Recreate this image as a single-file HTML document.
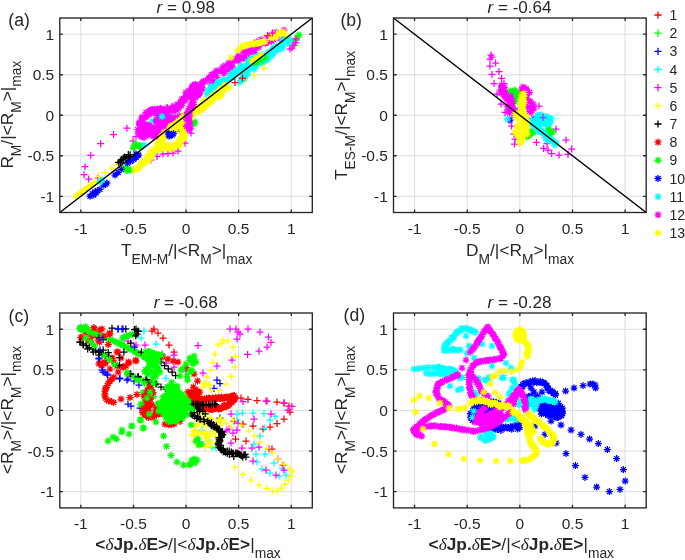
<!DOCTYPE html>
<html lang="en"><head><meta charset="utf-8"><title>Figure</title>
<style>
html,body{margin:0;padding:0;background:#fff;}
body{width:685px;height:560px;overflow:hidden;font-family:"Liberation Sans", Arial, Helvetica, sans-serif;}
svg{display:block;will-change:transform;}
</style></head><body>
<svg width="685" height="560" viewBox="0 0 685 560" font-family='"Liberation Sans", Arial, Helvetica, sans-serif' fill="#262626">
<g id="ax-a">
<line x1="80.84" y1="18.0" x2="80.84" y2="212.5" stroke="#dcdcdc" stroke-width="1"/>
<line x1="59.8" y1="196.29" x2="312.3" y2="196.29" stroke="#dcdcdc" stroke-width="1"/>
<line x1="133.45" y1="18.0" x2="133.45" y2="212.5" stroke="#dcdcdc" stroke-width="1"/>
<line x1="59.8" y1="155.77" x2="312.3" y2="155.77" stroke="#dcdcdc" stroke-width="1"/>
<line x1="186.05" y1="18.0" x2="186.05" y2="212.5" stroke="#dcdcdc" stroke-width="1"/>
<line x1="59.8" y1="115.25" x2="312.3" y2="115.25" stroke="#dcdcdc" stroke-width="1"/>
<line x1="238.65" y1="18.0" x2="238.65" y2="212.5" stroke="#dcdcdc" stroke-width="1"/>
<line x1="59.8" y1="74.73" x2="312.3" y2="74.73" stroke="#dcdcdc" stroke-width="1"/>
<line x1="291.26" y1="18.0" x2="291.26" y2="212.5" stroke="#dcdcdc" stroke-width="1"/>
<line x1="59.8" y1="34.21" x2="312.3" y2="34.21" stroke="#dcdcdc" stroke-width="1"/>
<g class="pts"><path d="M123.4 128.2h7M126.9 124.7v7M110.0 134.6h7M113.5 131.1v7M97.1 143.7h7M100.6 140.2v7M87.3 155.3h7M90.8 151.8v7M81.5 166.7h7M85.0 163.2v7M80.5 174.7h7M84.0 171.2v7M85.2 179.0h7M88.7 175.5v7M94.5 178.0h7M98.0 174.5v7M147.5 160.0h7M151.0 156.5v7M153.5 156.4h7M157.0 152.9v7M159.5 154.0h7M163.0 150.5v7M164.5 153.6h7M168.0 150.1v7M169.5 153.0h7M173.0 149.5v7M174.5 151.0h7M178.0 147.5v7M181.5 143.0h7M185.0 139.5v7M187.5 133.0h7M191.0 129.5v7M132.5 136.5h7M136.0 133.0v7M136.0 124.0h7M139.5 120.5v7M162.5 108.0h7M166.0 104.5v7M169.5 107.0h7M173.0 103.5v7M264.5 36.0h7M268.0 32.5v7M268.5 34.0h7M272.0 30.5v7M288.5 48.0h7M292.0 44.5v7M290.5 45.0h7M294.0 41.5v7M292.5 40.0h7M296.0 36.5v7M129.5 141.0h7M133.0 137.5v7M130.5 148.0h7M134.0 144.5v7" stroke="#ff00ff" stroke-width="1.25" fill="none"/>
<path d="M72.0 196.5h7M75.5 193.0v7M73.8 195.1h7M77.3 191.6v7M75.6 193.7h7M79.1 190.2v7M77.5 192.3h7M81.0 188.8v7M79.3 190.9h7M82.8 187.4v7M81.2 189.6h7M84.7 186.1v7M83.1 188.2h7M86.6 184.7v7M84.9 186.9h7M88.4 183.4v7M86.8 185.6h7M90.3 182.1v7M88.7 184.2h7M92.2 180.7v7M90.5 182.9h7M94.0 179.4v7M92.4 181.6h7M95.9 178.1v7" stroke="#ffff00" stroke-width="1.25" fill="none"/>
<path d="M95.2 176.2h7M98.8 172.8v7M101.5 172.5h7M105.0 169.0v7M108.4 168.0h7M111.9 164.5v7M114.0 164.4h7M117.5 160.9v7" stroke="#ffff00" stroke-width="1.25" fill="none"/>
<path d="M240.5 81.0h7M244.0 77.5v7M250.5 75.0h7M254.0 71.5v7M260.5 68.0h7M264.0 64.5v7" stroke="#ffff00" stroke-width="1.25" fill="none"/>
<path d="M114.9 162.3h7M118.4 158.8v7M116.6 162.8h7M120.1 159.3v7M117.2 161.0h7M120.7 157.5v7M117.8 159.6h7M121.3 156.1v7M119.7 159.9h7M123.2 156.4v7M119.7 158.1h7M123.2 154.6v7M121.0 157.1h7M124.5 153.6v7M122.6 158.2h7M126.1 154.7v7M124.8 157.7h7M128.3 154.2v7M125.0 156.3h7M128.5 152.8v7M124.8 154.6h7M128.3 151.1v7M126.6 154.8h7M130.1 151.3v7" stroke="#000000" stroke-width="1.25" fill="none"/>
<path d="M121.2 167.7h7M124.7 164.2v7M122.2 165.2l5.0 5.0M122.2 170.2l5.0 -5.0M119.8 168.8h7M123.3 165.3v7M120.8 166.3l5.0 5.0M120.8 171.3l5.0 -5.0M123.5 170.7h7M127.0 167.2v7M124.4 168.2l5.0 5.0M124.4 173.2l5.0 -5.0M124.2 169.7h7M127.7 166.2v7M125.2 167.2l5.0 5.0M125.2 172.2l5.0 -5.0M124.0 169.8h7M127.5 166.3v7M125.0 167.3l5.0 5.0M125.0 172.3l5.0 -5.0M123.6 167.9h7M127.1 164.4v7M124.6 165.4l5.0 5.0M124.6 170.4l5.0 -5.0M127.1 170.0h7M130.6 166.5v7M128.0 167.5l5.0 5.0M128.0 172.6l5.0 -5.0" stroke="#00ff00" stroke-width="1.25" fill="none"/>
<path d="M131.8 145.1h7M135.3 141.6v7M132.8 142.6l5.0 5.0M132.8 147.6l5.0 -5.0M131.6 144.0h7M135.1 140.5v7M132.6 141.5l5.0 5.0M132.6 146.5l5.0 -5.0M135.9 146.3h7M139.4 142.8v7M136.9 143.8l5.0 5.0M136.9 148.8l5.0 -5.0M136.6 146.2h7M140.1 142.7v7M137.6 143.7l5.0 5.0M137.6 148.7l5.0 -5.0M137.2 146.8h7M140.7 143.3v7M138.2 144.3l5.0 5.0M138.2 149.3l5.0 -5.0M137.8 146.3h7M141.3 142.8v7M138.8 143.8l5.0 5.0M138.8 148.8l5.0 -5.0M129.7 147.9h7M133.2 144.4v7M130.6 145.4l5.0 5.0M130.6 150.4l5.0 -5.0M136.0 145.4h7M139.5 141.9v7M137.0 142.9l5.0 5.0M137.0 147.9l5.0 -5.0" stroke="#00ff00" stroke-width="1.25" fill="none"/>
<path d="M191.5 122.0h7M195.0 118.5v7M192.5 119.5l5.0 5.0M192.5 124.5l5.0 -5.0M190.5 124.0h7M194.0 120.5v7M191.5 121.5l5.0 5.0M191.5 126.5l5.0 -5.0M295.5 35.0h7M299.0 31.5v7M296.5 32.5l5.0 5.0M296.5 37.5l5.0 -5.0M290.5 41.0h7M294.0 37.5v7M291.5 38.5l5.0 5.0M291.5 43.5l5.0 -5.0M293.5 38.0h7M297.0 34.5v7M294.5 35.5l5.0 5.0M294.5 40.5l5.0 -5.0M260.5 60.0h7M264.0 56.5v7M261.5 57.5l5.0 5.0M261.5 62.5l5.0 -5.0M258.5 62.0h7M262.0 58.5v7M259.5 59.5l5.0 5.0M259.5 64.5l5.0 -5.0" stroke="#00ff00" stroke-width="1.25" fill="none"/>
<path d="M86.5 196.2h7M90.0 192.8v7M87.5 193.7l5.0 5.0M87.5 198.8l5.0 -5.0M89.0 193.8h7M92.5 190.2v7M90.0 191.2l5.0 5.0M90.0 196.3l5.0 -5.0M91.5 191.9h7M95.0 188.4v7M92.5 189.4l5.0 5.0M92.5 194.4l5.0 -5.0M94.0 190.6h7M97.5 187.1v7M95.0 188.1l5.0 5.0M95.0 193.1l5.0 -5.0M96.5 189.4h7M100.0 185.9v7M97.5 186.9l5.0 5.0M97.5 191.9l5.0 -5.0M90.2 195.0h7M93.8 191.5v7M91.2 192.5l5.0 5.0M91.2 197.5l5.0 -5.0M92.8 192.8h7M96.2 189.2v7M93.7 190.2l5.0 5.0M93.7 195.3l5.0 -5.0M100.2 185.0h7M103.8 181.5v7M101.2 182.5l5.0 5.0M101.2 187.5l5.0 -5.0M103.4 183.1h7M106.9 179.6v7M104.4 180.6l5.0 5.0M104.4 185.6l5.0 -5.0M102.1 184.4h7M105.6 180.9v7M103.1 181.9l5.0 5.0M103.1 186.9l5.0 -5.0M111.5 175.0h7M115.0 171.5v7M112.5 172.5l5.0 5.0M112.5 177.5l5.0 -5.0M114.6 172.5h7M118.1 169.0v7M115.6 170.0l5.0 5.0M115.6 175.0l5.0 -5.0M117.8 169.4h7M121.2 165.9v7M118.7 166.9l5.0 5.0M118.7 171.9l5.0 -5.0M124.0 163.1h7M127.5 159.6v7M125.0 160.6l5.0 5.0M125.0 165.6l5.0 -5.0M127.1 161.2h7M130.6 157.8v7M128.1 158.7l5.0 5.0M128.1 163.8l5.0 -5.0M130.2 159.4h7M133.8 155.9v7M131.2 156.9l5.0 5.0M131.2 161.9l5.0 -5.0M135.2 155.0h7M138.8 151.5v7M136.2 152.5l5.0 5.0M136.2 157.5l5.0 -5.0M132.8 157.5h7M136.2 154.0v7M133.7 155.0l5.0 5.0M133.7 160.0l5.0 -5.0" stroke="#0000ff" stroke-width="1.25" fill="none"/>
<path d="M194.5 95.0h7M198.0 91.5v7M195.5 92.5l5.0 5.0M195.5 97.5l5.0 -5.0M132.5 154.0h7M136.0 150.5v7M133.5 151.5l5.0 5.0M133.5 156.5l5.0 -5.0M173.5 129.0h7M177.0 125.5v7M174.5 126.5l5.0 5.0M174.5 131.5l5.0 -5.0" stroke="#0000ff" stroke-width="1.25" fill="none"/>
<path d="M158.5 117.0h7M162.0 113.5v7M159.5 114.5l5.0 5.0M159.5 119.5l5.0 -5.0M156.5 119.0h7M160.0 115.5v7M157.5 116.5l5.0 5.0M157.5 121.5l5.0 -5.0M152.5 129.0h7M156.0 125.5v7M153.5 126.5l5.0 5.0M153.5 131.5l5.0 -5.0M148.5 121.0h7M152.0 117.5v7M149.5 118.5l5.0 5.0M149.5 123.5l5.0 -5.0" stroke="#00ffff" stroke-width="1.25" fill="none"/>
<path d="M190.2 89.6h7M193.7 86.1v7M191.2 87.1l5.0 5.0M191.2 92.1l5.0 -5.0M196.3 93.6h7M199.8 90.1v7M197.3 91.1l5.0 5.0M197.3 96.1l5.0 -5.0M192.8 87.8h7M196.3 84.3v7M193.7 85.2l5.0 5.0M193.7 90.3l5.0 -5.0M193.7 86.7h7M197.2 83.2v7M194.7 84.2l5.0 5.0M194.7 89.2l5.0 -5.0M198.7 89.8h7M202.2 86.3v7M199.7 87.3l5.0 5.0M199.7 92.4l5.0 -5.0M198.8 87.2h7M202.3 83.7v7M199.8 84.7l5.0 5.0M199.8 89.7l5.0 -5.0M198.3 83.7h7M201.8 80.2v7M199.3 81.2l5.0 5.0M199.3 86.2l5.0 -5.0M199.2 82.4h7M202.7 78.9v7M200.2 79.9l5.0 5.0M200.2 84.9l5.0 -5.0M200.2 81.4h7M203.7 77.9v7M201.1 78.9l5.0 5.0M201.1 83.9l5.0 -5.0M201.8 81.0h7M205.3 77.5v7M202.8 78.5l5.0 5.0M202.8 83.5l5.0 -5.0M207.3 84.3h7M210.8 80.8v7M208.3 81.7l5.0 5.0M208.3 86.8l5.0 -5.0M205.1 79.1h7M208.6 75.6v7M206.1 76.6l5.0 5.0M206.1 81.6l5.0 -5.0M205.6 77.8h7M209.1 74.3v7M206.5 75.3l5.0 5.0M206.5 80.3l5.0 -5.0M210.2 80.7h7M213.7 77.2v7M211.2 78.1l5.0 5.0M211.2 83.2l5.0 -5.0M208.0 74.7h7M211.5 71.2v7M208.9 72.2l5.0 5.0M208.9 77.3l5.0 -5.0M209.2 74.9h7M212.7 71.4v7M210.2 72.4l5.0 5.0M210.2 77.4l5.0 -5.0M213.3 77.3h7M216.8 73.8v7M214.3 74.8l5.0 5.0M214.3 79.9l5.0 -5.0M212.0 73.5h7M215.5 70.0v7M213.0 71.0l5.0 5.0M213.0 76.0l5.0 -5.0M212.6 70.9h7M216.1 67.4v7M213.6 68.4l5.0 5.0M213.6 73.4l5.0 -5.0M214.7 70.8h7M218.2 67.3v7M215.6 68.3l5.0 5.0M215.6 73.4l5.0 -5.0M216.5 70.8h7M220.0 67.3v7M217.5 68.2l5.0 5.0M217.5 73.3l5.0 -5.0M220.5 73.7h7M224.0 70.2v7M221.5 71.1l5.0 5.0M221.5 76.2l5.0 -5.0M220.4 70.0h7M223.9 66.5v7M221.4 67.5l5.0 5.0M221.4 72.5l5.0 -5.0M219.3 66.9h7M222.8 63.4v7M220.3 64.4l5.0 5.0M220.3 69.4l5.0 -5.0M224.5 70.4h7M228.0 66.9v7M225.5 67.9l5.0 5.0M225.5 72.9l5.0 -5.0M222.3 65.5h7M225.8 62.0v7M223.3 63.0l5.0 5.0M223.3 68.0l5.0 -5.0M226.4 67.4h7M229.9 63.9v7M227.4 64.9l5.0 5.0M227.4 69.9l5.0 -5.0M225.3 62.9h7M228.8 59.4v7M226.3 60.4l5.0 5.0M226.3 65.4l5.0 -5.0M229.3 66.9h7M232.8 63.4v7M230.3 64.4l5.0 5.0M230.3 69.4l5.0 -5.0M228.4 63.2h7M231.9 59.7v7M229.4 60.6l5.0 5.0M229.4 65.7l5.0 -5.0M229.0 59.3h7M232.5 55.8v7M229.9 56.8l5.0 5.0M229.9 61.8l5.0 -5.0M230.9 60.0h7M234.4 56.5v7M231.9 57.5l5.0 5.0M231.9 62.5l5.0 -5.0M232.5 59.3h7M236.0 55.8v7M233.5 56.7l5.0 5.0M233.5 61.8l5.0 -5.0M234.8 61.1h7M238.3 57.6v7M235.8 58.5l5.0 5.0M235.8 63.6l5.0 -5.0M234.8 57.1h7M238.3 53.6v7M235.8 54.6l5.0 5.0M235.8 59.7l5.0 -5.0M235.3 55.9h7M238.8 52.4v7M236.3 53.3l5.0 5.0M236.3 58.4l5.0 -5.0M239.2 58.0h7M242.7 54.5v7M240.2 55.5l5.0 5.0M240.2 60.6l5.0 -5.0M240.4 57.7h7M243.9 54.2v7M241.3 55.2l5.0 5.0M241.3 60.2l5.0 -5.0M243.1 58.6h7M246.6 55.1v7M244.0 56.1l5.0 5.0M244.0 61.1l5.0 -5.0M239.9 52.0h7M243.4 48.5v7M240.8 49.4l5.0 5.0M240.8 54.5l5.0 -5.0M243.1 53.8h7M246.6 50.3v7M244.1 51.2l5.0 5.0M244.1 56.3l5.0 -5.0M243.2 50.9h7M246.7 47.4v7M244.2 48.4l5.0 5.0M244.2 53.4l5.0 -5.0M246.3 52.5h7M249.8 49.0v7M247.3 50.0l5.0 5.0M247.3 55.0l5.0 -5.0M247.1 49.7h7M250.6 46.2v7M248.0 47.2l5.0 5.0M248.0 52.3l5.0 -5.0M251.1 52.9h7M254.6 49.4v7M252.1 50.3l5.0 5.0M252.1 55.4l5.0 -5.0M251.0 50.1h7M254.5 46.6v7M251.9 47.6l5.0 5.0M251.9 52.7l5.0 -5.0M249.3 45.9h7M252.8 42.4v7M250.3 43.4l5.0 5.0M250.3 48.4l5.0 -5.0M250.7 43.7h7M254.2 40.2v7M251.7 41.2l5.0 5.0M251.7 46.2l5.0 -5.0M255.2 47.2h7M258.7 43.7v7M256.2 44.7l5.0 5.0M256.2 49.8l5.0 -5.0M253.2 42.1h7M256.7 38.6v7M254.1 39.5l5.0 5.0M254.1 44.6l5.0 -5.0M256.7 44.1h7M260.2 40.6v7M257.6 41.6l5.0 5.0M257.6 46.6l5.0 -5.0M257.5 42.0h7M261.0 38.5v7M258.4 39.4l5.0 5.0M258.4 44.5l5.0 -5.0M257.5 39.7h7M261.0 36.2v7M258.4 37.1l5.0 5.0M258.4 42.2l5.0 -5.0M261.9 43.2h7M265.4 39.7v7M262.9 40.7l5.0 5.0M262.9 45.7l5.0 -5.0M263.1 42.4h7M266.6 38.9v7M264.1 39.9l5.0 5.0M264.1 45.0l5.0 -5.0M264.9 41.9h7M268.4 38.4v7M265.9 39.4l5.0 5.0M265.9 44.4l5.0 -5.0M264.3 38.2h7M267.8 34.7v7M265.2 35.6l5.0 5.0M265.2 40.7l5.0 -5.0M268.0 41.0h7M271.5 37.5v7M269.0 38.5l5.0 5.0M269.0 43.5l5.0 -5.0M267.4 36.9h7M270.9 33.4v7M268.4 34.4l5.0 5.0M268.4 39.4l5.0 -5.0M270.0 39.6h7M273.5 36.1v7M271.0 37.1l5.0 5.0M271.0 42.1l5.0 -5.0M270.6 37.4h7M274.1 33.9v7M271.6 34.9l5.0 5.0M271.6 40.0l5.0 -5.0M272.2 36.6h7M275.7 33.1v7M273.2 34.1l5.0 5.0M273.2 39.1l5.0 -5.0M272.7 32.3h7M276.2 28.8v7M273.7 29.8l5.0 5.0M273.7 34.8l5.0 -5.0M276.5 38.8h7M280.0 35.3v7M277.4 36.3l5.0 5.0M277.4 41.4l5.0 -5.0M277.0 36.5h7M280.5 33.0v7M277.9 34.0l5.0 5.0M277.9 39.0l5.0 -5.0M278.7 36.0h7M282.2 32.5v7M279.7 33.5l5.0 5.0M279.7 38.6l5.0 -5.0M279.8 33.3h7M283.3 29.8v7M280.8 30.8l5.0 5.0M280.8 35.8l5.0 -5.0M280.5 30.1h7M284.0 26.6v7M281.5 27.6l5.0 5.0M281.5 32.6l5.0 -5.0" stroke="#ff00ff" stroke-width="1.25" fill="none"/>
<path d="M134.2 129.6h7M137.7 126.1v7M135.2 127.1l5.0 5.0M135.2 132.1l5.0 -5.0M136.5 128.9h7M140.0 125.4v7M137.5 126.4l5.0 5.0M137.5 131.4l5.0 -5.0M137.8 127.5h7M141.3 124.0v7M138.8 125.0l5.0 5.0M138.8 130.1l5.0 -5.0M137.6 125.9h7M141.1 122.4v7M138.6 123.4l5.0 5.0M138.6 128.4l5.0 -5.0M135.9 125.1h7M139.4 121.6v7M136.9 122.5l5.0 5.0M136.9 127.6l5.0 -5.0M136.3 123.3h7M139.8 119.8v7M137.3 120.8l5.0 5.0M137.3 125.8l5.0 -5.0M136.0 122.1h7M139.5 118.6v7M136.9 119.6l5.0 5.0M136.9 124.6l5.0 -5.0M139.9 121.9h7M143.4 118.4v7M140.9 119.4l5.0 5.0M140.9 124.4l5.0 -5.0M138.6 119.6h7M142.1 116.1v7M139.5 117.0l5.0 5.0M139.5 122.1l5.0 -5.0M138.6 118.3h7M142.1 114.8v7M139.6 115.8l5.0 5.0M139.6 120.8l5.0 -5.0M138.6 117.0h7M142.1 113.5v7M139.6 114.5l5.0 5.0M139.6 119.5l5.0 -5.0M142.1 117.1h7M145.6 113.6v7M143.1 114.5l5.0 5.0M143.1 119.6l5.0 -5.0M142.7 116.7h7M146.2 113.2v7M143.6 114.2l5.0 5.0M143.6 119.2l5.0 -5.0M142.3 115.0h7M145.8 111.5v7M143.3 112.5l5.0 5.0M143.3 117.6l5.0 -5.0M142.4 112.4h7M145.9 108.9v7M143.4 109.9l5.0 5.0M143.4 114.9l5.0 -5.0M145.5 114.7h7M149.0 111.2v7M146.5 112.1l5.0 5.0M146.5 117.2l5.0 -5.0M146.4 113.4h7M149.9 109.9v7M147.4 110.9l5.0 5.0M147.4 115.9l5.0 -5.0M145.9 111.2h7M149.4 107.7v7M146.9 108.7l5.0 5.0M146.9 113.7l5.0 -5.0M147.6 111.2h7M151.1 107.7v7M148.5 108.7l5.0 5.0M148.5 113.8l5.0 -5.0M148.8 109.6h7M152.3 106.1v7M149.8 107.1l5.0 5.0M149.8 112.2l5.0 -5.0M150.2 111.8h7M153.7 108.3v7M151.2 109.3l5.0 5.0M151.2 114.4l5.0 -5.0M152.0 110.5h7M155.5 107.0v7M152.9 108.0l5.0 5.0M152.9 113.0l5.0 -5.0M152.5 113.9h7M156.0 110.4v7M153.5 111.4l5.0 5.0M153.5 116.5l5.0 -5.0M154.1 109.6h7M157.6 106.1v7M155.1 107.0l5.0 5.0M155.1 112.1l5.0 -5.0M154.7 113.6h7M158.2 110.1v7M155.7 111.1l5.0 5.0M155.7 116.2l5.0 -5.0M156.1 113.1h7M159.6 109.6v7M157.1 110.6l5.0 5.0M157.1 115.6l5.0 -5.0M158.4 112.8h7M161.9 109.3v7M159.3 110.3l5.0 5.0M159.3 115.3l5.0 -5.0M160.0 112.5h7M163.5 109.0v7M161.0 110.0l5.0 5.0M161.0 115.0l5.0 -5.0M159.0 114.8h7M162.5 111.3v7M160.0 112.3l5.0 5.0M160.0 117.3l5.0 -5.0M158.4 116.9h7M161.9 113.4v7M159.4 114.4l5.0 5.0M159.4 119.5l5.0 -5.0M162.2 117.0h7M165.7 113.5v7M163.1 114.5l5.0 5.0M163.1 119.5l5.0 -5.0M159.3 118.2h7M162.8 114.7v7M160.3 115.7l5.0 5.0M160.3 120.7l5.0 -5.0M158.7 119.6h7M162.2 116.1v7M159.7 117.0l5.0 5.0M159.7 122.1l5.0 -5.0M157.3 120.6h7M160.8 117.1v7M158.3 118.1l5.0 5.0M158.3 123.1l5.0 -5.0M157.6 121.5h7M161.1 118.0v7M158.5 119.0l5.0 5.0M158.5 124.0l5.0 -5.0M158.0 123.1h7M161.5 119.6v7M159.0 120.6l5.0 5.0M159.0 125.6l5.0 -5.0M159.2 125.8h7M162.7 122.3v7M160.1 123.3l5.0 5.0M160.1 128.3l5.0 -5.0M155.7 124.5h7M159.2 121.0v7M156.6 122.0l5.0 5.0M156.6 127.0l5.0 -5.0M156.4 127.0h7M159.9 123.5v7M157.4 124.5l5.0 5.0M157.4 129.5l5.0 -5.0M153.9 126.7h7M157.4 123.2v7M154.8 124.2l5.0 5.0M154.8 129.3l5.0 -5.0M153.2 128.1h7M156.7 124.6v7M154.2 125.6l5.0 5.0M154.2 130.7l5.0 -5.0M153.2 129.9h7M156.7 126.4v7M154.2 127.3l5.0 5.0M154.2 132.4l5.0 -5.0M150.8 128.7h7M154.3 125.2v7M151.8 126.2l5.0 5.0M151.8 131.2l5.0 -5.0M149.6 129.7h7M153.1 126.2v7M150.6 127.2l5.0 5.0M150.6 132.2l5.0 -5.0M151.2 133.5h7M154.7 130.0v7M152.2 131.0l5.0 5.0M152.2 136.0l5.0 -5.0M148.4 132.4h7M151.9 128.9v7M149.4 129.9l5.0 5.0M149.4 134.9l5.0 -5.0M148.3 134.0h7M151.8 130.5v7M149.3 131.5l5.0 5.0M149.3 136.6l5.0 -5.0M145.6 132.9h7M149.1 129.4v7M146.6 130.3l5.0 5.0M146.6 135.4l5.0 -5.0M144.6 133.2h7M148.1 129.7v7M145.6 130.7l5.0 5.0M145.6 135.7l5.0 -5.0M144.7 135.0h7M148.2 131.5v7M145.7 132.5l5.0 5.0M145.7 137.5l5.0 -5.0M143.2 134.9h7M146.7 131.4v7M144.2 132.4l5.0 5.0M144.2 137.4l5.0 -5.0M142.1 135.3h7M145.6 131.8v7M143.1 132.8l5.0 5.0M143.1 137.8l5.0 -5.0M140.7 137.4h7M144.2 133.9v7M141.7 134.9l5.0 5.0M141.7 140.0l5.0 -5.0M139.4 133.6h7M142.9 130.1v7M140.4 131.1l5.0 5.0M140.4 136.1l5.0 -5.0M138.4 135.6h7M141.9 132.1v7M139.4 133.1l5.0 5.0M139.4 138.1l5.0 -5.0M137.1 134.6h7M140.6 131.1v7M138.1 132.1l5.0 5.0M138.1 137.2l5.0 -5.0M139.4 133.0h7M142.9 129.5v7M140.3 130.5l5.0 5.0M140.3 135.5l5.0 -5.0M135.3 132.9h7M138.8 129.4v7M136.2 130.4l5.0 5.0M136.2 135.4l5.0 -5.0M137.0 130.7h7M140.5 127.2v7M138.0 128.2l5.0 5.0M138.0 133.2l5.0 -5.0" stroke="#ff00ff" stroke-width="1.25" fill="none"/>
<path d="M138.4 126.8h7M141.9 123.3v7M139.4 124.3l5.0 5.0M139.4 129.4l5.0 -5.0M143.4 125.3h7M146.9 121.8v7M144.4 122.8l5.0 5.0M144.4 127.8l5.0 -5.0M141.1 135.1h7M144.6 131.6v7M142.1 132.6l5.0 5.0M142.1 137.6l5.0 -5.0M143.1 132.9h7M146.6 129.4v7M144.1 130.4l5.0 5.0M144.1 135.4l5.0 -5.0M147.2 129.6h7M150.7 126.1v7M148.1 127.1l5.0 5.0M148.1 132.2l5.0 -5.0M147.3 126.9h7M150.8 123.4v7M148.3 124.4l5.0 5.0M148.3 129.4l5.0 -5.0M138.0 133.8h7M141.5 130.3v7M139.0 131.2l5.0 5.0M139.0 136.3l5.0 -5.0M140.2 135.0h7M143.7 131.5v7M141.1 132.5l5.0 5.0M141.1 137.5l5.0 -5.0M143.5 130.0h7M147.0 126.5v7M144.5 127.4l5.0 5.0M144.5 132.5l5.0 -5.0M146.4 128.4h7M149.9 124.9v7M147.4 125.9l5.0 5.0M147.4 131.0l5.0 -5.0M138.3 131.6h7M141.8 128.1v7M139.3 129.1l5.0 5.0M139.3 134.1l5.0 -5.0M139.8 136.8h7M143.3 133.3v7M140.8 134.3l5.0 5.0M140.8 139.3l5.0 -5.0M147.8 127.0h7M151.3 123.5v7M148.8 124.5l5.0 5.0M148.8 129.5l5.0 -5.0M140.6 127.6h7M144.1 124.1v7M141.6 125.1l5.0 5.0M141.6 130.1l5.0 -5.0M142.0 130.7h7M145.5 127.2v7M143.0 128.2l5.0 5.0M143.0 133.2l5.0 -5.0M140.0 125.8h7M143.5 122.3v7M140.9 123.2l5.0 5.0M140.9 128.3l5.0 -5.0M147.8 126.9h7M151.3 123.4v7M148.8 124.4l5.0 5.0M148.8 129.4l5.0 -5.0M142.1 134.6h7M145.6 131.1v7M143.0 132.1l5.0 5.0M143.0 137.2l5.0 -5.0M142.3 130.4h7M145.8 126.9v7M143.3 127.8l5.0 5.0M143.3 132.9l5.0 -5.0M141.3 125.3h7M144.8 121.8v7M142.3 122.8l5.0 5.0M142.3 127.9l5.0 -5.0M141.5 129.9h7M145.0 126.4v7M142.5 127.3l5.0 5.0M142.5 132.4l5.0 -5.0M138.3 132.8h7M141.8 129.3v7M139.3 130.3l5.0 5.0M139.3 135.4l5.0 -5.0M136.2 133.8h7M139.7 130.3v7M137.1 131.2l5.0 5.0M137.1 136.3l5.0 -5.0M140.1 129.6h7M143.6 126.1v7M141.0 127.0l5.0 5.0M141.0 132.1l5.0 -5.0M138.2 134.9h7M141.7 131.4v7M139.1 132.3l5.0 5.0M139.1 137.4l5.0 -5.0M135.8 131.3h7M139.3 127.8v7M136.7 128.8l5.0 5.0M136.7 133.8l5.0 -5.0M142.9 127.7h7M146.4 124.2v7M143.8 125.2l5.0 5.0M143.8 130.2l5.0 -5.0M140.3 133.4h7M143.8 129.9v7M141.3 130.9l5.0 5.0M141.3 135.9l5.0 -5.0M137.7 136.7h7M141.2 133.2v7M138.7 134.1l5.0 5.0M138.7 139.2l5.0 -5.0M136.6 134.5h7M140.1 131.0v7M137.6 132.0l5.0 5.0M137.6 137.0l5.0 -5.0M136.3 130.5h7M139.8 127.0v7M137.3 128.0l5.0 5.0M137.3 133.0l5.0 -5.0M141.5 130.2h7M145.0 126.7v7M142.5 127.6l5.0 5.0M142.5 132.7l5.0 -5.0M139.3 131.3h7M142.8 127.8v7M140.3 128.8l5.0 5.0M140.3 133.9l5.0 -5.0M139.8 127.6h7M143.3 124.1v7M140.8 125.1l5.0 5.0M140.8 130.2l5.0 -5.0M138.4 134.9h7M141.9 131.4v7M139.4 132.3l5.0 5.0M139.4 137.4l5.0 -5.0M143.5 130.0h7M147.0 126.5v7M144.5 127.5l5.0 5.0M144.5 132.5l5.0 -5.0M146.8 128.8h7M150.3 125.3v7M147.8 126.3l5.0 5.0M147.8 131.4l5.0 -5.0M144.6 125.3h7M148.1 121.8v7M145.5 122.8l5.0 5.0M145.5 127.9l5.0 -5.0M146.6 131.6h7M150.1 128.1v7M147.6 129.1l5.0 5.0M147.6 134.2l5.0 -5.0M145.7 125.7h7M149.2 122.2v7M146.7 123.2l5.0 5.0M146.7 128.2l5.0 -5.0" stroke="#ff00ff" stroke-width="1.25" fill="none"/>
<path d="M159.9 127.1h7M163.4 123.6v7M160.9 124.5l5.0 5.0M160.9 129.6l5.0 -5.0M157.4 126.0h7M160.9 122.5v7M158.4 123.5l5.0 5.0M158.4 128.5l5.0 -5.0M153.1 119.8h7M156.6 116.3v7M154.1 117.3l5.0 5.0M154.1 122.3l5.0 -5.0M163.7 116.6h7M167.2 113.1v7M164.7 114.1l5.0 5.0M164.7 119.2l5.0 -5.0M160.9 114.3h7M164.4 110.8v7M161.9 111.7l5.0 5.0M161.9 116.8l5.0 -5.0M159.5 123.8h7M163.0 120.3v7M160.4 121.3l5.0 5.0M160.4 126.3l5.0 -5.0M165.1 122.9h7M168.6 119.4v7M166.1 120.4l5.0 5.0M166.1 125.5l5.0 -5.0M161.5 123.4h7M165.0 119.9v7M162.4 120.9l5.0 5.0M162.4 125.9l5.0 -5.0M160.9 122.7h7M164.4 119.2v7M161.9 120.2l5.0 5.0M161.9 125.3l5.0 -5.0M160.3 120.6h7M163.8 117.1v7M161.3 118.1l5.0 5.0M161.3 123.1l5.0 -5.0M157.9 116.9h7M161.4 113.4v7M158.9 114.4l5.0 5.0M158.9 119.4l5.0 -5.0M152.8 121.6h7M156.3 118.1v7M153.8 119.1l5.0 5.0M153.8 124.1l5.0 -5.0M160.9 123.9h7M164.4 120.4v7M161.9 121.4l5.0 5.0M161.9 126.5l5.0 -5.0M156.8 122.6h7M160.3 119.1v7M157.8 120.1l5.0 5.0M157.8 125.1l5.0 -5.0M159.2 120.2h7M162.7 116.7v7M160.2 117.6l5.0 5.0M160.2 122.7l5.0 -5.0M157.4 115.3h7M160.9 111.8v7M158.4 112.7l5.0 5.0M158.4 117.8l5.0 -5.0M164.9 122.1h7M168.4 118.6v7M165.9 119.6l5.0 5.0M165.9 124.6l5.0 -5.0M154.6 124.0h7M158.1 120.5v7M155.6 121.5l5.0 5.0M155.6 126.6l5.0 -5.0M162.2 117.5h7M165.7 114.0v7M163.2 115.0l5.0 5.0M163.2 120.0l5.0 -5.0M152.7 121.1h7M156.2 117.6v7M153.7 118.6l5.0 5.0M153.7 123.6l5.0 -5.0M156.2 116.2h7M159.7 112.7v7M157.1 113.7l5.0 5.0M157.1 118.8l5.0 -5.0M167.3 119.6h7M170.8 116.1v7M168.3 117.1l5.0 5.0M168.3 122.1l5.0 -5.0M165.1 122.2h7M168.6 118.7v7M166.0 119.7l5.0 5.0M166.0 124.7l5.0 -5.0M160.7 118.7h7M164.2 115.2v7M161.6 116.2l5.0 5.0M161.6 121.2l5.0 -5.0M161.0 120.0h7M164.5 116.5v7M161.9 117.4l5.0 5.0M161.9 122.5l5.0 -5.0M159.0 127.6h7M162.5 124.1v7M160.0 125.0l5.0 5.0M160.0 130.1l5.0 -5.0M165.0 121.0h7M168.5 117.5v7M166.0 118.5l5.0 5.0M166.0 123.5l5.0 -5.0M163.3 116.7h7M166.8 113.2v7M164.3 114.2l5.0 5.0M164.3 119.2l5.0 -5.0M164.2 121.4h7M167.7 117.9v7M165.2 118.9l5.0 5.0M165.2 124.0l5.0 -5.0M162.6 117.2h7M166.1 113.7v7M163.6 114.7l5.0 5.0M163.6 119.7l5.0 -5.0M159.6 114.5h7M163.1 111.0v7M160.6 112.0l5.0 5.0M160.6 117.0l5.0 -5.0M157.0 122.4h7M160.5 118.9v7M158.0 119.9l5.0 5.0M158.0 124.9l5.0 -5.0M162.4 120.7h7M165.9 117.2v7M163.4 118.2l5.0 5.0M163.4 123.2l5.0 -5.0M160.7 117.6h7M164.2 114.1v7M161.7 115.1l5.0 5.0M161.7 120.2l5.0 -5.0M162.3 119.9h7M165.8 116.4v7M163.3 117.4l5.0 5.0M163.3 122.4l5.0 -5.0M159.2 119.6h7M162.7 116.1v7M160.2 117.1l5.0 5.0M160.2 122.1l5.0 -5.0M164.3 121.3h7M167.8 117.8v7M165.3 118.8l5.0 5.0M165.3 123.8l5.0 -5.0M162.9 122.0h7M166.4 118.5v7M163.9 119.5l5.0 5.0M163.9 124.5l5.0 -5.0M155.3 122.7h7M158.8 119.2v7M156.3 120.2l5.0 5.0M156.3 125.2l5.0 -5.0M154.8 118.5h7M158.3 115.0v7M155.8 116.0l5.0 5.0M155.8 121.0l5.0 -5.0M158.9 127.6h7M162.4 124.1v7M159.9 125.1l5.0 5.0M159.9 130.1l5.0 -5.0M160.3 120.5h7M163.8 117.0v7M161.3 118.0l5.0 5.0M161.3 123.0l5.0 -5.0M166.7 116.6h7M170.2 113.1v7M167.7 114.0l5.0 5.0M167.7 119.1l5.0 -5.0M162.8 122.4h7M166.3 118.9v7M163.8 119.9l5.0 5.0M163.8 124.9l5.0 -5.0M154.4 124.4h7M157.9 120.9v7M155.4 121.9l5.0 5.0M155.4 127.0l5.0 -5.0M154.7 124.6h7M158.2 121.1v7M155.7 122.0l5.0 5.0M155.7 127.1l5.0 -5.0M157.9 115.6h7M161.4 112.1v7M158.9 113.1l5.0 5.0M158.9 118.1l5.0 -5.0M165.3 115.4h7M168.8 111.9v7M166.3 112.9l5.0 5.0M166.3 117.9l5.0 -5.0M160.6 121.6h7M164.1 118.1v7M161.6 119.1l5.0 5.0M161.6 124.2l5.0 -5.0M156.0 120.4h7M159.5 116.9v7M157.0 117.9l5.0 5.0M157.0 122.9l5.0 -5.0" stroke="#ff00ff" stroke-width="1.25" fill="none"/>
<path d="M145.6 111.5h7M149.1 108.0v7M146.6 108.9l5.0 5.0M146.6 114.0l5.0 -5.0M147.0 110.2h7M150.5 106.7v7M148.0 107.6l5.0 5.0M148.0 112.7l5.0 -5.0M147.8 110.1h7M151.3 106.6v7M148.8 107.6l5.0 5.0M148.8 112.6l5.0 -5.0M149.2 109.8h7M152.7 106.3v7M150.2 107.2l5.0 5.0M150.2 112.3l5.0 -5.0M151.1 109.3h7M154.6 105.8v7M152.1 106.7l5.0 5.0M152.1 111.8l5.0 -5.0M152.7 109.8h7M156.2 106.3v7M153.7 107.2l5.0 5.0M153.7 112.3l5.0 -5.0M153.6 110.7h7M157.1 107.2v7M154.5 108.2l5.0 5.0M154.5 113.3l5.0 -5.0M155.8 111.2h7M159.3 107.7v7M156.8 108.7l5.0 5.0M156.8 113.7l5.0 -5.0M156.8 108.3h7M160.3 104.8v7M157.8 105.8l5.0 5.0M157.8 110.8l5.0 -5.0M158.0 109.3h7M161.5 105.8v7M159.0 106.8l5.0 5.0M159.0 111.8l5.0 -5.0M159.2 110.9h7M162.7 107.4v7M160.2 108.4l5.0 5.0M160.2 113.4l5.0 -5.0M161.2 109.6h7M164.7 106.1v7M162.2 107.1l5.0 5.0M162.2 112.1l5.0 -5.0M162.2 110.2h7M165.7 106.7v7M163.2 107.6l5.0 5.0M163.2 112.7l5.0 -5.0M163.9 110.9h7M167.4 107.4v7M164.9 108.4l5.0 5.0M164.9 113.5l5.0 -5.0M164.7 109.8h7M168.2 106.3v7M165.7 107.3l5.0 5.0M165.7 112.3l5.0 -5.0M166.4 109.9h7M169.9 106.4v7M167.3 107.4l5.0 5.0M167.3 112.4l5.0 -5.0M167.4 108.6h7M170.9 105.1v7M168.4 106.1l5.0 5.0M168.4 111.1l5.0 -5.0M168.9 109.6h7M172.4 106.1v7M169.9 107.1l5.0 5.0M169.9 112.1l5.0 -5.0M170.7 109.3h7M174.2 105.8v7M171.7 106.8l5.0 5.0M171.7 111.8l5.0 -5.0M171.8 109.4h7M175.3 105.9v7M172.8 106.8l5.0 5.0M172.8 111.9l5.0 -5.0" stroke="#ff00ff" stroke-width="1.25" fill="none"/>
<path d="M149.7 136.4h7M153.2 132.9v7M150.7 133.9l5.0 5.0M150.7 138.9l5.0 -5.0M151.5 136.3h7M155.0 132.8v7M152.4 133.8l5.0 5.0M152.4 138.8l5.0 -5.0M153.5 136.2h7M157.0 132.7v7M154.5 133.7l5.0 5.0M154.5 138.7l5.0 -5.0M153.4 134.6h7M156.9 131.1v7M154.4 132.1l5.0 5.0M154.4 137.2l5.0 -5.0M153.2 131.0h7M156.7 127.5v7M154.2 128.5l5.0 5.0M154.2 133.5l5.0 -5.0M156.1 133.0h7M159.6 129.5v7M157.1 130.5l5.0 5.0M157.1 135.5l5.0 -5.0M155.8 130.7h7M159.3 127.2v7M156.7 128.1l5.0 5.0M156.7 133.2l5.0 -5.0M158.1 131.0h7M161.6 127.5v7M159.0 128.5l5.0 5.0M159.0 133.5l5.0 -5.0M159.0 129.8h7M162.5 126.3v7M160.0 127.3l5.0 5.0M160.0 132.3l5.0 -5.0M160.3 129.9h7M163.8 126.4v7M161.3 127.3l5.0 5.0M161.3 132.4l5.0 -5.0M160.5 126.6h7M164.0 123.1v7M161.5 124.1l5.0 5.0M161.5 129.1l5.0 -5.0M163.5 128.6h7M167.0 125.1v7M164.5 126.0l5.0 5.0M164.5 131.1l5.0 -5.0M161.5 124.6h7M165.0 121.1v7M162.5 122.1l5.0 5.0M162.5 127.1l5.0 -5.0M163.6 124.5h7M167.1 121.0v7M164.6 122.0l5.0 5.0M164.6 127.0l5.0 -5.0M165.5 125.3h7M169.0 121.8v7M166.5 122.8l5.0 5.0M166.5 127.8l5.0 -5.0M166.4 124.2h7M169.9 120.7v7M167.4 121.7l5.0 5.0M167.4 126.7l5.0 -5.0M166.6 121.2h7M170.1 117.7v7M167.6 118.7l5.0 5.0M167.6 123.7l5.0 -5.0M169.1 122.3h7M172.6 118.8v7M170.1 119.8l5.0 5.0M170.1 124.8l5.0 -5.0M169.6 120.9h7M173.1 117.4v7M170.6 118.3l5.0 5.0M170.6 123.4l5.0 -5.0M170.1 119.4h7M173.6 115.9v7M171.1 116.9l5.0 5.0M171.1 122.0l5.0 -5.0M173.2 120.4h7M176.7 116.9v7M174.2 117.8l5.0 5.0M174.2 122.9l5.0 -5.0M171.7 117.3h7M175.2 113.8v7M172.6 114.7l5.0 5.0M172.6 119.8l5.0 -5.0M175.4 118.9h7M178.9 115.4v7M176.4 116.4l5.0 5.0M176.4 121.4l5.0 -5.0M176.1 118.1h7M179.6 114.6v7M177.1 115.6l5.0 5.0M177.1 120.6l5.0 -5.0M176.1 115.9h7M179.6 112.4v7M177.1 113.3l5.0 5.0M177.1 118.4l5.0 -5.0" stroke="#ff00ff" stroke-width="1.25" fill="none"/>
<path d="M164.0 107.5h7M167.5 104.0v7M168.5 106.5h7M172.0 103.0v7M171.5 105.5h7M175.0 102.0v7" stroke="#ff00ff" stroke-width="1.25" fill="none"/>
<path d="M158.5 116.5h7M162.0 113.0v7M159.5 114.0l5.0 5.0M159.5 119.0l5.0 -5.0" stroke="#00ffff" stroke-width="1.25" fill="none"/>
<path d="M203.3 94.3h7M206.8 90.8v7M204.3 91.8l5.0 5.0M204.3 96.9l5.0 -5.0M204.5 92.5h7M208.0 89.0v7M205.5 90.0l5.0 5.0M205.5 95.1l5.0 -5.0M204.5 90.6h7M208.0 87.1v7M205.5 88.0l5.0 5.0M205.5 93.1l5.0 -5.0M207.2 91.3h7M210.7 87.8v7M208.2 88.7l5.0 5.0M208.2 93.8l5.0 -5.0M207.1 89.4h7M210.6 85.9v7M208.1 86.8l5.0 5.0M208.1 91.9l5.0 -5.0M207.8 86.9h7M211.3 83.4v7M208.8 84.4l5.0 5.0M208.8 89.4l5.0 -5.0M208.4 86.4h7M211.9 82.9v7M209.4 83.9l5.0 5.0M209.4 88.9l5.0 -5.0M211.3 87.3h7M214.8 83.8v7M212.3 84.8l5.0 5.0M212.3 89.8l5.0 -5.0M212.8 87.1h7M216.3 83.6v7M213.7 84.5l5.0 5.0M213.7 89.6l5.0 -5.0M214.1 86.7h7M217.6 83.2v7M215.1 84.2l5.0 5.0M215.1 89.2l5.0 -5.0M214.2 83.2h7M217.7 79.7v7M215.1 80.7l5.0 5.0M215.1 85.8l5.0 -5.0M214.8 82.0h7M218.3 78.5v7M215.7 79.5l5.0 5.0M215.7 84.5l5.0 -5.0M218.1 83.6h7M221.6 80.1v7M219.1 81.1l5.0 5.0M219.1 86.2l5.0 -5.0M217.7 81.2h7M221.2 77.7v7M218.7 78.7l5.0 5.0M218.7 83.8l5.0 -5.0M219.6 80.4h7M223.1 76.9v7M220.5 77.9l5.0 5.0M220.5 82.9l5.0 -5.0M220.4 79.9h7M223.9 76.4v7M221.3 77.4l5.0 5.0M221.3 82.4l5.0 -5.0M222.9 80.2h7M226.4 76.7v7M223.9 77.7l5.0 5.0M223.9 82.7l5.0 -5.0M225.0 80.0h7M228.5 76.5v7M226.0 77.5l5.0 5.0M226.0 82.5l5.0 -5.0M225.9 79.4h7M229.4 75.9v7M226.8 76.9l5.0 5.0M226.8 81.9l5.0 -5.0M226.7 78.2h7M230.2 74.7v7M227.7 75.6l5.0 5.0M227.7 80.7l5.0 -5.0M226.6 75.3h7M230.1 71.8v7M227.6 72.7l5.0 5.0M227.6 77.8l5.0 -5.0M230.0 76.7h7M233.5 73.2v7M230.9 74.2l5.0 5.0M230.9 79.2l5.0 -5.0M228.8 73.3h7M232.3 69.8v7M229.8 70.8l5.0 5.0M229.8 75.8l5.0 -5.0M230.4 72.9h7M233.9 69.4v7M231.4 70.4l5.0 5.0M231.4 75.4l5.0 -5.0M231.7 72.2h7M235.2 68.7v7M232.7 69.6l5.0 5.0M232.7 74.7l5.0 -5.0M232.5 70.4h7M236.0 66.9v7M233.5 67.9l5.0 5.0M233.5 72.9l5.0 -5.0M235.5 72.0h7M239.0 68.5v7M236.4 69.5l5.0 5.0M236.4 74.5l5.0 -5.0M236.8 71.3h7M240.3 67.8v7M237.8 68.8l5.0 5.0M237.8 73.8l5.0 -5.0M236.3 67.7h7M239.8 64.2v7M237.3 65.1l5.0 5.0M237.3 70.2l5.0 -5.0M239.2 69.9h7M242.7 66.4v7M240.2 67.4l5.0 5.0M240.2 72.4l5.0 -5.0M238.1 65.4h7M241.6 61.9v7M239.1 62.9l5.0 5.0M239.1 67.9l5.0 -5.0M240.9 66.7h7M244.4 63.2v7M241.9 64.1l5.0 5.0M241.9 69.2l5.0 -5.0M243.4 67.5h7M246.9 64.0v7M244.4 64.9l5.0 5.0M244.4 70.0l5.0 -5.0M243.7 66.2h7M247.2 62.7v7M244.7 63.7l5.0 5.0M244.7 68.8l5.0 -5.0M244.7 64.0h7M248.2 60.5v7M245.7 61.4l5.0 5.0M245.7 66.5l5.0 -5.0M244.1 61.6h7M247.6 58.1v7M245.1 59.0l5.0 5.0M245.1 64.1l5.0 -5.0M247.8 62.9h7M251.3 59.4v7M248.8 60.4l5.0 5.0M248.8 65.5l5.0 -5.0M246.9 59.6h7M250.4 56.1v7M247.9 57.0l5.0 5.0M247.9 62.1l5.0 -5.0M248.4 58.9h7M251.9 55.4v7M249.4 56.3l5.0 5.0M249.4 61.4l5.0 -5.0M250.7 60.3h7M254.2 56.8v7M251.7 57.7l5.0 5.0M251.7 62.8l5.0 -5.0M251.0 57.4h7M254.5 53.9v7M252.0 54.8l5.0 5.0M252.0 59.9l5.0 -5.0M253.1 57.7h7M256.6 54.2v7M254.1 55.1l5.0 5.0M254.1 60.2l5.0 -5.0M253.6 56.5h7M257.1 53.0v7M254.6 54.0l5.0 5.0M254.6 59.0l5.0 -5.0M256.8 57.7h7M260.3 54.2v7M257.8 55.2l5.0 5.0M257.8 60.2l5.0 -5.0M256.5 55.0h7M260.0 51.5v7M257.5 52.5l5.0 5.0M257.5 57.5l5.0 -5.0M258.5 54.9h7M262.0 51.4v7M259.5 52.4l5.0 5.0M259.5 57.4l5.0 -5.0" stroke="#00ffff" stroke-width="1.25" fill="none"/>
<path d="M236.5 82.1h7M240.0 78.6v7M237.5 79.6l5.0 5.0M237.5 84.6l5.0 -5.0M237.2 80.5h7M240.7 77.0v7M238.2 78.0l5.0 5.0M238.2 83.0l5.0 -5.0M238.4 79.6h7M241.9 76.1v7M239.4 77.1l5.0 5.0M239.4 82.1l5.0 -5.0M239.3 78.6h7M242.8 75.1v7M240.2 76.0l5.0 5.0M240.2 81.1l5.0 -5.0M240.6 78.6h7M244.1 75.1v7M241.6 76.1l5.0 5.0M241.6 81.1l5.0 -5.0M239.9 75.3h7M243.4 71.8v7M240.9 72.8l5.0 5.0M240.9 77.9l5.0 -5.0M242.0 76.2h7M245.5 72.7v7M243.0 73.6l5.0 5.0M243.0 78.7l5.0 -5.0M241.3 73.3h7M244.8 69.8v7M242.3 70.8l5.0 5.0M242.3 75.9l5.0 -5.0M244.4 73.8h7M247.9 70.3v7M245.3 71.3l5.0 5.0M245.3 76.3l5.0 -5.0M243.3 71.4h7M246.8 67.9v7M244.3 68.8l5.0 5.0M244.3 73.9l5.0 -5.0M243.9 69.4h7M247.4 65.9v7M244.9 66.9l5.0 5.0M244.9 71.9l5.0 -5.0M245.7 68.8h7M249.2 65.3v7M246.7 66.2l5.0 5.0M246.7 71.3l5.0 -5.0M245.4 67.0h7M248.9 63.5v7M246.3 64.4l5.0 5.0M246.3 69.5l5.0 -5.0M246.9 66.2h7M250.4 62.7v7M247.9 63.7l5.0 5.0M247.9 68.7l5.0 -5.0M250.6 69.2h7M254.1 65.7v7M251.6 66.7l5.0 5.0M251.6 71.7l5.0 -5.0M248.8 64.3h7M252.3 60.8v7M249.8 61.8l5.0 5.0M249.8 66.8l5.0 -5.0M252.4 66.1h7M255.9 62.6v7M253.4 63.5l5.0 5.0M253.4 68.6l5.0 -5.0M250.6 62.6h7M254.1 59.1v7M251.6 60.1l5.0 5.0M251.6 65.1l5.0 -5.0M252.4 62.5h7M255.9 59.0v7M253.4 60.0l5.0 5.0M253.4 65.0l5.0 -5.0M254.1 61.6h7M257.6 58.1v7M255.1 59.1l5.0 5.0M255.1 64.2l5.0 -5.0M256.4 63.0h7M259.9 59.5v7M257.4 60.5l5.0 5.0M257.4 65.5l5.0 -5.0M255.8 59.8h7M259.3 56.3v7M256.8 57.3l5.0 5.0M256.8 62.4l5.0 -5.0M257.1 58.7h7M260.6 55.2v7M258.1 56.1l5.0 5.0M258.1 61.2l5.0 -5.0M258.7 58.7h7M262.2 55.2v7M259.7 56.2l5.0 5.0M259.7 61.2l5.0 -5.0M261.9 60.7h7M265.4 57.2v7M262.9 58.2l5.0 5.0M262.9 63.2l5.0 -5.0M261.0 56.5h7M264.5 53.0v7M261.9 54.0l5.0 5.0M261.9 59.0l5.0 -5.0M264.5 59.6h7M268.0 56.1v7M265.5 57.1l5.0 5.0M265.5 62.1l5.0 -5.0M264.5 56.4h7M268.0 52.9v7M265.4 53.9l5.0 5.0M265.4 58.9l5.0 -5.0M264.8 55.5h7M268.3 52.0v7M265.8 53.0l5.0 5.0M265.8 58.1l5.0 -5.0M264.6 51.9h7M268.1 48.4v7M265.5 49.4l5.0 5.0M265.5 54.4l5.0 -5.0M268.5 55.5h7M272.0 52.0v7M269.5 53.0l5.0 5.0M269.5 58.1l5.0 -5.0M268.5 53.1h7M272.0 49.6v7M269.5 50.6l5.0 5.0M269.5 55.6l5.0 -5.0M268.9 50.6h7M272.4 47.1v7M269.9 48.1l5.0 5.0M269.9 53.1l5.0 -5.0M271.1 52.3h7M274.6 48.8v7M272.1 49.8l5.0 5.0M272.1 54.8l5.0 -5.0M269.7 47.7h7M273.2 44.2v7M270.6 45.2l5.0 5.0M270.6 50.2l5.0 -5.0M272.5 48.7h7M276.0 45.2v7M273.5 46.2l5.0 5.0M273.5 51.2l5.0 -5.0M274.9 49.8h7M278.4 46.3v7M275.9 47.3l5.0 5.0M275.9 52.4l5.0 -5.0M273.4 46.1h7M276.9 42.6v7M274.4 43.6l5.0 5.0M274.4 48.7l5.0 -5.0M275.3 46.1h7M278.8 42.6v7M276.3 43.6l5.0 5.0M276.3 48.7l5.0 -5.0M278.9 48.2h7M282.4 44.7v7M279.9 45.7l5.0 5.0M279.9 50.7l5.0 -5.0M279.3 45.8h7M282.8 42.3v7M280.3 43.3l5.0 5.0M280.3 48.3l5.0 -5.0M278.5 43.2h7M282.0 39.7v7M279.5 40.6l5.0 5.0M279.5 45.7l5.0 -5.0M279.2 41.5h7M282.7 38.0v7M280.2 39.0l5.0 5.0M280.2 44.1l5.0 -5.0M279.7 39.8h7M283.2 36.3v7M280.7 37.3l5.0 5.0M280.7 42.3l5.0 -5.0M284.5 43.5h7M288.0 40.0v7M285.5 41.0l5.0 5.0M285.5 46.0l5.0 -5.0M281.9 38.8h7M285.4 35.3v7M282.8 36.3l5.0 5.0M282.8 41.3l5.0 -5.0M285.6 41.4h7M289.1 37.9v7M286.6 38.9l5.0 5.0M286.6 43.9l5.0 -5.0M285.9 39.0h7M289.4 35.5v7M286.9 36.5l5.0 5.0M286.9 41.6l5.0 -5.0" stroke="#00ffff" stroke-width="1.25" fill="none"/>
<path d="M252.5 63.0h7M256.0 59.5v7M253.5 60.5l5.0 5.0M253.5 65.5l5.0 -5.0M256.5 60.0h7M260.0 56.5v7M257.5 57.5l5.0 5.0M257.5 62.5l5.0 -5.0M261.5 58.0h7M265.0 54.5v7M262.5 55.5l5.0 5.0M262.5 60.5l5.0 -5.0" stroke="#00ff00" stroke-width="1.25" fill="none"/>
<path d="M150.0 151.5h7M153.5 148.0v7M151.0 149.0l5.0 5.0M151.0 154.0l5.0 -5.0M140.5 145.0h7M144.0 141.5v7M141.5 142.5l5.0 5.0M141.5 147.5l5.0 -5.0M96.5 182.0h7M100.0 178.5v7M97.5 179.5l5.0 5.0M97.5 184.5l5.0 -5.0M98.5 180.0h7M102.0 176.5v7M99.5 177.5l5.0 5.0M99.5 182.5l5.0 -5.0M173.5 126.0h7M177.0 122.5v7M174.5 123.5l5.0 5.0M174.5 128.5l5.0 -5.0" stroke="#00ffff" stroke-width="1.25" fill="none"/>
<path d="M131.2 169.9h7M134.7 166.4v7M132.2 167.4l5.0 5.0M132.2 172.4l5.0 -5.0M132.1 169.2h7M135.6 165.7v7M133.1 166.6l5.0 5.0M133.1 171.7l5.0 -5.0M133.3 168.4h7M136.8 164.9v7M134.3 165.9l5.0 5.0M134.3 171.0l5.0 -5.0M134.5 168.6h7M138.0 165.1v7M135.5 166.1l5.0 5.0M135.5 171.2l5.0 -5.0M135.7 167.8h7M139.2 164.3v7M136.7 165.3l5.0 5.0M136.7 170.3l5.0 -5.0M136.8 166.1h7M140.3 162.6v7M137.7 163.6l5.0 5.0M137.7 168.6l5.0 -5.0M137.2 163.8h7M140.7 160.3v7M138.2 161.3l5.0 5.0M138.2 166.3l5.0 -5.0M138.3 163.9h7M141.8 160.4v7M139.3 161.4l5.0 5.0M139.3 166.4l5.0 -5.0M138.9 162.3h7M142.4 158.8v7M139.9 159.8l5.0 5.0M139.9 164.9l5.0 -5.0M141.2 163.0h7M144.7 159.5v7M142.1 160.5l5.0 5.0M142.1 165.5l5.0 -5.0M141.7 161.8h7M145.2 158.3v7M142.6 159.3l5.0 5.0M142.6 164.3l5.0 -5.0M141.4 160.3h7M144.9 156.8v7M142.4 157.8l5.0 5.0M142.4 162.8l5.0 -5.0M143.7 159.9h7M147.2 156.4v7M144.7 157.4l5.0 5.0M144.7 162.4l5.0 -5.0M145.7 160.1h7M149.2 156.6v7M146.7 157.6l5.0 5.0M146.7 162.6l5.0 -5.0M143.5 157.0h7M147.0 153.5v7M144.4 154.5l5.0 5.0M144.4 159.6l5.0 -5.0M146.7 157.9h7M150.2 154.4v7M147.7 155.4l5.0 5.0M147.7 160.4l5.0 -5.0M147.0 156.3h7M150.5 152.8v7M147.9 153.8l5.0 5.0M147.9 158.8l5.0 -5.0M145.8 153.5h7M149.3 150.0v7M146.8 151.0l5.0 5.0M146.8 156.0l5.0 -5.0M149.2 154.9h7M152.7 151.4v7M150.2 152.4l5.0 5.0M150.2 157.4l5.0 -5.0M149.2 153.3h7M152.7 149.8v7M150.2 150.8l5.0 5.0M150.2 155.8l5.0 -5.0M149.3 151.4h7M152.8 147.9v7M150.3 148.9l5.0 5.0M150.3 154.0l5.0 -5.0M150.0 150.4h7M153.5 146.9v7M151.0 147.9l5.0 5.0M151.0 152.9l5.0 -5.0M151.5 149.8h7M155.0 146.3v7M152.5 147.3l5.0 5.0M152.5 152.3l5.0 -5.0M151.9 148.7h7M155.4 145.2v7M152.8 146.2l5.0 5.0M152.8 151.2l5.0 -5.0M154.2 149.5h7M157.7 146.0v7M155.2 147.0l5.0 5.0M155.2 152.1l5.0 -5.0M155.6 149.8h7M159.1 146.3v7M156.5 147.3l5.0 5.0M156.5 152.3l5.0 -5.0M156.1 148.7h7M159.6 145.2v7M157.1 146.2l5.0 5.0M157.1 151.3l5.0 -5.0M157.3 149.0h7M160.8 145.5v7M158.3 146.5l5.0 5.0M158.3 151.5l5.0 -5.0M158.1 145.8h7M161.6 142.3v7M159.1 143.2l5.0 5.0M159.1 148.3l5.0 -5.0M160.2 147.9h7M163.7 144.4v7M161.2 145.3l5.0 5.0M161.2 150.4l5.0 -5.0M161.1 145.6h7M164.6 142.1v7M162.1 143.0l5.0 5.0M162.1 148.1l5.0 -5.0M162.6 148.5h7M166.1 145.0v7M163.6 146.0l5.0 5.0M163.6 151.0l5.0 -5.0M163.6 145.2h7M167.1 141.7v7M164.6 142.6l5.0 5.0M164.6 147.7l5.0 -5.0M164.9 145.5h7M168.4 142.0v7M165.8 142.9l5.0 5.0M165.8 148.0l5.0 -5.0M166.1 146.6h7M169.6 143.1v7M167.1 144.1l5.0 5.0M167.1 149.1l5.0 -5.0M167.8 148.9h7M171.3 145.4v7M168.8 146.4l5.0 5.0M168.8 151.4l5.0 -5.0M169.1 146.8h7M172.6 143.3v7M170.1 144.3l5.0 5.0M170.1 149.3l5.0 -5.0M170.9 147.3h7M174.4 143.8v7M171.9 144.8l5.0 5.0M171.9 149.8l5.0 -5.0M171.1 145.3h7M174.6 141.8v7M172.0 142.8l5.0 5.0M172.0 147.9l5.0 -5.0M172.1 145.0h7M175.6 141.5v7M173.1 142.5l5.0 5.0M173.1 147.6l5.0 -5.0M173.7 144.3h7M177.2 140.8v7M174.7 141.7l5.0 5.0M174.7 146.8l5.0 -5.0M176.3 145.9h7M179.8 142.4v7M177.3 143.4l5.0 5.0M177.3 148.5l5.0 -5.0M176.5 143.8h7M180.0 140.3v7M177.5 141.3l5.0 5.0M177.5 146.3l5.0 -5.0M174.7 141.2h7M178.2 137.7v7M175.7 138.7l5.0 5.0M175.7 143.7l5.0 -5.0M176.8 140.7h7M180.3 137.2v7M177.8 138.2l5.0 5.0M177.8 143.3l5.0 -5.0M176.5 139.2h7M180.0 135.7v7M177.5 136.7l5.0 5.0M177.5 141.8l5.0 -5.0M178.9 138.9h7M182.4 135.4v7M179.9 136.4l5.0 5.0M179.9 141.4l5.0 -5.0M180.9 138.4h7M184.4 134.9v7M181.9 135.9l5.0 5.0M181.9 140.9l5.0 -5.0M178.2 136.3h7M181.7 132.8v7M179.1 133.8l5.0 5.0M179.1 138.8l5.0 -5.0M181.6 135.6h7M185.1 132.1v7M182.6 133.1l5.0 5.0M182.6 138.1l5.0 -5.0M179.3 134.0h7M182.8 130.5v7M180.3 131.5l5.0 5.0M180.3 136.6l5.0 -5.0M178.6 132.5h7M182.1 129.0v7M179.5 129.9l5.0 5.0M179.5 135.0l5.0 -5.0M182.5 131.8h7M186.0 128.3v7M183.5 129.3l5.0 5.0M183.5 134.3l5.0 -5.0M181.4 130.0h7M184.9 126.5v7M182.4 127.5l5.0 5.0M182.4 132.5l5.0 -5.0M178.9 128.8h7M182.4 125.3v7M179.9 126.3l5.0 5.0M179.9 131.3l5.0 -5.0M180.7 127.8h7M184.2 124.3v7M181.7 125.3l5.0 5.0M181.7 130.3l5.0 -5.0M178.1 126.9h7M181.6 123.4v7M179.1 124.4l5.0 5.0M179.1 129.4l5.0 -5.0M180.0 124.9h7M183.5 121.4v7M181.0 122.4l5.0 5.0M181.0 127.4l5.0 -5.0" stroke="#ffff00" stroke-width="1.25" fill="none"/>
<path d="M153.9 147.5h7M157.4 144.0v7M154.9 145.0l5.0 5.0M154.9 150.0l5.0 -5.0M154.3 146.6h7M157.8 143.1v7M155.3 144.1l5.0 5.0M155.3 149.1l5.0 -5.0M153.9 144.7h7M157.4 141.2v7M154.8 142.2l5.0 5.0M154.8 147.3l5.0 -5.0M154.3 143.5h7M157.8 140.0v7M155.2 141.0l5.0 5.0M155.2 146.1l5.0 -5.0M156.1 143.0h7M159.6 139.5v7M157.1 140.5l5.0 5.0M157.1 145.5l5.0 -5.0M156.5 142.0h7M160.0 138.5v7M157.4 139.5l5.0 5.0M157.4 144.5l5.0 -5.0M158.4 141.0h7M161.9 137.5v7M159.4 138.5l5.0 5.0M159.4 143.5l5.0 -5.0M158.6 140.1h7M162.1 136.6v7M159.6 137.6l5.0 5.0M159.6 142.6l5.0 -5.0M157.1 137.4h7M160.6 133.9v7M158.1 134.8l5.0 5.0M158.1 139.9l5.0 -5.0M158.4 136.6h7M161.9 133.1v7M159.4 134.1l5.0 5.0M159.4 139.1l5.0 -5.0M158.8 135.6h7M162.3 132.1v7M159.8 133.1l5.0 5.0M159.8 138.1l5.0 -5.0M161.3 136.2h7M164.8 132.7v7M162.3 133.7l5.0 5.0M162.3 138.7l5.0 -5.0M161.2 134.6h7M164.7 131.1v7M162.2 132.1l5.0 5.0M162.2 137.1l5.0 -5.0M160.7 132.1h7M164.2 128.6v7M161.7 129.6l5.0 5.0M161.7 134.7l5.0 -5.0M164.7 133.5h7M168.2 130.0v7M165.7 131.0l5.0 5.0M165.7 136.0l5.0 -5.0M164.4 132.0h7M167.9 128.5v7M165.4 129.5l5.0 5.0M165.4 134.5l5.0 -5.0M165.6 130.9h7M169.1 127.4v7M166.6 128.4l5.0 5.0M166.6 133.4l5.0 -5.0M165.6 129.2h7M169.1 125.7v7M166.6 126.7l5.0 5.0M166.6 131.8l5.0 -5.0M167.4 129.8h7M170.9 126.3v7M168.4 127.3l5.0 5.0M168.4 132.3l5.0 -5.0M166.9 126.9h7M170.4 123.4v7M167.8 124.4l5.0 5.0M167.8 129.5l5.0 -5.0M167.6 125.9h7M171.1 122.4v7M168.5 123.4l5.0 5.0M168.5 128.4l5.0 -5.0M169.6 126.3h7M173.1 122.8v7M170.6 123.8l5.0 5.0M170.6 128.8l5.0 -5.0M170.4 125.2h7M173.9 121.7v7M171.4 122.7l5.0 5.0M171.4 127.7l5.0 -5.0M171.5 124.4h7M175.0 120.9v7M172.5 121.9l5.0 5.0M172.5 126.9l5.0 -5.0M172.4 123.8h7M175.9 120.3v7M173.4 121.3l5.0 5.0M173.4 126.4l5.0 -5.0M173.5 123.0h7M177.0 119.5v7M174.5 120.5l5.0 5.0M174.5 125.6l5.0 -5.0M175.5 122.9h7M179.0 119.4v7M176.5 120.3l5.0 5.0M176.5 125.4l5.0 -5.0M175.2 120.6h7M178.7 117.1v7M176.1 118.1l5.0 5.0M176.1 123.1l5.0 -5.0M176.7 120.1h7M180.2 116.6v7M177.7 117.6l5.0 5.0M177.7 122.6l5.0 -5.0M178.1 119.7h7M181.6 116.2v7M179.1 117.2l5.0 5.0M179.1 122.2l5.0 -5.0M178.6 117.9h7M182.1 114.4v7M179.5 115.4l5.0 5.0M179.5 120.4l5.0 -5.0" stroke="#ffff00" stroke-width="1.25" fill="none"/>
<path d="M160.1 136.9h7M163.6 133.4v7M161.1 134.4l5.0 5.0M161.1 139.5l5.0 -5.0M160.6 135.7h7M164.1 132.2v7M161.6 133.2l5.0 5.0M161.6 138.2l5.0 -5.0M162.3 135.1h7M165.8 131.6v7M163.3 132.5l5.0 5.0M163.3 137.6l5.0 -5.0M163.2 134.5h7M166.7 131.0v7M164.2 131.9l5.0 5.0M164.2 137.0l5.0 -5.0M164.6 133.4h7M168.1 129.9v7M165.6 130.9l5.0 5.0M165.6 136.0l5.0 -5.0M165.1 132.9h7M168.6 129.4v7M166.1 130.4l5.0 5.0M166.1 135.4l5.0 -5.0M167.3 132.6h7M170.8 129.1v7M168.3 130.0l5.0 5.0M168.3 135.1l5.0 -5.0M168.3 132.0h7M171.8 128.5v7M169.3 129.5l5.0 5.0M169.3 134.5l5.0 -5.0M169.3 131.5h7M172.8 128.0v7M170.3 129.0l5.0 5.0M170.3 134.0l5.0 -5.0M170.2 130.6h7M173.7 127.1v7M171.2 128.1l5.0 5.0M171.2 133.1l5.0 -5.0M171.3 129.0h7M174.8 125.5v7M172.2 126.4l5.0 5.0M172.2 131.5l5.0 -5.0M172.8 128.9h7M176.3 125.4v7M173.8 126.4l5.0 5.0M173.8 131.5l5.0 -5.0M173.8 127.4h7M177.3 123.9v7M174.8 124.8l5.0 5.0M174.8 129.9l5.0 -5.0" stroke="#ffff00" stroke-width="1.25" fill="none"/>
<path d="M174.5 124.3h7M178.0 120.8v7M175.4 121.8l5.0 5.0M175.4 126.8l5.0 -5.0M174.6 122.2h7M178.1 118.7v7M175.5 119.7l5.0 5.0M175.5 124.7l5.0 -5.0M175.1 121.1h7M178.6 117.6v7M176.0 118.6l5.0 5.0M176.0 123.7l5.0 -5.0M179.6 123.5h7M183.1 120.0v7M180.6 121.0l5.0 5.0M180.6 126.0l5.0 -5.0M179.5 121.4h7M183.0 117.9v7M180.4 118.9l5.0 5.0M180.4 123.9l5.0 -5.0M179.3 119.3h7M182.8 115.8v7M180.3 116.7l5.0 5.0M180.3 121.8l5.0 -5.0M179.4 117.4h7M182.9 113.9v7M180.4 114.9l5.0 5.0M180.4 119.9l5.0 -5.0M182.0 118.3h7M185.5 114.8v7M183.0 115.8l5.0 5.0M183.0 120.9l5.0 -5.0M180.9 115.0h7M184.4 111.5v7M181.8 112.5l5.0 5.0M181.8 117.6l5.0 -5.0M181.8 114.5h7M185.3 111.0v7M182.8 111.9l5.0 5.0M182.8 117.0l5.0 -5.0M186.2 118.4h7M189.7 114.9v7M187.2 115.8l5.0 5.0M187.2 120.9l5.0 -5.0M184.2 113.6h7M187.7 110.1v7M185.2 111.0l5.0 5.0M185.2 116.1l5.0 -5.0M185.5 113.2h7M189.0 109.7v7M186.5 110.7l5.0 5.0M186.5 115.7l5.0 -5.0M189.3 115.5h7M192.8 112.0v7M190.3 113.0l5.0 5.0M190.3 118.0l5.0 -5.0M188.2 112.1h7M191.7 108.6v7M189.2 109.5l5.0 5.0M189.2 114.6l5.0 -5.0M189.8 112.6h7M193.3 109.1v7M190.8 110.1l5.0 5.0M190.8 115.1l5.0 -5.0M189.3 108.3h7M192.8 104.8v7M190.3 105.7l5.0 5.0M190.3 110.8l5.0 -5.0M191.2 109.3h7M194.7 105.8v7M192.2 106.8l5.0 5.0M192.2 111.9l5.0 -5.0M195.0 112.1h7M198.5 108.6v7M196.0 109.6l5.0 5.0M196.0 114.6l5.0 -5.0M193.8 109.0h7M197.3 105.5v7M194.8 106.5l5.0 5.0M194.8 111.5l5.0 -5.0M194.7 107.0h7M198.2 103.5v7M195.7 104.4l5.0 5.0M195.7 109.5l5.0 -5.0M197.7 110.1h7M201.2 106.6v7M198.7 107.5l5.0 5.0M198.7 112.6l5.0 -5.0M198.7 108.8h7M202.2 105.3v7M199.6 106.3l5.0 5.0M199.6 111.4l5.0 -5.0M198.1 106.1h7M201.6 102.6v7M199.0 103.6l5.0 5.0M199.0 108.6l5.0 -5.0M201.3 107.2h7M204.8 103.7v7M202.3 104.7l5.0 5.0M202.3 109.7l5.0 -5.0M199.3 102.8h7M202.8 99.3v7M200.3 100.3l5.0 5.0M200.3 105.3l5.0 -5.0M200.4 101.8h7M203.9 98.3v7M201.4 99.3l5.0 5.0M201.4 104.4l5.0 -5.0M200.4 100.6h7M203.9 97.1v7M201.4 98.1l5.0 5.0M201.4 103.2l5.0 -5.0M204.4 103.5h7M207.9 100.0v7M205.4 101.0l5.0 5.0M205.4 106.1l5.0 -5.0M206.5 103.5h7M210.0 100.0v7M207.5 101.0l5.0 5.0M207.5 106.0l5.0 -5.0M206.3 102.0h7M209.8 98.5v7M207.3 99.5l5.0 5.0M207.3 104.5l5.0 -5.0M207.8 100.7h7M211.3 97.2v7M208.8 98.2l5.0 5.0M208.8 103.3l5.0 -5.0M207.2 99.0h7M210.7 95.5v7M208.2 96.4l5.0 5.0M208.2 101.5l5.0 -5.0M207.5 96.8h7M211.0 93.3v7M208.5 94.3l5.0 5.0M208.5 99.3l5.0 -5.0M210.5 98.8h7M214.0 95.3v7M211.5 96.3l5.0 5.0M211.5 101.3l5.0 -5.0M209.4 95.1h7M212.9 91.6v7M210.3 92.5l5.0 5.0M210.3 97.6l5.0 -5.0M212.8 96.7h7M216.3 93.2v7M213.8 94.2l5.0 5.0M213.8 99.3l5.0 -5.0M212.5 94.4h7M216.0 90.9v7M213.5 91.9l5.0 5.0M213.5 96.9l5.0 -5.0M215.7 96.5h7M219.2 93.0v7M216.6 94.0l5.0 5.0M216.6 99.0l5.0 -5.0M213.8 92.2h7M217.3 88.7v7M214.7 89.7l5.0 5.0M214.7 94.7l5.0 -5.0M218.0 95.1h7M221.5 91.6v7M219.0 92.6l5.0 5.0M219.0 97.6l5.0 -5.0M216.2 90.7h7M219.7 87.2v7M217.2 88.2l5.0 5.0M217.2 93.3l5.0 -5.0M216.6 88.7h7M220.1 85.2v7M217.6 86.2l5.0 5.0M217.6 91.3l5.0 -5.0M218.9 90.0h7M222.4 86.5v7M219.8 87.5l5.0 5.0M219.8 92.6l5.0 -5.0M220.0 90.0h7M223.5 86.5v7M221.0 87.4l5.0 5.0M221.0 92.5l5.0 -5.0M221.4 89.4h7M224.9 85.9v7M222.4 86.9l5.0 5.0M222.4 91.9l5.0 -5.0M221.2 86.4h7M224.7 82.9v7M222.2 83.9l5.0 5.0M222.2 88.9l5.0 -5.0M221.2 85.0h7M224.7 81.5v7M222.2 82.4l5.0 5.0M222.2 87.5l5.0 -5.0M225.1 87.8h7M228.6 84.3v7M226.1 85.3l5.0 5.0M226.1 90.3l5.0 -5.0" stroke="#ffff00" stroke-width="1.25" fill="none"/>
<path d="M239.5 45.9h7M243.0 42.4v7M240.5 43.3l5.0 5.0M240.5 48.4l5.0 -5.0M241.3 45.4h7M244.8 41.9v7M242.2 42.9l5.0 5.0M242.2 47.9l5.0 -5.0M242.1 45.7h7M245.6 42.2v7M243.1 43.2l5.0 5.0M243.1 48.2l5.0 -5.0M244.1 44.9h7M247.6 41.4v7M245.1 42.3l5.0 5.0M245.1 47.4l5.0 -5.0M245.7 44.4h7M249.2 40.9v7M246.7 41.9l5.0 5.0M246.7 46.9l5.0 -5.0M246.5 44.3h7M250.0 40.8v7M247.5 41.8l5.0 5.0M247.5 46.8l5.0 -5.0M248.4 44.0h7M251.9 40.5v7M249.4 41.5l5.0 5.0M249.4 46.5l5.0 -5.0M249.9 43.7h7M253.4 40.2v7M250.9 41.1l5.0 5.0M250.9 46.2l5.0 -5.0M251.3 43.7h7M254.8 40.2v7M252.3 41.2l5.0 5.0M252.3 46.2l5.0 -5.0M253.0 43.2h7M256.5 39.7v7M254.0 40.7l5.0 5.0M254.0 45.8l5.0 -5.0M254.2 43.2h7M257.7 39.7v7M255.2 40.6l5.0 5.0M255.2 45.7l5.0 -5.0M255.4 43.0h7M258.9 39.5v7M256.4 40.5l5.0 5.0M256.4 45.6l5.0 -5.0M256.9 42.6h7M260.4 39.1v7M257.8 40.1l5.0 5.0M257.8 45.1l5.0 -5.0M258.4 42.1h7M261.9 38.6v7M259.3 39.6l5.0 5.0M259.3 44.6l5.0 -5.0M260.3 41.5h7M263.8 38.0v7M261.2 39.0l5.0 5.0M261.2 44.0l5.0 -5.0M261.8 41.4h7M265.3 37.9v7M262.8 38.8l5.0 5.0M262.8 43.9l5.0 -5.0" stroke="#ffff00" stroke-width="1.25" fill="none"/>
<path d="M227.5 57.5h7M231.0 54.0v7M228.5 55.0l5.0 5.0M228.5 60.0l5.0 -5.0M234.0 50.6h7M237.5 47.1v7M235.0 48.1l5.0 5.0M235.0 53.1l5.0 -5.0M237.5 47.5h7M241.0 44.0v7M238.5 45.0l5.0 5.0M238.5 50.0l5.0 -5.0M248.5 61.0h7M252.0 57.5v7M249.5 58.5l5.0 5.0M249.5 63.5l5.0 -5.0M252.5 58.0h7M256.0 54.5v7M253.5 55.5l5.0 5.0M253.5 60.5l5.0 -5.0M257.5 55.0h7M261.0 51.5v7M258.5 52.5l5.0 5.0M258.5 57.5l5.0 -5.0" stroke="#ffff00" stroke-width="1.25" fill="none"/>
<path d="M266.9 37.8h7M270.4 34.3v7M267.9 35.3l5.0 5.0M267.9 40.3l5.0 -5.0M268.3 37.1h7M271.8 33.6v7M269.3 34.5l5.0 5.0M269.3 39.6l5.0 -5.0M269.8 37.8h7M273.3 34.3v7M270.8 35.3l5.0 5.0M270.8 40.4l5.0 -5.0M271.9 37.3h7M275.4 33.8v7M272.9 34.8l5.0 5.0M272.9 39.9l5.0 -5.0M273.3 36.5h7M276.8 33.0v7M274.3 34.0l5.0 5.0M274.3 39.0l5.0 -5.0M273.3 34.3h7M276.8 30.8v7M274.3 31.8l5.0 5.0M274.3 36.8l5.0 -5.0M274.9 32.9h7M278.4 29.4v7M275.8 30.3l5.0 5.0M275.8 35.4l5.0 -5.0M276.9 34.4h7M280.4 30.9v7M277.9 31.9l5.0 5.0M277.9 36.9l5.0 -5.0M278.4 33.0h7M281.9 29.5v7M279.4 30.5l5.0 5.0M279.4 35.6l5.0 -5.0M279.6 31.7h7M283.1 28.2v7M280.6 29.1l5.0 5.0M280.6 34.2l5.0 -5.0M281.5 33.7h7M285.0 30.2v7M282.5 31.2l5.0 5.0M282.5 36.2l5.0 -5.0" stroke="#ffff00" stroke-width="1.25" fill="none"/>
<path d="M170.0 133.7h7M173.5 130.2v7M171.0 131.2l5.0 5.0M171.0 136.2l5.0 -5.0M165.5 134.1h7M169.0 130.6v7M166.5 131.5l5.0 5.0M166.5 136.6l5.0 -5.0M164.8 134.1h7M168.3 130.6v7M165.8 131.6l5.0 5.0M165.8 136.6l5.0 -5.0M168.8 135.1h7M172.3 131.6v7M169.8 132.6l5.0 5.0M169.8 137.6l5.0 -5.0M166.4 135.4h7M169.9 131.9v7M167.3 132.9l5.0 5.0M167.3 138.0l5.0 -5.0M165.7 133.8h7M169.2 130.3v7M166.7 131.3l5.0 5.0M166.7 136.3l5.0 -5.0M165.6 136.0h7M169.1 132.5v7M166.6 133.4l5.0 5.0M166.6 138.5l5.0 -5.0" stroke="#0000ff" stroke-width="1.25" fill="none"/>
<path d="M169.4 111.2h7M172.9 107.7v7M170.4 108.7l5.0 5.0M170.4 113.7l5.0 -5.0M168.6 107.7h7M172.1 104.2v7M169.6 105.2l5.0 5.0M169.6 110.2l5.0 -5.0M170.3 108.3h7M173.8 104.8v7M171.2 105.8l5.0 5.0M171.2 110.8l5.0 -5.0M172.6 110.1h7M176.1 106.6v7M173.6 107.6l5.0 5.0M173.6 112.6l5.0 -5.0M173.2 107.3h7M176.7 103.8v7M174.1 104.8l5.0 5.0M174.1 109.8l5.0 -5.0M175.0 108.8h7M178.5 105.3v7M176.0 106.3l5.0 5.0M176.0 111.3l5.0 -5.0M175.3 105.9h7M178.8 102.4v7M176.3 103.3l5.0 5.0M176.3 108.4l5.0 -5.0M174.5 104.0h7M178.0 100.5v7M175.5 101.5l5.0 5.0M175.5 106.5l5.0 -5.0M178.2 105.5h7M181.7 102.0v7M179.1 103.0l5.0 5.0M179.1 108.1l5.0 -5.0M177.4 103.0h7M180.9 99.5v7M178.3 100.5l5.0 5.0M178.3 105.5l5.0 -5.0M178.2 102.2h7M181.7 98.7v7M179.2 99.7l5.0 5.0M179.2 104.8l5.0 -5.0M178.1 99.6h7M181.6 96.1v7M179.1 97.0l5.0 5.0M179.1 102.1l5.0 -5.0M181.4 100.8h7M184.9 97.3v7M182.4 98.2l5.0 5.0M182.4 103.3l5.0 -5.0M179.9 98.7h7M183.4 95.2v7M180.8 96.1l5.0 5.0M180.8 101.2l5.0 -5.0M181.8 98.3h7M185.3 94.8v7M182.7 95.7l5.0 5.0M182.7 100.8l5.0 -5.0M182.3 96.5h7M185.8 93.0v7M183.3 94.0l5.0 5.0M183.3 99.0l5.0 -5.0M182.4 95.5h7M185.9 92.0v7M183.3 93.0l5.0 5.0M183.3 98.0l5.0 -5.0M185.5 95.6h7M189.0 92.1v7M186.5 93.1l5.0 5.0M186.5 98.1l5.0 -5.0M182.5 92.4h7M186.0 88.9v7M183.4 89.9l5.0 5.0M183.4 94.9l5.0 -5.0M185.3 93.1h7M188.8 89.6v7M186.3 90.6l5.0 5.0M186.3 95.6l5.0 -5.0M185.4 90.8h7M188.9 87.3v7M186.4 88.3l5.0 5.0M186.4 93.4l5.0 -5.0M188.0 91.4h7M191.5 87.9v7M188.9 88.9l5.0 5.0M188.9 93.9l5.0 -5.0M188.8 90.6h7M192.3 87.1v7M189.8 88.0l5.0 5.0M189.8 93.1l5.0 -5.0M188.1 87.9h7M191.6 84.4v7M189.1 85.4l5.0 5.0M189.1 90.4l5.0 -5.0M189.0 86.9h7M192.5 83.4v7M189.9 84.4l5.0 5.0M189.9 89.4l5.0 -5.0M189.5 85.6h7M193.0 82.1v7M190.5 83.1l5.0 5.0M190.5 88.2l5.0 -5.0M191.0 84.9h7M194.5 81.4v7M191.9 82.4l5.0 5.0M191.9 87.5l5.0 -5.0M192.1 84.4h7M195.6 80.9v7M193.1 81.9l5.0 5.0M193.1 86.9l5.0 -5.0M194.4 84.8h7M197.9 81.3v7M195.4 82.2l5.0 5.0M195.4 87.3l5.0 -5.0M195.1 86.5h7M198.6 83.0v7M196.0 84.0l5.0 5.0M196.0 89.0l5.0 -5.0M193.0 89.2h7M196.5 85.7v7M194.0 86.6l5.0 5.0M194.0 91.7l5.0 -5.0M193.8 88.9h7M197.3 85.4v7M194.8 86.4l5.0 5.0M194.8 91.5l5.0 -5.0M195.5 90.3h7M199.0 86.8v7M196.5 87.8l5.0 5.0M196.5 92.8l5.0 -5.0M193.6 91.2h7M197.1 87.7v7M194.6 88.7l5.0 5.0M194.6 93.7l5.0 -5.0M194.9 92.9h7M198.4 89.4v7M195.9 90.4l5.0 5.0M195.9 95.4l5.0 -5.0M194.7 94.4h7M198.2 90.9v7M195.7 91.9l5.0 5.0M195.7 96.9l5.0 -5.0M193.1 95.7h7M196.6 92.2v7M194.1 93.2l5.0 5.0M194.1 98.2l5.0 -5.0M191.5 95.8h7M195.0 92.3v7M192.5 93.3l5.0 5.0M192.5 98.3l5.0 -5.0M192.3 97.6h7M195.8 94.1v7M193.3 95.1l5.0 5.0M193.3 100.1l5.0 -5.0M189.4 97.6h7M192.9 94.1v7M190.3 95.1l5.0 5.0M190.3 100.1l5.0 -5.0M189.3 99.4h7M192.8 95.9v7M190.2 96.8l5.0 5.0M190.2 101.9l5.0 -5.0M188.3 99.7h7M191.8 96.2v7M189.3 97.2l5.0 5.0M189.3 102.2l5.0 -5.0M189.9 102.4h7M193.4 98.9v7M190.9 99.9l5.0 5.0M190.9 104.9l5.0 -5.0M190.0 104.4h7M193.5 100.9v7M191.0 101.9l5.0 5.0M191.0 106.9l5.0 -5.0M188.5 104.9h7M192.0 101.4v7M189.5 102.4l5.0 5.0M189.5 107.4l5.0 -5.0M187.4 105.2h7M190.9 101.7v7M188.4 102.6l5.0 5.0M188.4 107.7l5.0 -5.0M187.4 106.7h7M190.9 103.2v7M188.4 104.2l5.0 5.0M188.4 109.2l5.0 -5.0M188.6 108.4h7M192.1 104.9v7M189.5 105.9l5.0 5.0M189.5 110.9l5.0 -5.0M185.8 108.7h7M189.3 105.2v7M186.8 106.2l5.0 5.0M186.8 111.3l5.0 -5.0M186.5 110.7h7M190.0 107.2v7M187.5 108.1l5.0 5.0M187.5 113.2l5.0 -5.0M185.2 111.3h7M188.7 107.8v7M186.2 108.8l5.0 5.0M186.2 113.9l5.0 -5.0M184.0 112.5h7M187.5 109.0v7M185.0 109.9l5.0 5.0M185.0 115.0l5.0 -5.0M183.5 114.1h7M187.0 110.6v7M184.5 111.6l5.0 5.0M184.5 116.7l5.0 -5.0M186.1 115.2h7M189.6 111.7v7M187.1 112.7l5.0 5.0M187.1 117.7l5.0 -5.0M185.5 116.9h7M189.0 113.4v7M186.5 114.4l5.0 5.0M186.5 119.4l5.0 -5.0M184.9 118.0h7M188.4 114.5v7M185.9 115.4l5.0 5.0M185.9 120.5l5.0 -5.0M182.9 119.1h7M186.4 115.6v7M183.8 116.6l5.0 5.0M183.8 121.7l5.0 -5.0M185.4 120.5h7M188.9 117.0v7M186.4 118.0l5.0 5.0M186.4 123.1l5.0 -5.0M185.8 121.6h7M189.3 118.1v7M186.8 119.1l5.0 5.0M186.8 124.1l5.0 -5.0M186.6 123.2h7M190.1 119.7v7M187.6 120.7l5.0 5.0M187.6 125.7l5.0 -5.0M184.4 124.8h7M187.9 121.3v7M185.4 122.3l5.0 5.0M185.4 127.3l5.0 -5.0M183.0 126.3h7M186.5 122.8v7M184.0 123.8l5.0 5.0M184.0 128.8l5.0 -5.0M184.9 127.5h7M188.4 124.0v7M185.9 125.0l5.0 5.0M185.9 130.1l5.0 -5.0M187.2 128.0h7M190.7 124.5v7M188.1 125.4l5.0 5.0M188.1 130.5l5.0 -5.0M185.7 130.0h7M189.2 126.5v7M186.7 127.5l5.0 5.0M186.7 132.6l5.0 -5.0" stroke="#ff00ff" stroke-width="1.25" fill="none"/>
<path d="M264.0 35.6h7M267.5 32.1v7M269.0 33.0h7M272.5 29.5v7M286.5 49.0h7M290.0 45.5v7M289.5 45.6h7M293.0 42.1v7M292.1 42.5h7M295.6 39.0v7M292.5 38.8h7M296.0 35.2v7" stroke="#ff00ff" stroke-width="1.25" fill="none"/>
<path d="M231.5 82.5h7M235.0 79.0v7M239.0 78.0h7M242.5 74.5v7" stroke="#ff0000" stroke-width="1.25" fill="none"/></g>
<line x1="59.8" y1="212.5" x2="312.3" y2="18.0" stroke="#000" stroke-width="1.5"/>
<path d="M80.84 212.5v-3.1M80.84 18.0v3.1M59.8 196.29h3.1M312.3 196.29h-3.1" stroke="#262626" stroke-width="1.3" fill="none"/>
<text x="80.84" y="233.80" text-anchor="middle" font-size="15.5">-1</text>
<text x="54.20" y="201.89" text-anchor="end" font-size="15.5">-1</text>
<path d="M133.45 212.5v-3.1M133.45 18.0v3.1M59.8 155.77h3.1M312.3 155.77h-3.1" stroke="#262626" stroke-width="1.3" fill="none"/>
<text x="133.45" y="233.80" text-anchor="middle" font-size="15.5">-0.5</text>
<text x="54.20" y="161.37" text-anchor="end" font-size="15.5">-0.5</text>
<path d="M186.05 212.5v-3.1M186.05 18.0v3.1M59.8 115.25h3.1M312.3 115.25h-3.1" stroke="#262626" stroke-width="1.3" fill="none"/>
<text x="186.05" y="233.80" text-anchor="middle" font-size="15.5">0</text>
<text x="54.20" y="120.85" text-anchor="end" font-size="15.5">0</text>
<path d="M238.65 212.5v-3.1M238.65 18.0v3.1M59.8 74.73h3.1M312.3 74.73h-3.1" stroke="#262626" stroke-width="1.3" fill="none"/>
<text x="238.65" y="233.80" text-anchor="middle" font-size="15.5">0.5</text>
<text x="54.20" y="80.33" text-anchor="end" font-size="15.5">0.5</text>
<path d="M291.26 212.5v-3.1M291.26 18.0v3.1M59.8 34.21h3.1M312.3 34.21h-3.1" stroke="#262626" stroke-width="1.3" fill="none"/>
<text x="291.26" y="233.80" text-anchor="middle" font-size="15.5">1</text>
<text x="54.20" y="39.81" text-anchor="end" font-size="15.5">1</text>
<rect x="59.8" y="18.0" width="252.50" height="194.50" fill="none" stroke="#262626" stroke-width="1.35"/>
<text x="185.75" y="12.50" text-anchor="middle" font-size="17.1"><tspan font-style="italic">r</tspan> = 0.98</text>
<text x="186.6" y="255.8" text-anchor="middle" font-size="17.3">T<tspan dy="8.4" font-size="13.8">EM-M</tspan><tspan dy="-8.4">/|&lt;R<tspan dy="8.4" font-size="13.8">M</tspan><tspan dy="-8.4">&gt;|</tspan><tspan dy="8.4" font-size="13.8">max</tspan></tspan></text>
<text transform="translate(12.8,114.6) rotate(-90)" text-anchor="middle" font-size="17.3">R<tspan dy="8.4" font-size="13.8">M</tspan><tspan dy="-8.4">/|&lt;R<tspan dy="8.4" font-size="13.8">M</tspan><tspan dy="-8.4">&gt;|</tspan><tspan dy="8.4" font-size="13.8">max</tspan></tspan></text>
<text x="8.3" y="26.3" font-size="17.6">(a)</text>
</g>
<g id="ax-b">
<line x1="414.56" y1="18.0" x2="414.56" y2="212.5" stroke="#dcdcdc" stroke-width="1"/>
<line x1="393.5" y1="196.29" x2="646.2" y2="196.29" stroke="#dcdcdc" stroke-width="1"/>
<line x1="467.20" y1="18.0" x2="467.20" y2="212.5" stroke="#dcdcdc" stroke-width="1"/>
<line x1="393.5" y1="155.77" x2="646.2" y2="155.77" stroke="#dcdcdc" stroke-width="1"/>
<line x1="519.85" y1="18.0" x2="519.85" y2="212.5" stroke="#dcdcdc" stroke-width="1"/>
<line x1="393.5" y1="115.25" x2="646.2" y2="115.25" stroke="#dcdcdc" stroke-width="1"/>
<line x1="572.50" y1="18.0" x2="572.50" y2="212.5" stroke="#dcdcdc" stroke-width="1"/>
<line x1="393.5" y1="74.73" x2="646.2" y2="74.73" stroke="#dcdcdc" stroke-width="1"/>
<line x1="625.14" y1="18.0" x2="625.14" y2="212.5" stroke="#dcdcdc" stroke-width="1"/>
<line x1="393.5" y1="34.21" x2="646.2" y2="34.21" stroke="#dcdcdc" stroke-width="1"/>
<g class="pts"><path d="M487.5 55.0h7M491.0 51.5v7M486.5 59.0h7M490.0 55.5v7M486.5 66.0h7M490.0 62.5v7M488.5 74.4h7M492.0 70.9v7M490.5 83.6h7M494.0 80.1v7M493.5 94.0h7M497.0 90.5v7M497.5 104.0h7M501.0 100.5v7M501.5 112.4h7M505.0 108.9v7M505.5 120.0h7M509.0 116.5v7M508.1 126.0h7M511.6 122.5v7M510.5 134.0h7M514.0 130.5v7M511.5 139.0h7M515.0 135.5v7M511.0 144.0h7M514.5 140.5v7M488.5 57.0h7M492.0 53.5v7M492.1 63.0h7M495.6 59.5v7M495.5 71.6h7M499.0 68.1v7M498.1 78.4h7M501.6 74.9v7M500.5 83.6h7M504.0 80.1v7M552.5 129.0h7M556.0 125.5v7M562.5 140.0h7M566.0 136.5v7M568.1 149.0h7M571.6 145.5v7M564.5 154.4h7M568.0 150.9v7M555.5 155.0h7M559.0 151.5v7M548.1 153.6h7M551.6 150.1v7M544.5 150.0h7M548.0 146.5v7M540.1 148.4h7M543.6 144.9v7M543.5 143.6h7M547.0 140.1v7M532.9 142.4h7M536.4 138.9v7M535.5 106.0h7M539.0 102.5v7" stroke="#ff00ff" stroke-width="1.25" fill="none"/>
<path d="M506.7 91.1h7M510.2 87.6v7M507.6 88.5l5.0 5.0M507.6 93.6l5.0 -5.0M510.9 94.0h7M514.4 90.5v7M511.8 91.5l5.0 5.0M511.8 96.5l5.0 -5.0M513.0 92.5h7M516.5 89.0v7M514.0 90.0l5.0 5.0M514.0 95.0l5.0 -5.0M513.6 93.7h7M517.1 90.2v7M514.6 91.1l5.0 5.0M514.6 96.2l5.0 -5.0M510.4 101.6h7M513.9 98.1v7M511.4 99.1l5.0 5.0M511.4 104.1l5.0 -5.0M511.2 101.5h7M514.7 98.0v7M512.1 99.0l5.0 5.0M512.1 104.0l5.0 -5.0M511.4 90.1h7M514.9 86.6v7M512.4 87.6l5.0 5.0M512.4 92.6l5.0 -5.0M512.9 97.2h7M516.4 93.7v7M513.9 94.6l5.0 5.0M513.9 99.7l5.0 -5.0M507.8 92.0h7M511.3 88.5v7M508.8 89.5l5.0 5.0M508.8 94.5l5.0 -5.0M512.6 97.1h7M516.1 93.6v7M513.6 94.6l5.0 5.0M513.6 99.6l5.0 -5.0M513.7 96.9h7M517.2 93.4v7M514.6 94.3l5.0 5.0M514.6 99.4l5.0 -5.0M511.3 97.5h7M514.8 94.0v7M512.3 94.9l5.0 5.0M512.3 100.0l5.0 -5.0M507.8 99.7h7M511.3 96.2v7M508.8 97.1l5.0 5.0M508.8 102.2l5.0 -5.0M513.6 98.0h7M517.1 94.5v7M514.6 95.4l5.0 5.0M514.6 100.5l5.0 -5.0" stroke="#00ff00" stroke-width="1.25" fill="none"/>
<path d="M523.3 136.9h7M526.8 133.4v7M524.3 134.4l5.0 5.0M524.3 139.4l5.0 -5.0M528.0 131.2h7M531.5 127.7v7M529.0 128.6l5.0 5.0M529.0 133.7l5.0 -5.0M522.4 134.3h7M525.9 130.8v7M523.4 131.8l5.0 5.0M523.4 136.8l5.0 -5.0M526.6 134.2h7M530.1 130.7v7M527.5 131.6l5.0 5.0M527.5 136.7l5.0 -5.0M525.7 135.4h7M529.2 131.9v7M526.7 132.9l5.0 5.0M526.7 138.0l5.0 -5.0M530.2 132.3h7M533.7 128.8v7M531.2 129.7l5.0 5.0M531.2 134.8l5.0 -5.0M525.4 134.7h7M528.9 131.2v7M526.3 132.2l5.0 5.0M526.3 137.3l5.0 -5.0M524.7 134.9h7M528.2 131.4v7M525.7 132.3l5.0 5.0M525.7 137.4l5.0 -5.0M526.9 133.4h7M530.4 129.9v7M527.9 130.9l5.0 5.0M527.9 135.9l5.0 -5.0" stroke="#00ff00" stroke-width="1.25" fill="none"/>
<path d="M547.2 132.2h7M550.7 128.7v7M548.2 129.7l5.0 5.0M548.2 134.7l5.0 -5.0M545.0 131.5h7M548.5 128.0v7M546.0 128.9l5.0 5.0M546.0 134.0l5.0 -5.0M545.3 135.4h7M548.8 131.9v7M546.3 132.9l5.0 5.0M546.3 138.0l5.0 -5.0M549.2 132.1h7M552.7 128.6v7M550.1 129.6l5.0 5.0M550.1 134.6l5.0 -5.0M545.3 128.8h7M548.8 125.3v7M546.3 126.3l5.0 5.0M546.3 131.3l5.0 -5.0M546.3 130.8h7M549.8 127.3v7M547.3 128.3l5.0 5.0M547.3 133.3l5.0 -5.0M544.8 130.9h7M548.3 127.4v7M545.8 128.3l5.0 5.0M545.8 133.4l5.0 -5.0M546.2 134.4h7M549.7 130.9v7M547.2 131.8l5.0 5.0M547.2 136.9l5.0 -5.0" stroke="#00ff00" stroke-width="1.25" fill="none"/>
<path d="M506.5 120.0h7M510.0 116.5v7M507.5 117.5l5.0 5.0M507.5 122.5l5.0 -5.0M530.5 119.0h7M534.0 115.5v7M531.5 116.5l5.0 5.0M531.5 121.5l5.0 -5.0" stroke="#0000ff" stroke-width="1.25" fill="none"/>
<path d="M498.3 85.1h7M501.8 81.6v7M499.3 82.6l5.0 5.0M499.3 87.7l5.0 -5.0M498.3 86.3h7M501.8 82.8v7M499.2 83.8l5.0 5.0M499.2 88.8l5.0 -5.0M500.9 87.3h7M504.4 83.8v7M501.9 84.8l5.0 5.0M501.9 89.8l5.0 -5.0M497.3 89.4h7M500.8 85.9v7M498.3 86.9l5.0 5.0M498.3 91.9l5.0 -5.0M498.2 90.4h7M501.7 86.9v7M499.2 87.9l5.0 5.0M499.2 92.9l5.0 -5.0M501.1 90.9h7M504.6 87.4v7M502.0 88.3l5.0 5.0M502.0 93.4l5.0 -5.0M497.9 93.2h7M501.4 89.7v7M498.8 90.7l5.0 5.0M498.8 95.7l5.0 -5.0M502.2 93.1h7M505.7 89.6v7M503.1 90.6l5.0 5.0M503.1 95.7l5.0 -5.0M501.1 94.4h7M504.6 90.9v7M502.1 91.9l5.0 5.0M502.1 97.0l5.0 -5.0M500.6 96.3h7M504.1 92.8v7M501.6 93.8l5.0 5.0M501.6 98.8l5.0 -5.0M502.4 97.1h7M505.9 93.6v7M503.4 94.5l5.0 5.0M503.4 99.6l5.0 -5.0M507.1 96.1h7M510.6 92.6v7M508.1 93.6l5.0 5.0M508.1 98.7l5.0 -5.0M502.9 99.0h7M506.4 95.5v7M503.9 96.4l5.0 5.0M503.9 101.5l5.0 -5.0M506.9 98.9h7M510.4 95.4v7M507.9 96.4l5.0 5.0M507.9 101.5l5.0 -5.0M505.3 100.6h7M508.8 97.1v7M506.3 98.0l5.0 5.0M506.3 103.1l5.0 -5.0M508.8 101.0h7M512.3 97.5v7M509.8 98.5l5.0 5.0M509.8 103.5l5.0 -5.0M506.7 102.4h7M510.2 98.9v7M507.7 99.9l5.0 5.0M507.7 105.0l5.0 -5.0M508.3 103.3h7M511.8 99.8v7M509.2 100.8l5.0 5.0M509.2 105.8l5.0 -5.0M503.8 106.1h7M507.3 102.6v7M504.7 103.6l5.0 5.0M504.7 108.6l5.0 -5.0M508.6 105.7h7M512.1 102.2v7M509.6 103.2l5.0 5.0M509.6 108.3l5.0 -5.0M507.5 107.4h7M511.0 103.9v7M508.5 104.9l5.0 5.0M508.5 109.9l5.0 -5.0M508.9 108.6h7M512.4 105.1v7M509.9 106.1l5.0 5.0M509.9 111.1l5.0 -5.0M504.8 111.2h7M508.3 107.7v7M505.8 108.7l5.0 5.0M505.8 113.7l5.0 -5.0M511.8 110.0h7M515.3 106.5v7M512.8 107.5l5.0 5.0M512.8 112.5l5.0 -5.0M505.9 112.7h7M509.4 109.2v7M506.9 110.2l5.0 5.0M506.9 115.3l5.0 -5.0M511.3 112.7h7M514.8 109.2v7M512.3 110.2l5.0 5.0M512.3 115.2l5.0 -5.0M510.3 114.5h7M513.8 111.0v7M511.3 112.0l5.0 5.0M511.3 117.0l5.0 -5.0" stroke="#ff00ff" stroke-width="1.25" fill="none"/>
<path d="M518.2 89.2h7M521.7 85.7v7M519.2 86.7l5.0 5.0M519.2 91.7l5.0 -5.0M522.5 88.6h7M526.0 85.1v7M523.5 86.1l5.0 5.0M523.5 91.1l5.0 -5.0M522.7 89.6h7M526.2 86.1v7M523.7 87.1l5.0 5.0M523.7 92.1l5.0 -5.0M519.9 92.2h7M523.4 88.7v7M520.9 89.6l5.0 5.0M520.9 94.7l5.0 -5.0M518.6 94.4h7M522.1 90.9v7M519.6 91.9l5.0 5.0M519.6 96.9l5.0 -5.0M526.0 92.5h7M529.5 89.0v7M527.0 90.0l5.0 5.0M527.0 95.0l5.0 -5.0M521.8 95.2h7M525.3 91.7v7M522.7 92.7l5.0 5.0M522.7 97.7l5.0 -5.0M523.2 95.9h7M526.7 92.4v7M524.2 93.4l5.0 5.0M524.2 98.4l5.0 -5.0M521.3 98.0h7M524.8 94.5v7M522.3 95.5l5.0 5.0M522.3 100.5l5.0 -5.0M523.2 99.3h7M526.7 95.8v7M524.2 96.8l5.0 5.0M524.2 101.8l5.0 -5.0M521.7 100.7h7M525.2 97.2v7M522.7 98.1l5.0 5.0M522.7 103.2l5.0 -5.0M524.7 100.6h7M528.2 97.1v7M525.7 98.0l5.0 5.0M525.7 103.1l5.0 -5.0M527.0 101.4h7M530.5 97.9v7M528.0 98.9l5.0 5.0M528.0 103.9l5.0 -5.0M523.3 103.7h7M526.8 100.2v7M524.3 101.2l5.0 5.0M524.3 106.2l5.0 -5.0M527.6 103.6h7M531.1 100.1v7M528.6 101.1l5.0 5.0M528.6 106.1l5.0 -5.0M529.8 104.1h7M533.3 100.6v7M530.8 101.6l5.0 5.0M530.8 106.6l5.0 -5.0M524.2 107.4h7M527.7 103.9v7M525.2 104.8l5.0 5.0M525.2 109.9l5.0 -5.0M529.1 107.2h7M532.6 103.7v7M530.1 104.7l5.0 5.0M530.1 109.7l5.0 -5.0M528.0 108.3h7M531.5 104.8v7M529.0 105.8l5.0 5.0M529.0 110.8l5.0 -5.0M530.4 108.8h7M533.9 105.3v7M531.4 106.3l5.0 5.0M531.4 111.3l5.0 -5.0M525.9 111.6h7M529.4 108.1v7M526.9 109.1l5.0 5.0M526.9 114.1l5.0 -5.0M527.6 112.6h7M531.1 109.1v7M528.5 110.1l5.0 5.0M528.5 115.1l5.0 -5.0" stroke="#ff00ff" stroke-width="1.25" fill="none"/>
<path d="M519.5 87.0h7M523.0 83.5v7M520.5 84.5l5.0 5.0M520.5 89.5l5.0 -5.0" stroke="#ff00ff" stroke-width="1.25" fill="none"/>
<path d="M537.5 121.2h7M541.0 117.7v7M538.4 118.7l5.0 5.0M538.4 123.7l5.0 -5.0M544.0 118.3h7M547.5 114.8v7M545.0 115.7l5.0 5.0M545.0 120.8l5.0 -5.0M542.5 116.5h7M546.0 113.0v7M543.5 114.0l5.0 5.0M543.5 119.0l5.0 -5.0M537.8 116.1h7M541.3 112.6v7M538.8 113.6l5.0 5.0M538.8 118.6l5.0 -5.0M539.2 122.3h7M542.7 118.8v7M540.2 119.7l5.0 5.0M540.2 124.8l5.0 -5.0M533.6 118.1h7M537.1 114.6v7M534.6 115.6l5.0 5.0M534.6 120.6l5.0 -5.0M545.5 120.2h7M549.0 116.7v7M546.5 117.7l5.0 5.0M546.5 122.7l5.0 -5.0M539.6 120.7h7M543.1 117.2v7M540.6 118.2l5.0 5.0M540.6 123.2l5.0 -5.0M542.3 121.4h7M545.8 117.9v7M543.2 118.9l5.0 5.0M543.2 123.9l5.0 -5.0M539.1 122.0h7M542.6 118.5v7M540.0 119.5l5.0 5.0M540.0 124.5l5.0 -5.0M546.5 118.8h7M550.0 115.3v7M547.5 116.3l5.0 5.0M547.5 121.4l5.0 -5.0M541.3 120.7h7M544.8 117.2v7M542.3 118.2l5.0 5.0M542.3 123.2l5.0 -5.0M536.1 121.8h7M539.6 118.3v7M537.1 119.3l5.0 5.0M537.1 124.3l5.0 -5.0M546.7 121.4h7M550.2 117.9v7M547.6 118.9l5.0 5.0M547.6 123.9l5.0 -5.0M542.3 117.5h7M545.8 114.0v7M543.3 115.0l5.0 5.0M543.3 120.0l5.0 -5.0M536.1 115.9h7M539.6 112.4v7M537.1 113.4l5.0 5.0M537.1 118.4l5.0 -5.0M536.9 114.9h7M540.4 111.4v7M537.9 112.4l5.0 5.0M537.9 117.4l5.0 -5.0M538.8 117.0h7M542.3 113.5v7M539.8 114.5l5.0 5.0M539.8 119.6l5.0 -5.0M534.1 117.5h7M537.6 114.0v7M535.1 115.0l5.0 5.0M535.1 120.0l5.0 -5.0M538.2 117.1h7M541.7 113.6v7M539.2 114.6l5.0 5.0M539.2 119.6l5.0 -5.0M545.0 117.8h7M548.5 114.3v7M546.0 115.2l5.0 5.0M546.0 120.3l5.0 -5.0M539.7 121.6h7M543.2 118.1v7M540.7 119.1l5.0 5.0M540.7 124.1l5.0 -5.0M547.4 118.7h7M550.9 115.2v7M548.3 116.2l5.0 5.0M548.3 121.2l5.0 -5.0M540.1 116.3h7M543.6 112.8v7M541.1 113.8l5.0 5.0M541.1 118.8l5.0 -5.0M533.6 115.5h7M537.1 112.0v7M534.5 113.0l5.0 5.0M534.5 118.0l5.0 -5.0M536.7 115.2h7M540.2 111.7v7M537.7 112.6l5.0 5.0M537.7 117.7l5.0 -5.0" stroke="#00ffff" stroke-width="1.25" fill="none"/>
<path d="M542.3 124.4h7M545.8 120.9v7M543.3 121.9l5.0 5.0M543.3 126.9l5.0 -5.0M542.5 118.6h7M546.0 115.1v7M543.5 116.0l5.0 5.0M543.5 121.1l5.0 -5.0M541.1 121.0h7M544.6 117.5v7M542.0 118.5l5.0 5.0M542.0 123.6l5.0 -5.0M546.2 122.7h7M549.7 119.2v7M547.2 120.1l5.0 5.0M547.2 125.2l5.0 -5.0M542.1 123.0h7M545.6 119.5v7M543.1 120.5l5.0 5.0M543.1 125.6l5.0 -5.0M538.4 123.5h7M541.9 120.0v7M539.4 121.0l5.0 5.0M539.4 126.0l5.0 -5.0M545.3 123.4h7M548.8 119.9v7M546.3 120.8l5.0 5.0M546.3 125.9l5.0 -5.0M541.2 120.3h7M544.7 116.8v7M542.2 117.8l5.0 5.0M542.2 122.8l5.0 -5.0M539.4 121.6h7M542.9 118.1v7M540.4 119.1l5.0 5.0M540.4 124.1l5.0 -5.0M545.0 119.7h7M548.5 116.2v7M546.0 117.2l5.0 5.0M546.0 122.3l5.0 -5.0" stroke="#00ffff" stroke-width="1.25" fill="none"/>
<path d="M527.7 120.0h7M531.2 116.5v7M528.7 117.4l5.0 5.0M528.7 122.5l5.0 -5.0M527.4 121.3h7M530.9 117.8v7M528.3 118.8l5.0 5.0M528.3 123.8l5.0 -5.0M526.8 123.9h7M530.3 120.4v7M527.8 121.4l5.0 5.0M527.8 126.4l5.0 -5.0M530.9 122.1h7M534.4 118.6v7M531.8 119.6l5.0 5.0M531.8 124.6l5.0 -5.0M529.9 125.2h7M533.4 121.7v7M530.8 122.7l5.0 5.0M530.8 127.7l5.0 -5.0M532.3 124.4h7M535.8 120.9v7M533.3 121.8l5.0 5.0M533.3 126.9l5.0 -5.0M531.8 126.2h7M535.3 122.7v7M532.8 123.7l5.0 5.0M532.8 128.7l5.0 -5.0M533.8 127.0h7M537.3 123.5v7M534.8 124.5l5.0 5.0M534.8 129.6l5.0 -5.0M533.7 128.7h7M537.2 125.2v7M534.7 126.1l5.0 5.0M534.7 131.2l5.0 -5.0M536.1 128.2h7M539.6 124.7v7M537.1 125.7l5.0 5.0M537.1 130.8l5.0 -5.0M534.2 131.4h7M537.7 127.9v7M535.2 128.9l5.0 5.0M535.2 133.9l5.0 -5.0M536.6 131.2h7M540.1 127.7v7M537.6 128.7l5.0 5.0M537.6 133.7l5.0 -5.0M537.4 132.2h7M540.9 128.7v7M538.3 129.7l5.0 5.0M538.3 134.7l5.0 -5.0M539.8 131.3h7M543.3 127.8v7M540.8 128.8l5.0 5.0M540.8 133.8l5.0 -5.0M540.4 132.9h7M543.9 129.4v7M541.4 130.4l5.0 5.0M541.4 135.4l5.0 -5.0M541.4 134.0h7M544.9 130.5v7M542.4 131.4l5.0 5.0M542.4 136.5l5.0 -5.0M541.0 135.5h7M544.5 132.0v7M542.0 133.0l5.0 5.0M542.0 138.0l5.0 -5.0M542.7 135.5h7M546.2 132.0v7M543.7 133.0l5.0 5.0M543.7 138.0l5.0 -5.0M542.1 137.9h7M545.6 134.4v7M543.1 135.4l5.0 5.0M543.1 140.5l5.0 -5.0M543.8 138.3h7M547.3 134.8v7M544.7 135.8l5.0 5.0M544.7 140.8l5.0 -5.0M543.7 140.0h7M547.2 136.5v7M544.7 137.5l5.0 5.0M544.7 142.5l5.0 -5.0M545.5 140.7h7M549.0 137.2v7M546.4 138.2l5.0 5.0M546.4 143.3l5.0 -5.0M548.3 139.1h7M551.8 135.6v7M549.2 136.6l5.0 5.0M549.2 141.6l5.0 -5.0M548.8 141.0h7M552.3 137.5v7M549.8 138.5l5.0 5.0M549.8 143.5l5.0 -5.0M549.9 141.0h7M553.4 137.5v7M550.9 138.5l5.0 5.0M550.9 143.6l5.0 -5.0M550.4 143.3h7M553.9 139.8v7M551.3 140.8l5.0 5.0M551.3 145.8l5.0 -5.0M552.8 142.9h7M556.3 139.4v7M553.7 140.4l5.0 5.0M553.7 145.4l5.0 -5.0M551.5 145.1h7M555.0 141.6v7M552.5 142.6l5.0 5.0M552.5 147.6l5.0 -5.0" stroke="#00ffff" stroke-width="1.25" fill="none"/>
<path d="M504.0 119.0h7M507.5 115.5v7M505.0 116.5l5.0 5.0M505.0 121.5l5.0 -5.0" stroke="#00ffff" stroke-width="1.25" fill="none"/>
<path d="M539.5 117.5h7M543.0 114.0v7" stroke="#ff00ff" stroke-width="1.25" fill="none"/>
<path d="M520.5 93.5h7M524.0 90.0v7M521.5 90.9l5.0 5.0M521.5 96.0l5.0 -5.0M518.4 94.5h7M521.9 91.0v7M519.4 91.9l5.0 5.0M519.4 97.0l5.0 -5.0M520.5 96.0h7M524.0 92.5v7M521.5 93.4l5.0 5.0M521.5 98.5l5.0 -5.0M519.6 97.1h7M523.1 93.6v7M520.5 94.6l5.0 5.0M520.5 99.6l5.0 -5.0M518.4 98.4h7M521.9 94.9v7M519.4 95.9l5.0 5.0M519.4 101.0l5.0 -5.0M517.7 99.3h7M521.2 95.8v7M518.7 96.8l5.0 5.0M518.7 101.8l5.0 -5.0M519.9 101.0h7M523.4 97.5v7M520.8 98.5l5.0 5.0M520.8 103.5l5.0 -5.0M520.6 101.7h7M524.1 98.2v7M521.5 99.2l5.0 5.0M521.5 104.2l5.0 -5.0M520.4 103.4h7M523.9 99.9v7M521.4 100.9l5.0 5.0M521.4 105.9l5.0 -5.0M517.8 104.6h7M521.3 101.1v7M518.8 102.1l5.0 5.0M518.8 107.1l5.0 -5.0M517.3 105.3h7M520.8 101.8v7M518.3 102.8l5.0 5.0M518.3 107.9l5.0 -5.0M518.3 106.9h7M521.8 103.4v7M519.3 104.4l5.0 5.0M519.3 109.4l5.0 -5.0M519.3 108.2h7M522.8 104.7v7M520.3 105.7l5.0 5.0M520.3 110.7l5.0 -5.0M518.3 108.8h7M521.8 105.3v7M519.3 106.3l5.0 5.0M519.3 111.3l5.0 -5.0M518.6 110.4h7M522.1 106.9v7M519.6 107.9l5.0 5.0M519.6 112.9l5.0 -5.0M519.6 111.9h7M523.1 108.4v7M520.6 109.4l5.0 5.0M520.6 114.4l5.0 -5.0M515.3 112.6h7M518.8 109.1v7M516.3 110.1l5.0 5.0M516.3 115.1l5.0 -5.0M515.3 113.9h7M518.8 110.4v7M516.3 111.4l5.0 5.0M516.3 116.4l5.0 -5.0" stroke="#ffff00" stroke-width="1.25" fill="none"/>
<path d="M517.0 112.8h7M520.5 109.3v7M518.0 110.3l5.0 5.0M518.0 115.3l5.0 -5.0M511.6 114.3h7M515.1 110.8v7M512.6 111.7l5.0 5.0M512.6 116.8l5.0 -5.0M518.1 114.9h7M521.6 111.4v7M519.1 112.4l5.0 5.0M519.1 117.5l5.0 -5.0M523.0 116.1h7M526.5 112.6v7M524.0 113.6l5.0 5.0M524.0 118.6l5.0 -5.0M512.9 116.9h7M516.4 113.4v7M513.9 114.4l5.0 5.0M513.9 119.5l5.0 -5.0M520.2 118.1h7M523.7 114.6v7M521.2 115.5l5.0 5.0M521.2 120.6l5.0 -5.0M513.7 118.8h7M517.2 115.3v7M514.7 116.3l5.0 5.0M514.7 121.3l5.0 -5.0M520.3 120.1h7M523.8 116.6v7M521.3 117.6l5.0 5.0M521.3 122.6l5.0 -5.0M523.5 121.2h7M527.0 117.7v7M524.4 118.7l5.0 5.0M524.4 123.7l5.0 -5.0M519.9 122.2h7M523.4 118.7v7M520.9 119.7l5.0 5.0M520.9 124.7l5.0 -5.0M518.1 122.8h7M521.6 119.3v7M519.1 120.3l5.0 5.0M519.1 125.3l5.0 -5.0M523.7 123.8h7M527.2 120.3v7M524.7 121.2l5.0 5.0M524.7 126.3l5.0 -5.0M520.6 125.2h7M524.1 121.7v7M521.6 122.6l5.0 5.0M521.6 127.7l5.0 -5.0M513.7 126.1h7M517.2 122.6v7M514.7 123.6l5.0 5.0M514.7 128.6l5.0 -5.0M520.0 127.1h7M523.5 123.6v7M521.0 124.6l5.0 5.0M521.0 129.6l5.0 -5.0M514.5 127.9h7M518.0 124.4v7M515.5 125.4l5.0 5.0M515.5 130.4l5.0 -5.0M522.9 129.0h7M526.4 125.5v7M523.9 126.5l5.0 5.0M523.9 131.5l5.0 -5.0M521.1 129.8h7M524.6 126.3v7M522.1 127.3l5.0 5.0M522.1 132.3l5.0 -5.0M518.9 130.7h7M522.4 127.2v7M519.9 128.2l5.0 5.0M519.9 133.3l5.0 -5.0M512.3 131.9h7M515.8 128.4v7M513.3 129.3l5.0 5.0M513.3 134.4l5.0 -5.0M512.3 133.1h7M515.8 129.6v7M513.3 130.6l5.0 5.0M513.3 135.7l5.0 -5.0M523.9 134.2h7M527.4 130.7v7M524.8 131.7l5.0 5.0M524.8 136.8l5.0 -5.0M513.5 135.0h7M517.0 131.5v7M514.5 132.5l5.0 5.0M514.5 137.5l5.0 -5.0" stroke="#ffff00" stroke-width="1.25" fill="none"/>
<path d="M515.6 134.9h7M519.1 131.4v7M516.6 132.4l5.0 5.0M516.6 137.4l5.0 -5.0M519.8 136.1h7M523.3 132.6v7M520.8 133.6l5.0 5.0M520.8 138.6l5.0 -5.0M518.3 137.7h7M521.8 134.2v7M519.3 135.2l5.0 5.0M519.3 140.2l5.0 -5.0M515.7 138.2h7M519.2 134.7v7M516.7 135.7l5.0 5.0M516.7 140.7l5.0 -5.0M518.0 139.6h7M521.5 136.1v7M519.0 137.0l5.0 5.0M519.0 142.1l5.0 -5.0M518.5 141.0h7M522.0 137.5v7M519.5 138.4l5.0 5.0M519.5 143.5l5.0 -5.0M517.5 142.0h7M521.0 138.5v7M518.5 139.4l5.0 5.0M518.5 144.5l5.0 -5.0M516.3 143.2h7M519.8 139.7v7M517.2 140.6l5.0 5.0M517.2 145.7l5.0 -5.0" stroke="#ffff00" stroke-width="1.25" fill="none"/></g>
<line x1="393.5" y1="18.0" x2="646.2" y2="212.5" stroke="#000" stroke-width="1.5"/>
<path d="M414.56 212.5v-3.1M414.56 18.0v3.1M393.5 196.29h3.1M646.2 196.29h-3.1" stroke="#262626" stroke-width="1.3" fill="none"/>
<text x="414.56" y="233.80" text-anchor="middle" font-size="15.5">-1</text>
<text x="387.90" y="201.89" text-anchor="end" font-size="15.5">-1</text>
<path d="M467.20 212.5v-3.1M467.20 18.0v3.1M393.5 155.77h3.1M646.2 155.77h-3.1" stroke="#262626" stroke-width="1.3" fill="none"/>
<text x="467.20" y="233.80" text-anchor="middle" font-size="15.5">-0.5</text>
<text x="387.90" y="161.37" text-anchor="end" font-size="15.5">-0.5</text>
<path d="M519.85 212.5v-3.1M519.85 18.0v3.1M393.5 115.25h3.1M646.2 115.25h-3.1" stroke="#262626" stroke-width="1.3" fill="none"/>
<text x="519.85" y="233.80" text-anchor="middle" font-size="15.5">0</text>
<text x="387.90" y="120.85" text-anchor="end" font-size="15.5">0</text>
<path d="M572.50 212.5v-3.1M572.50 18.0v3.1M393.5 74.73h3.1M646.2 74.73h-3.1" stroke="#262626" stroke-width="1.3" fill="none"/>
<text x="572.50" y="233.80" text-anchor="middle" font-size="15.5">0.5</text>
<text x="387.90" y="80.33" text-anchor="end" font-size="15.5">0.5</text>
<path d="M625.14 212.5v-3.1M625.14 18.0v3.1M393.5 34.21h3.1M646.2 34.21h-3.1" stroke="#262626" stroke-width="1.3" fill="none"/>
<text x="625.14" y="233.80" text-anchor="middle" font-size="15.5">1</text>
<text x="387.90" y="39.81" text-anchor="end" font-size="15.5">1</text>
<rect x="393.5" y="18.0" width="252.70" height="194.50" fill="none" stroke="#262626" stroke-width="1.35"/>
<text x="519.55" y="12.50" text-anchor="middle" font-size="17.1"><tspan font-style="italic">r</tspan> = -0.64</text>
<text x="520.1" y="255.8" text-anchor="middle" font-size="17.3">D<tspan dy="8.4" font-size="13.8">M</tspan><tspan dy="-8.4">/|&lt;R<tspan dy="8.4" font-size="13.8">M</tspan><tspan dy="-8.4">&gt;|</tspan><tspan dy="8.4" font-size="13.8">max</tspan></tspan></text>
<text transform="translate(346.6,115.4) rotate(-90)" text-anchor="middle" font-size="17.3">T<tspan dy="8.4" font-size="13.8">ES-M</tspan><tspan dy="-8.4">/|&lt;R<tspan dy="8.4" font-size="13.8">M</tspan><tspan dy="-8.4">&gt;|</tspan><tspan dy="8.4" font-size="13.8">max</tspan></tspan></text>
<text x="340.4" y="26.3" font-size="17.6">(b)</text>
</g>
<g id="ax-c">
<line x1="80.84" y1="313.0" x2="80.84" y2="507.9" stroke="#dcdcdc" stroke-width="1"/>
<line x1="59.8" y1="491.66" x2="312.3" y2="491.66" stroke="#dcdcdc" stroke-width="1"/>
<line x1="133.45" y1="313.0" x2="133.45" y2="507.9" stroke="#dcdcdc" stroke-width="1"/>
<line x1="59.8" y1="451.05" x2="312.3" y2="451.05" stroke="#dcdcdc" stroke-width="1"/>
<line x1="186.05" y1="313.0" x2="186.05" y2="507.9" stroke="#dcdcdc" stroke-width="1"/>
<line x1="59.8" y1="410.45" x2="312.3" y2="410.45" stroke="#dcdcdc" stroke-width="1"/>
<line x1="238.65" y1="313.0" x2="238.65" y2="507.9" stroke="#dcdcdc" stroke-width="1"/>
<line x1="59.8" y1="369.85" x2="312.3" y2="369.85" stroke="#dcdcdc" stroke-width="1"/>
<line x1="291.26" y1="313.0" x2="291.26" y2="507.9" stroke="#dcdcdc" stroke-width="1"/>
<line x1="59.8" y1="329.24" x2="312.3" y2="329.24" stroke="#dcdcdc" stroke-width="1"/>
<g class="pts"><path d="M150.5 329.0h7M154.0 325.5v7M154.5 333.0h7M158.0 329.5v7M159.5 338.0h7M163.0 334.5v7M165.5 345.0h7M169.0 341.5v7M170.5 352.0h7M174.0 348.5v7M148.5 331.0h7M152.0 327.5v7M231.5 397.0h7M235.0 393.5v7M237.5 398.0h7M241.0 394.5v7M244.5 399.4h7M248.0 395.9v7M253.5 400.6h7M257.0 397.1v7M263.5 401.0h7M267.0 397.5v7M273.5 402.0h7M277.0 398.5v7M280.5 403.0h7M284.0 399.5v7M285.5 406.0h7M289.0 402.5v7M286.5 412.0h7M290.0 408.5v7M280.5 419.0h7M284.0 415.5v7M273.5 423.6h7M277.0 420.1v7M266.5 427.0h7M270.0 423.5v7M259.5 429.0h7M263.0 425.5v7M249.5 426.0h7M253.0 422.5v7M239.5 424.0h7M243.0 420.5v7M230.5 421.0h7M234.0 417.5v7M232.1 439.0h7M235.6 435.5v7M242.5 441.0h7M246.0 437.5v7M268.5 449.0h7M272.0 445.5v7" stroke="#ff0000" stroke-width="1.25" fill="none"/>
<path d="M114.5 329.0h7M118.0 325.5v7M119.5 329.0h7M123.0 325.5v7M96.5 350.0h7M100.0 346.5v7M95.5 358.0h7M99.0 354.5v7M99.5 372.0h7M103.0 368.5v7M103.5 374.0h7M107.0 370.5v7M116.5 378.0h7M120.0 374.5v7M124.5 379.0h7M128.0 375.5v7M130.5 381.0h7M134.0 377.5v7M124.5 404.0h7M128.0 400.5v7M127.5 406.0h7M131.0 402.5v7M136.5 408.0h7M140.0 404.5v7M135.5 385.0h7M139.0 381.5v7M213.5 380.0h7M217.0 376.5v7M216.5 383.6h7M220.0 380.1v7M210.5 388.4h7M214.0 384.9v7M216.5 418.0h7M220.0 414.5v7" stroke="#0000ff" stroke-width="1.25" fill="none"/>
<path d="M140.5 331.0h7M144.0 327.5v7M137.5 338.0h7M141.0 334.5v7M152.5 344.0h7M156.0 340.5v7M144.5 352.0h7M148.0 348.5v7M154.5 367.0h7M158.0 363.5v7M162.5 378.0h7M166.0 374.5v7M233.5 414.0h7M237.0 410.5v7M238.9 413.0h7M242.4 409.5v7M249.5 413.0h7M253.0 409.5v7M260.5 413.6h7M264.0 410.1v7M271.5 416.0h7M275.0 412.5v7M266.5 420.0h7M270.0 416.5v7M260.9 428.0h7M264.4 424.5v7M256.5 436.0h7M260.0 432.5v7M250.5 444.0h7M254.0 440.5v7M252.5 454.0h7M256.0 450.5v7M253.5 462.0h7M257.0 458.5v7M258.5 469.0h7M262.0 465.5v7M266.5 473.0h7M270.0 469.5v7M275.5 476.0h7M279.0 472.5v7M282.5 475.0h7M286.0 471.5v7M278.9 468.0h7M282.4 464.5v7M270.5 463.0h7M274.0 459.5v7M261.5 454.0h7M265.0 450.5v7M198.5 430.0h7M202.0 426.5v7M204.5 440.0h7M208.0 436.5v7M208.5 447.0h7M212.0 443.5v7M212.5 448.0h7M216.0 444.5v7M233.5 420.0h7M237.0 416.5v7" stroke="#00ffff" stroke-width="1.25" fill="none"/>
<path d="M226.5 329.0h7M230.0 325.5v7M232.5 329.0h7M236.0 325.5v7M244.5 329.0h7M248.0 325.5v7M256.5 332.0h7M260.0 328.5v7M264.9 337.0h7M268.4 333.5v7M267.5 342.4h7M271.0 338.9v7M263.5 347.0h7M267.0 343.5v7M255.5 351.0h7M259.0 347.5v7M244.1 354.4h7M247.6 350.9v7M228.5 360.0h7M232.0 356.5v7M213.5 366.0h7M217.0 362.5v7M199.5 373.0h7M203.0 369.5v7M236.5 334.0h7M240.0 330.5v7M233.5 339.0h7M237.0 335.5v7M234.5 332.0h7M238.0 328.5v7M194.5 345.6h7M198.0 342.1v7M124.5 341.0h7M128.0 337.5v7M132.5 345.0h7M136.0 341.5v7M141.5 345.0h7M145.0 341.5v7M158.5 354.0h7M162.0 350.5v7M170.5 355.0h7M174.0 351.5v7M162.5 363.0h7M166.0 359.5v7M170.5 367.0h7M174.0 363.5v7M182.5 371.0h7M186.0 367.5v7M239.5 401.6h7M243.0 398.1v7M262.5 401.0h7M266.0 397.5v7M280.5 403.0h7M284.0 399.5v7M288.5 406.4h7M292.0 402.9v7M284.5 410.0h7M288.0 406.5v7M267.5 414.0h7M271.0 410.5v7M250.5 419.0h7M254.0 415.5v7M227.5 414.0h7M231.0 410.5v7M225.5 429.0h7M229.0 425.5v7M234.5 423.0h7M238.0 419.5v7M223.5 430.0h7M227.0 426.5v7M229.5 433.0h7M233.0 429.5v7M233.5 430.0h7M237.0 426.5v7M227.5 443.0h7M231.0 439.5v7M238.5 448.0h7M242.0 444.5v7M248.5 448.0h7M252.0 444.5v7M255.5 447.0h7M259.0 443.5v7M265.5 449.0h7M269.0 445.5v7M249.5 461.0h7M253.0 457.5v7M262.5 470.0h7M266.0 466.5v7M272.5 475.0h7M276.0 471.5v7M280.5 470.0h7M284.0 466.5v7M279.5 465.0h7M283.0 461.5v7M274.5 459.0h7M278.0 455.5v7" stroke="#ff00ff" stroke-width="1.25" fill="none"/>
<path d="M219.5 340.0h7M223.0 336.5v7M214.5 345.0h7M218.0 341.5v7M211.5 354.0h7M215.0 350.5v7M209.5 362.6h7M213.0 359.1v7M207.5 370.0h7M211.0 366.5v7M203.5 377.0h7M207.0 373.5v7M200.5 384.0h7M204.0 380.5v7M224.5 341.0h7M228.0 337.5v7M229.5 347.0h7M233.0 343.5v7M232.1 356.6h7M235.6 353.1v7M231.5 367.0h7M235.0 363.5v7M227.5 376.4h7M231.0 372.9v7M222.5 384.0h7M226.0 380.5v7M216.1 390.0h7M219.6 386.5v7M218.5 343.0h7M222.0 339.5v7M205.5 385.0h7M209.0 381.5v7M231.5 467.0h7M235.0 463.5v7M238.9 474.4h7M242.4 470.9v7M247.5 480.0h7M251.0 476.5v7M255.5 485.0h7M259.0 481.5v7M263.5 488.4h7M267.0 484.9v7M269.5 491.0h7M273.0 487.5v7M273.9 491.0h7M277.4 487.5v7M278.1 488.0h7M281.6 484.5v7M281.5 484.0h7M285.0 480.5v7M284.9 480.0h7M288.4 476.5v7M287.5 476.0h7M291.0 472.5v7M288.5 471.0h7M292.0 467.5v7M286.1 469.0h7M289.6 465.5v7M280.5 464.0h7M284.0 460.5v7M274.5 459.0h7M278.0 455.5v7M268.5 453.0h7M272.0 449.5v7M263.5 448.0h7M267.0 444.5v7M256.5 442.0h7M260.0 438.5v7M250.9 436.0h7M254.4 432.5v7M245.5 431.0h7M249.0 427.5v7M237.5 425.0h7M241.0 421.5v7M229.5 420.0h7M233.0 416.5v7" stroke="#ffff00" stroke-width="1.25" fill="none"/>
<path d="M203.8 437.4h7M207.3 433.9v7M204.2 425.9h7M207.7 422.4v7M208.9 442.9h7M212.4 439.4v7M205.3 436.1h7M208.8 432.6v7M206.8 446.4h7M210.3 442.9v7M200.4 433.3h7M203.9 429.8v7M211.7 433.2h7M215.2 429.7v7M193.8 432.6h7M197.3 429.1v7M194.4 424.1h7M197.9 420.6v7M205.9 439.6h7M209.4 436.1v7M203.6 444.4h7M207.1 440.9v7M210.3 431.4h7M213.8 427.9v7M199.2 423.5h7M202.7 420.0v7M192.1 430.4h7M195.6 426.9v7M212.2 436.6h7M215.7 433.1v7M190.2 435.0h7M193.7 431.5v7M192.0 432.4h7M195.5 428.9v7M190.4 441.3h7M193.9 437.8v7M195.0 434.7h7M198.5 431.2v7M206.5 433.6h7M210.0 430.1v7M190.0 434.9h7M193.5 431.4v7M188.2 434.6h7M191.7 431.1v7M190.1 430.9h7M193.6 427.4v7M203.2 432.2h7M206.7 428.7v7M198.0 431.8h7M201.5 428.3v7M205.1 441.6h7M208.6 438.1v7M190.7 426.6h7M194.2 423.1v7M198.5 432.2h7M202.0 428.7v7M201.2 422.2h7M204.7 418.7v7M200.6 433.1h7M204.1 429.6v7M201.8 446.7h7M205.3 443.2v7M200.2 424.4h7M203.7 420.9v7M201.9 437.8h7M205.4 434.3v7M205.7 439.5h7M209.2 436.0v7" stroke="#ffff00" stroke-width="1.25" fill="none"/>
<path d="M196.0 407.5h7M199.5 404.0v7M196.6 402.3h7M200.1 398.8v7M196.2 394.7h7M199.7 391.2v7M195.1 419.7h7M198.6 416.2v7M194.0 397.4h7M197.5 393.9v7M192.1 416.8h7M195.6 413.3v7M198.2 403.2h7M201.7 399.7v7M198.2 418.3h7M201.7 414.8v7M195.6 419.9h7M199.1 416.4v7M200.0 412.8h7M203.5 409.3v7M196.7 421.2h7M200.2 417.7v7M198.3 417.1h7M201.8 413.6v7M192.7 396.9h7M196.2 393.4v7M193.3 412.7h7M196.8 409.2v7M197.5 400.4h7M201.0 396.9v7M200.3 412.4h7M203.8 408.9v7M195.3 423.3h7M198.8 419.8v7M200.9 398.4h7M204.4 394.9v7M200.4 419.3h7M203.9 415.8v7M192.7 397.6h7M196.2 394.1v7M194.6 419.6h7M198.1 416.1v7M199.9 421.7h7M203.4 418.2v7" stroke="#ffff00" stroke-width="1.25" fill="none"/>
<path d="M222.7 423.1h7M226.2 419.6v7M207.7 418.6h7M211.2 415.1v7M213.6 422.4h7M217.1 418.9v7M218.0 420.1h7M221.5 416.6v7M217.2 419.0h7M220.7 415.5v7M227.5 427.4h7M231.0 423.9v7M216.8 425.2h7M220.3 421.7v7M206.2 418.1h7M209.7 414.6v7M215.1 419.9h7M218.6 416.4v7M211.4 426.0h7M214.9 422.5v7M203.7 418.8h7M207.2 415.3v7M215.7 420.4h7M219.2 416.9v7" stroke="#ffff00" stroke-width="1.25" fill="none"/>
<path d="M82.1 331.0h7M85.6 327.5v7M83.1 328.5l5.0 5.0M83.1 333.5l5.0 -5.0M84.1 331.4h7M87.6 327.9v7M85.1 328.9l5.0 5.0M85.1 333.9l5.0 -5.0M86.1 332.8h7M89.6 329.3v7M87.1 330.3l5.0 5.0M87.1 335.3l5.0 -5.0M89.0 333.2h7M92.5 329.7v7M90.0 330.6l5.0 5.0M90.0 335.7l5.0 -5.0M90.9 334.1h7M94.4 330.6v7M91.9 331.5l5.0 5.0M91.9 336.6l5.0 -5.0M92.8 334.4h7M96.3 330.9v7M93.8 331.9l5.0 5.0M93.8 336.9l5.0 -5.0M94.2 334.6h7M97.7 331.1v7M95.2 332.1l5.0 5.0M95.2 337.2l5.0 -5.0M96.4 335.8h7M99.9 332.3v7M97.4 333.2l5.0 5.0M97.4 338.3l5.0 -5.0M98.3 336.3h7M101.8 332.8v7M99.2 333.8l5.0 5.0M99.2 338.8l5.0 -5.0M99.9 336.9h7M103.4 333.4v7M100.8 334.4l5.0 5.0M100.8 339.4l5.0 -5.0M102.0 337.6h7M105.5 334.1v7M103.0 335.1l5.0 5.0M103.0 340.1l5.0 -5.0M104.8 338.6h7M108.3 335.1v7M105.8 336.0l5.0 5.0M105.8 341.1l5.0 -5.0M106.6 339.5h7M110.1 336.0v7M107.6 336.9l5.0 5.0M107.6 342.0l5.0 -5.0M108.5 340.2h7M112.0 336.7v7M109.5 337.6l5.0 5.0M109.5 342.7l5.0 -5.0M110.2 341.3h7M113.7 337.8v7M111.1 338.8l5.0 5.0M111.1 343.8l5.0 -5.0M112.3 341.7h7M115.8 338.2v7M113.3 339.2l5.0 5.0M113.3 344.3l5.0 -5.0M114.1 343.1h7M117.6 339.6v7M115.1 340.6l5.0 5.0M115.1 345.6l5.0 -5.0M115.7 343.6h7M119.2 340.1v7M116.7 341.0l5.0 5.0M116.7 346.1l5.0 -5.0M118.1 344.5h7M121.6 341.0v7M119.1 342.0l5.0 5.0M119.1 347.0l5.0 -5.0M119.3 345.2h7M122.8 341.7v7M120.3 342.7l5.0 5.0M120.3 347.7l5.0 -5.0M121.2 346.0h7M124.7 342.5v7M122.2 343.5l5.0 5.0M122.2 348.6l5.0 -5.0M123.3 347.3h7M126.8 343.8v7M124.3 344.8l5.0 5.0M124.3 349.9l5.0 -5.0M125.2 348.1h7M128.7 344.6v7M126.2 345.6l5.0 5.0M126.2 350.7l5.0 -5.0M126.6 349.2h7M130.1 345.7v7M127.5 346.7l5.0 5.0M127.5 351.7l5.0 -5.0M129.1 350.0h7M132.6 346.5v7M130.1 347.5l5.0 5.0M130.1 352.6l5.0 -5.0M131.2 351.6h7M134.7 348.1v7M132.2 349.1l5.0 5.0M132.2 354.1l5.0 -5.0M132.2 351.9h7M135.7 348.4v7M133.2 349.4l5.0 5.0M133.2 354.4l5.0 -5.0M135.0 353.5h7M138.5 350.0v7M136.0 351.0l5.0 5.0M136.0 356.0l5.0 -5.0M136.4 354.2h7M139.9 350.7v7M137.4 351.7l5.0 5.0M137.4 356.7l5.0 -5.0M138.4 355.0h7M141.9 351.5v7M139.4 352.5l5.0 5.0M139.4 357.6l5.0 -5.0M140.4 356.7h7M143.9 353.2v7M141.4 354.2l5.0 5.0M141.4 359.2l5.0 -5.0M141.8 357.4h7M145.3 353.9v7M142.7 354.9l5.0 5.0M142.7 359.9l5.0 -5.0M143.6 358.5h7M147.1 355.0v7M144.6 356.0l5.0 5.0M144.6 361.0l5.0 -5.0M145.0 359.6h7M148.5 356.1v7M146.0 357.1l5.0 5.0M146.0 362.2l5.0 -5.0M147.4 361.2h7M150.9 357.7v7M148.4 358.7l5.0 5.0M148.4 363.7l5.0 -5.0M148.5 361.8h7M152.0 358.3v7M149.5 359.3l5.0 5.0M149.5 364.4l5.0 -5.0M150.6 363.9h7M154.1 360.4v7M151.5 361.4l5.0 5.0M151.5 366.4l5.0 -5.0M152.0 365.3h7M155.5 361.8v7M153.0 362.8l5.0 5.0M153.0 367.9l5.0 -5.0M153.2 367.2h7M156.7 363.7v7M154.2 364.6l5.0 5.0M154.2 369.7l5.0 -5.0M153.9 368.1h7M157.4 364.6v7M154.8 365.6l5.0 5.0M154.8 370.7l5.0 -5.0M155.3 370.6h7M158.8 367.1v7M156.3 368.1l5.0 5.0M156.3 373.1l5.0 -5.0M156.3 372.2h7M159.8 368.7v7M157.3 369.7l5.0 5.0M157.3 374.7l5.0 -5.0" stroke="#00ff00" stroke-width="1.25" fill="none"/>
<path d="M119.2 338.1h7M122.7 334.6v7M120.2 335.6l5.0 5.0M120.2 340.6l5.0 -5.0M120.4 337.4h7M123.9 333.9v7M121.4 334.8l5.0 5.0M121.4 339.9l5.0 -5.0M123.1 336.0h7M126.6 332.5v7M124.1 333.5l5.0 5.0M124.1 338.5l5.0 -5.0M125.6 335.2h7M129.1 331.7v7M126.6 332.7l5.0 5.0M126.6 337.8l5.0 -5.0M128.8 334.3h7M132.3 330.8v7M129.8 331.8l5.0 5.0M129.8 336.9l5.0 -5.0" stroke="#00ff00" stroke-width="1.25" fill="none"/>
<path d="M124.0 374.0h7M127.5 370.5v7M125.0 371.5l5.0 5.0M125.0 376.5l5.0 -5.0M130.1 376.4h7M133.6 372.9v7M131.1 373.9l5.0 5.0M131.1 378.9l5.0 -5.0M135.2 379.5h7M138.7 376.0v7M136.2 377.0l5.0 5.0M136.2 382.0l5.0 -5.0M140.3 380.5h7M143.8 377.0v7M141.3 378.0l5.0 5.0M141.3 383.0l5.0 -5.0M146.5 381.5h7M150.0 378.0v7M147.5 379.0l5.0 5.0M147.5 384.0l5.0 -5.0M152.5 383.5h7M156.0 380.0v7M153.5 381.0l5.0 5.0M153.5 386.0l5.0 -5.0" stroke="#00ff00" stroke-width="1.25" fill="none"/>
<path d="M145.4 405.2h7M148.9 401.7v7M146.4 402.7l5.0 5.0M146.4 407.7l5.0 -5.0M140.8 401.3h7M144.3 397.8v7M141.7 398.8l5.0 5.0M141.7 403.8l5.0 -5.0M141.1 393.4h7M144.6 389.9v7M142.1 390.8l5.0 5.0M142.1 395.9l5.0 -5.0M137.3 404.3h7M140.8 400.8v7M138.3 401.8l5.0 5.0M138.3 406.9l5.0 -5.0M147.0 388.4h7M150.5 384.9v7M147.9 385.9l5.0 5.0M147.9 390.9l5.0 -5.0M142.2 394.0h7M145.7 390.5v7M143.2 391.4l5.0 5.0M143.2 396.5l5.0 -5.0M149.9 396.5h7M153.4 393.0v7M150.9 394.0l5.0 5.0M150.9 399.0l5.0 -5.0M143.7 394.8h7M147.2 391.3v7M144.7 392.3l5.0 5.0M144.7 397.4l5.0 -5.0M139.6 392.4h7M143.1 388.9v7M140.6 389.8l5.0 5.0M140.6 394.9l5.0 -5.0M144.3 403.2h7M147.8 399.7v7M145.3 400.7l5.0 5.0M145.3 405.8l5.0 -5.0M146.2 392.7h7M149.7 389.2v7M147.2 390.2l5.0 5.0M147.2 395.2l5.0 -5.0M142.4 394.3h7M145.9 390.8v7M143.4 391.8l5.0 5.0M143.4 396.9l5.0 -5.0M146.9 389.9h7M150.4 386.4v7M147.9 387.4l5.0 5.0M147.9 392.4l5.0 -5.0M138.3 404.8h7M141.8 401.3v7M139.3 402.3l5.0 5.0M139.3 407.3l5.0 -5.0M141.5 393.6h7M145.0 390.1v7M142.4 391.1l5.0 5.0M142.4 396.2l5.0 -5.0M140.2 394.2h7M143.7 390.7v7M141.2 391.6l5.0 5.0M141.2 396.7l5.0 -5.0M144.9 393.9h7M148.4 390.4v7M145.9 391.3l5.0 5.0M145.9 396.4l5.0 -5.0M145.0 388.4h7M148.5 384.9v7M146.0 385.9l5.0 5.0M146.0 390.9l5.0 -5.0" stroke="#00ff00" stroke-width="1.25" fill="none"/>
<path d="M78.5 337.0h7M82.0 333.5v7M79.5 334.5l5.0 5.0M79.5 339.5l5.0 -5.0M84.5 340.0h7M88.0 336.5v7M85.5 337.5l5.0 5.0M85.5 342.5l5.0 -5.0M90.5 329.0h7M94.0 325.5v7M91.5 326.5l5.0 5.0M91.5 331.5l5.0 -5.0M96.5 330.0h7M100.0 326.5v7M97.5 327.5l5.0 5.0M97.5 332.5l5.0 -5.0M86.5 342.0h7M90.0 338.5v7M87.5 339.5l5.0 5.0M87.5 344.5l5.0 -5.0M94.5 340.0h7M98.0 336.5v7M95.5 337.5l5.0 5.0M95.5 342.5l5.0 -5.0M106.5 334.0h7M110.0 330.5v7M107.5 331.5l5.0 5.0M107.5 336.5l5.0 -5.0M82.5 333.0h7M86.0 329.5v7M83.5 330.5l5.0 5.0M83.5 335.5l5.0 -5.0M100.5 336.0h7M104.0 332.5v7M101.5 333.5l5.0 5.0M101.5 338.5l5.0 -5.0M88.5 336.0h7M92.0 332.5v7M89.5 333.5l5.0 5.0M89.5 338.5l5.0 -5.0M96.5 363.0h7M100.0 359.5v7M97.5 360.5l5.0 5.0M97.5 365.5l5.0 -5.0M101.5 362.0h7M105.0 358.5v7M102.5 359.5l5.0 5.0M102.5 364.5l5.0 -5.0M108.5 358.0h7M112.0 354.5v7M109.5 355.5l5.0 5.0M109.5 360.5l5.0 -5.0M114.5 352.0h7M118.0 348.5v7M115.5 349.5l5.0 5.0M115.5 354.5l5.0 -5.0M113.5 366.0h7M117.0 362.5v7M114.5 363.5l5.0 5.0M114.5 368.5l5.0 -5.0M119.5 367.0h7M123.0 363.5v7M120.5 364.5l5.0 5.0M120.5 369.5l5.0 -5.0M125.5 363.0h7M129.0 359.5v7M126.5 360.5l5.0 5.0M126.5 365.5l5.0 -5.0M132.5 361.0h7M136.0 357.5v7M133.5 358.5l5.0 5.0M133.5 363.5l5.0 -5.0M106.5 369.0h7M110.0 365.5v7M107.5 366.5l5.0 5.0M107.5 371.5l5.0 -5.0M110.5 362.0h7M114.0 358.5v7M111.5 359.5l5.0 5.0M111.5 364.5l5.0 -5.0M117.5 358.0h7M121.0 354.5v7M118.5 355.5l5.0 5.0M118.5 360.5l5.0 -5.0M122.5 366.0h7M126.0 362.5v7M123.5 363.5l5.0 5.0M123.5 368.5l5.0 -5.0M154.5 356.0h7M158.0 352.5v7M155.5 353.5l5.0 5.0M155.5 358.5l5.0 -5.0M164.5 359.0h7M168.0 355.5v7M165.5 356.5l5.0 5.0M165.5 361.5l5.0 -5.0M174.5 362.0h7M178.0 358.5v7M175.5 359.5l5.0 5.0M175.5 364.5l5.0 -5.0M159.5 357.0h7M163.0 353.5v7M160.5 354.5l5.0 5.0M160.5 359.5l5.0 -5.0M169.5 361.0h7M173.0 357.5v7M170.5 358.5l5.0 5.0M170.5 363.5l5.0 -5.0" stroke="#ff0000" stroke-width="1.25" fill="none"/>
<path d="M90.4 327.6h7M93.9 324.1v7M91.4 325.1l5.0 5.0M91.4 330.1l5.0 -5.0M98.5 328.9h7M102.0 325.4v7M99.5 326.4l5.0 5.0M99.5 331.4l5.0 -5.0M106.0 333.2h7M109.5 329.8v7M107.0 330.7l5.0 5.0M107.0 335.8l5.0 -5.0M77.2 337.6h7M80.8 334.1v7M78.2 335.1l5.0 5.0M78.2 340.1l5.0 -5.0M87.2 340.8h7M90.8 337.2v7M88.2 338.2l5.0 5.0M88.2 343.3l5.0 -5.0M96.0 342.0h7M99.5 338.5v7M97.0 339.5l5.0 5.0M97.0 344.5l5.0 -5.0M104.8 344.5h7M108.2 341.0v7M105.7 342.0l5.0 5.0M105.7 347.0l5.0 -5.0M113.5 352.0h7M117.0 348.5v7M114.5 349.5l5.0 5.0M114.5 354.5l5.0 -5.0M108.5 358.2h7M112.0 354.8v7M109.5 355.7l5.0 5.0M109.5 360.8l5.0 -5.0M95.4 363.9h7M98.9 360.4v7M96.4 361.4l5.0 5.0M96.4 366.4l5.0 -5.0M102.2 363.2h7M105.8 359.8v7M103.2 360.7l5.0 5.0M103.2 365.8l5.0 -5.0M98.5 365.8h7M102.0 362.2v7M99.5 363.2l5.0 5.0M99.5 368.3l5.0 -5.0M124.8 362.0h7M128.2 358.5v7M125.7 359.5l5.0 5.0M125.7 364.5l5.0 -5.0M132.2 360.1h7M135.8 356.6v7M133.2 357.6l5.0 5.0M133.2 362.6l5.0 -5.0M119.8 367.0h7M123.2 363.5v7M120.7 364.5l5.0 5.0M120.7 369.5l5.0 -5.0M114.8 372.0h7M118.2 368.5v7M115.7 369.5l5.0 5.0M115.7 374.5l5.0 -5.0" stroke="#ff0000" stroke-width="1.25" fill="none"/>
<path d="M110.4 377.0h7M113.9 373.5v7M111.4 374.5l5.0 5.0M111.4 379.6l5.0 -5.0M108.8 379.1h7M112.3 375.6v7M109.7 376.5l5.0 5.0M109.7 381.6l5.0 -5.0M106.9 379.9h7M110.4 376.4v7M107.9 377.4l5.0 5.0M107.9 382.4l5.0 -5.0M106.3 381.5h7M109.8 378.0v7M107.3 379.0l5.0 5.0M107.3 384.0l5.0 -5.0M104.7 383.3h7M108.2 379.8v7M105.7 380.7l5.0 5.0M105.7 385.8l5.0 -5.0M103.8 385.6h7M107.3 382.1v7M104.7 383.1l5.0 5.0M104.7 388.1l5.0 -5.0M102.9 387.7h7M106.4 384.2v7M103.9 385.2l5.0 5.0M103.9 390.2l5.0 -5.0M101.9 388.8h7M105.4 385.3v7M102.9 386.3l5.0 5.0M102.9 391.3l5.0 -5.0M101.4 391.2h7M104.9 387.7v7M102.4 388.7l5.0 5.0M102.4 393.7l5.0 -5.0M101.5 394.0h7M105.0 390.5v7M102.5 391.5l5.0 5.0M102.5 396.6l5.0 -5.0M101.3 395.8h7M104.8 392.3v7M102.3 393.3l5.0 5.0M102.3 398.3l5.0 -5.0M102.1 398.0h7M105.6 394.5v7M103.1 395.5l5.0 5.0M103.1 400.5l5.0 -5.0M103.4 399.6h7M106.9 396.1v7M104.4 397.1l5.0 5.0M104.4 402.2l5.0 -5.0M105.1 401.0h7M108.6 397.5v7M106.0 398.4l5.0 5.0M106.0 403.5l5.0 -5.0M108.1 401.6h7M111.6 398.1v7M109.1 399.1l5.0 5.0M109.1 404.1l5.0 -5.0M110.2 402.4h7M113.7 398.9v7M111.2 399.9l5.0 5.0M111.2 405.0l5.0 -5.0" stroke="#ff0000" stroke-width="1.25" fill="none"/>
<path d="M117.5 399.0h7M121.0 395.5v7M118.5 396.5l5.0 5.0M118.5 401.5l5.0 -5.0M126.5 397.5h7M130.0 394.0v7M127.5 395.0l5.0 5.0M127.5 400.0l5.0 -5.0M133.5 394.5h7M137.0 391.0v7M134.5 392.0l5.0 5.0M134.5 397.0l5.0 -5.0M140.5 396.0h7M144.0 392.5v7M141.5 393.5l5.0 5.0M141.5 398.5l5.0 -5.0" stroke="#ff0000" stroke-width="1.25" fill="none"/>
<path d="M190.3 392.6h7M193.8 389.1v7M191.3 390.1l5.0 5.0M191.3 395.1l5.0 -5.0M191.7 396.1h7M195.2 392.6v7M192.7 393.6l5.0 5.0M192.7 398.6l5.0 -5.0M191.4 397.0h7M194.9 393.5v7M192.4 394.5l5.0 5.0M192.4 399.5l5.0 -5.0M191.6 399.3h7M195.1 395.8v7M192.5 396.7l5.0 5.0M192.5 401.8l5.0 -5.0M193.6 392.3h7M197.1 388.8v7M194.6 389.8l5.0 5.0M194.6 394.8l5.0 -5.0M194.6 392.1h7M198.1 388.6v7M195.6 389.6l5.0 5.0M195.6 394.6l5.0 -5.0M192.8 394.0h7M196.3 390.5v7M193.8 391.5l5.0 5.0M193.8 396.5l5.0 -5.0M185.9 395.9h7M189.4 392.4v7M186.9 393.4l5.0 5.0M186.9 398.5l5.0 -5.0M196.2 392.0h7M199.7 388.5v7M197.2 389.5l5.0 5.0M197.2 394.5l5.0 -5.0M184.6 397.6h7M188.1 394.1v7M185.6 395.1l5.0 5.0M185.6 400.1l5.0 -5.0M190.4 398.6h7M193.9 395.1v7M191.4 396.1l5.0 5.0M191.4 401.2l5.0 -5.0M185.2 398.1h7M188.7 394.6v7M186.2 395.6l5.0 5.0M186.2 400.6l5.0 -5.0M190.3 397.6h7M193.8 394.1v7M191.3 395.1l5.0 5.0M191.3 400.1l5.0 -5.0M189.4 396.6h7M192.9 393.1v7M190.4 394.1l5.0 5.0M190.4 399.1l5.0 -5.0M187.1 392.3h7M190.6 388.8v7M188.1 389.8l5.0 5.0M188.1 394.8l5.0 -5.0M189.9 387.0h7M193.4 383.5v7M190.8 384.5l5.0 5.0M190.8 389.5l5.0 -5.0M184.4 391.9h7M187.9 388.4v7M185.4 389.4l5.0 5.0M185.4 394.4l5.0 -5.0M192.2 389.8h7M195.7 386.3v7M193.1 387.2l5.0 5.0M193.1 392.3l5.0 -5.0M192.1 392.8h7M195.6 389.3v7M193.0 390.2l5.0 5.0M193.0 395.3l5.0 -5.0M194.3 397.0h7M197.8 393.5v7M195.3 394.5l5.0 5.0M195.3 399.5l5.0 -5.0" stroke="#ff0000" stroke-width="1.25" fill="none"/>
<path d="M194.0 381.0h7M197.5 377.5v7M195.0 378.5l5.0 5.0M195.0 383.5l5.0 -5.0M190.5 374.0h7M194.0 370.5v7M191.5 371.5l5.0 5.0M191.5 376.5l5.0 -5.0M182.5 367.5h7M186.0 364.0v7M183.5 365.0l5.0 5.0M183.5 370.0l5.0 -5.0" stroke="#ff0000" stroke-width="1.25" fill="none"/>
<path d="M201.5 383.0h7M205.0 379.5v7M206.0 385.0h7M209.5 381.5v7M208.0 390.0h7M211.5 386.5v7M199.5 387.0h7M203.0 383.5v7" stroke="#ffff00" stroke-width="1.25" fill="none"/>
<path d="M151.6 413.1h7M155.1 409.6v7M152.6 410.5l5.0 5.0M152.6 415.6l5.0 -5.0M148.3 404.7h7M151.8 401.2v7M149.3 402.2l5.0 5.0M149.3 407.3l5.0 -5.0M145.4 410.1h7M148.9 406.6v7M146.3 407.5l5.0 5.0M146.3 412.6l5.0 -5.0M142.6 409.6h7M146.1 406.1v7M143.6 407.0l5.0 5.0M143.6 412.1l5.0 -5.0M152.7 407.0h7M156.2 403.5v7M153.7 404.5l5.0 5.0M153.7 409.5l5.0 -5.0M140.3 409.0h7M143.8 405.5v7M141.3 406.5l5.0 5.0M141.3 411.5l5.0 -5.0M153.1 412.9h7M156.6 409.4v7M154.1 410.3l5.0 5.0M154.1 415.4l5.0 -5.0M138.9 412.6h7M142.4 409.1v7M139.9 410.0l5.0 5.0M139.9 415.1l5.0 -5.0M141.3 411.7h7M144.8 408.2v7M142.3 409.2l5.0 5.0M142.3 414.2l5.0 -5.0M144.9 417.1h7M148.4 413.6v7M145.8 414.6l5.0 5.0M145.8 419.6l5.0 -5.0M146.4 404.4h7M149.9 400.9v7M147.4 401.9l5.0 5.0M147.4 407.0l5.0 -5.0M144.9 417.6h7M148.4 414.1v7M145.9 415.1l5.0 5.0M145.9 420.1l5.0 -5.0M150.9 416.0h7M154.4 412.5v7M151.9 413.5l5.0 5.0M151.9 418.5l5.0 -5.0M149.7 417.7h7M153.2 414.2v7M150.7 415.2l5.0 5.0M150.7 420.2l5.0 -5.0M152.5 409.1h7M156.0 405.6v7M153.4 406.6l5.0 5.0M153.4 411.6l5.0 -5.0M144.5 414.1h7M148.0 410.6v7M145.5 411.6l5.0 5.0M145.5 416.7l5.0 -5.0M140.4 408.5h7M143.9 405.0v7M141.4 406.0l5.0 5.0M141.4 411.1l5.0 -5.0M144.4 406.7h7M147.9 403.2v7M145.4 404.2l5.0 5.0M145.4 409.2l5.0 -5.0M141.5 414.7h7M145.0 411.2v7M142.4 412.2l5.0 5.0M142.4 417.3l5.0 -5.0M143.5 404.0h7M147.0 400.5v7M144.4 401.5l5.0 5.0M144.4 406.5l5.0 -5.0M142.1 415.3h7M145.6 411.8v7M143.1 412.8l5.0 5.0M143.1 417.8l5.0 -5.0M141.1 414.6h7M144.6 411.1v7M142.1 412.0l5.0 5.0M142.1 417.1l5.0 -5.0" stroke="#ff0000" stroke-width="1.25" fill="none"/>
<path d="M168.1 421.4h7M171.6 417.9v7M169.1 418.9l5.0 5.0M169.1 424.0l5.0 -5.0M171.0 420.1h7M174.5 416.6v7M172.0 417.6l5.0 5.0M172.0 422.6l5.0 -5.0M177.0 416.7h7M180.5 413.2v7M178.0 414.1l5.0 5.0M178.0 419.2l5.0 -5.0M158.8 408.3h7M162.3 404.8v7M159.8 405.7l5.0 5.0M159.8 410.8l5.0 -5.0M176.5 421.4h7M180.0 417.9v7M177.5 418.9l5.0 5.0M177.5 423.9l5.0 -5.0M170.6 424.0h7M174.1 420.5v7M171.6 421.5l5.0 5.0M171.6 426.6l5.0 -5.0M175.2 413.1h7M178.7 409.6v7M176.1 410.5l5.0 5.0M176.1 415.6l5.0 -5.0M157.7 413.5h7M161.2 410.0v7M158.7 411.0l5.0 5.0M158.7 416.1l5.0 -5.0M165.0 423.2h7M168.5 419.7v7M166.0 420.7l5.0 5.0M166.0 425.7l5.0 -5.0M174.2 413.8h7M177.7 410.3v7M175.2 411.3l5.0 5.0M175.2 416.3l5.0 -5.0M161.4 424.2h7M164.9 420.7v7M162.4 421.7l5.0 5.0M162.4 426.7l5.0 -5.0M153.0 414.7h7M156.5 411.2v7M154.0 412.2l5.0 5.0M154.0 417.2l5.0 -5.0M177.2 419.0h7M180.7 415.5v7M178.2 416.5l5.0 5.0M178.2 421.5l5.0 -5.0M177.4 410.4h7M180.9 406.9v7M178.4 407.9l5.0 5.0M178.4 413.0l5.0 -5.0M168.2 424.6h7M171.7 421.1v7M169.2 422.1l5.0 5.0M169.2 427.1l5.0 -5.0M156.2 413.6h7M159.7 410.1v7M157.2 411.1l5.0 5.0M157.2 416.1l5.0 -5.0M174.2 420.0h7M177.7 416.5v7M175.1 417.5l5.0 5.0M175.1 422.5l5.0 -5.0M174.4 407.6h7M177.9 404.1v7M175.3 405.1l5.0 5.0M175.3 410.2l5.0 -5.0M165.9 405.6h7M169.4 402.1v7M166.9 403.1l5.0 5.0M166.9 408.1l5.0 -5.0M174.5 416.7h7M178.0 413.2v7M175.4 414.2l5.0 5.0M175.4 419.2l5.0 -5.0M173.3 406.6h7M176.8 403.1v7M174.3 404.1l5.0 5.0M174.3 409.1l5.0 -5.0M165.9 421.2h7M169.4 417.7v7M166.9 418.6l5.0 5.0M166.9 423.7l5.0 -5.0M172.9 408.5h7M176.4 405.0v7M173.9 405.9l5.0 5.0M173.9 411.0l5.0 -5.0M161.7 414.1h7M165.2 410.6v7M162.7 411.6l5.0 5.0M162.7 416.6l5.0 -5.0M165.4 424.8h7M168.9 421.3v7M166.3 422.3l5.0 5.0M166.3 427.3l5.0 -5.0" stroke="#ff0000" stroke-width="1.25" fill="none"/>
<path d="M146.2 385.5h7M149.7 382.0v7M147.1 383.0l5.0 5.0M147.1 388.0l5.0 -5.0M149.6 392.5h7M153.1 389.0v7M150.6 390.0l5.0 5.0M150.6 395.0l5.0 -5.0M144.0 397.0h7M147.5 393.5v7M145.0 394.5l5.0 5.0M145.0 399.5l5.0 -5.0M143.7 390.5h7M147.2 387.0v7M144.7 387.9l5.0 5.0M144.7 393.0l5.0 -5.0M147.8 389.6h7M151.3 386.1v7M148.8 387.1l5.0 5.0M148.8 392.2l5.0 -5.0M144.4 390.2h7M147.9 386.7v7M145.4 387.6l5.0 5.0M145.4 392.7l5.0 -5.0M146.9 384.3h7M150.4 380.8v7M147.9 381.8l5.0 5.0M147.9 386.8l5.0 -5.0M144.0 393.4h7M147.5 389.9v7M145.0 390.9l5.0 5.0M145.0 396.0l5.0 -5.0M147.1 399.2h7M150.6 395.7v7M148.1 396.7l5.0 5.0M148.1 401.8l5.0 -5.0M142.7 400.3h7M146.2 396.8v7M143.7 397.8l5.0 5.0M143.7 402.8l5.0 -5.0" stroke="#ff0000" stroke-width="1.25" fill="none"/>
<path d="M192.5 400.4h7M196.0 396.9v7M193.4 397.9l5.0 5.0M193.4 402.9l5.0 -5.0M193.5 400.0h7M197.0 396.5v7M194.5 397.5l5.0 5.0M194.5 402.6l5.0 -5.0M194.4 400.1h7M197.9 396.6v7M195.4 397.6l5.0 5.0M195.4 402.7l5.0 -5.0M195.8 400.5h7M199.3 397.0v7M196.7 398.0l5.0 5.0M196.7 403.0l5.0 -5.0M196.5 398.7h7M200.0 395.2v7M197.5 396.1l5.0 5.0M197.5 401.2l5.0 -5.0M197.8 399.2h7M201.3 395.7v7M198.8 396.7l5.0 5.0M198.8 401.7l5.0 -5.0M199.1 400.1h7M202.6 396.6v7M200.0 397.6l5.0 5.0M200.0 402.6l5.0 -5.0M200.1 400.2h7M203.6 396.7v7M201.1 397.6l5.0 5.0M201.1 402.7l5.0 -5.0M201.5 398.9h7M205.0 395.4v7M202.5 396.4l5.0 5.0M202.5 401.4l5.0 -5.0M202.7 399.8h7M206.2 396.3v7M203.7 397.3l5.0 5.0M203.7 402.3l5.0 -5.0M203.1 398.3h7M206.6 394.8v7M204.1 395.8l5.0 5.0M204.1 400.8l5.0 -5.0M204.5 399.3h7M208.0 395.8v7M205.5 396.8l5.0 5.0M205.5 401.8l5.0 -5.0M205.3 398.1h7M208.8 394.6v7M206.3 395.5l5.0 5.0M206.3 400.6l5.0 -5.0M206.6 398.4h7M210.1 394.9v7M207.6 395.9l5.0 5.0M207.6 400.9l5.0 -5.0M208.2 399.0h7M211.7 395.5v7M209.2 396.4l5.0 5.0M209.2 401.5l5.0 -5.0M209.1 397.9h7M212.6 394.4v7M210.1 395.4l5.0 5.0M210.1 400.4l5.0 -5.0M210.3 398.7h7M213.8 395.2v7M211.3 396.1l5.0 5.0M211.3 401.2l5.0 -5.0M211.5 399.4h7M215.0 395.9v7M212.5 396.8l5.0 5.0M212.5 401.9l5.0 -5.0M212.3 397.6h7M215.8 394.1v7M213.3 395.0l5.0 5.0M213.3 400.1l5.0 -5.0M213.3 398.8h7M216.8 395.3v7M214.3 396.3l5.0 5.0M214.3 401.3l5.0 -5.0M214.5 397.2h7M218.0 393.7v7M215.5 394.7l5.0 5.0M215.5 399.7l5.0 -5.0M215.7 398.3h7M219.2 394.8v7M216.7 395.8l5.0 5.0M216.7 400.8l5.0 -5.0M216.8 398.5h7M220.3 395.0v7M217.8 396.0l5.0 5.0M217.8 401.0l5.0 -5.0M217.9 397.0h7M221.4 393.5v7M218.9 394.4l5.0 5.0M218.9 399.5l5.0 -5.0M218.8 398.7h7M222.3 395.2v7M219.8 396.2l5.0 5.0M219.8 401.3l5.0 -5.0M220.3 398.2h7M223.8 394.7v7M221.2 395.7l5.0 5.0M221.2 400.7l5.0 -5.0M220.9 397.4h7M224.4 393.9v7M221.8 394.9l5.0 5.0M221.8 399.9l5.0 -5.0M222.3 397.5h7M225.8 394.0v7M223.3 395.0l5.0 5.0M223.3 400.1l5.0 -5.0M223.3 397.0h7M226.8 393.5v7M224.3 394.5l5.0 5.0M224.3 399.5l5.0 -5.0M224.3 398.0h7M227.8 394.5v7M225.3 395.4l5.0 5.0M225.3 400.5l5.0 -5.0M225.2 397.7h7M228.7 394.2v7M226.2 395.2l5.0 5.0M226.2 400.3l5.0 -5.0M226.7 396.9h7M230.2 393.4v7M227.7 394.4l5.0 5.0M227.7 399.4l5.0 -5.0M227.4 396.4h7M230.9 392.9v7M228.3 393.9l5.0 5.0M228.3 398.9l5.0 -5.0M228.5 396.0h7M232.0 392.5v7M229.4 393.5l5.0 5.0M229.4 398.5l5.0 -5.0M229.6 396.1h7M233.1 392.6v7M230.6 393.5l5.0 5.0M230.6 398.6l5.0 -5.0M230.8 395.6h7M234.3 392.1v7M231.8 393.1l5.0 5.0M231.8 398.1l5.0 -5.0" stroke="#ff0000" stroke-width="1.25" fill="none"/>
<path d="M191.5 404.4h7M195.0 400.9v7M192.5 401.9l5.0 5.0M192.5 406.9l5.0 -5.0M192.8 405.4h7M196.3 401.9v7M193.8 402.8l5.0 5.0M193.8 407.9l5.0 -5.0M193.5 405.2h7M197.0 401.7v7M194.5 402.7l5.0 5.0M194.5 407.7l5.0 -5.0M194.5 406.6h7M198.0 403.1v7M195.5 404.1l5.0 5.0M195.5 409.1l5.0 -5.0M196.2 405.8h7M199.7 402.3v7M197.2 403.2l5.0 5.0M197.2 408.3l5.0 -5.0M197.0 406.2h7M200.5 402.7v7M198.0 403.7l5.0 5.0M198.0 408.7l5.0 -5.0M198.1 406.7h7M201.6 403.2v7M199.1 404.1l5.0 5.0M199.1 409.2l5.0 -5.0M199.0 407.2h7M202.5 403.7v7M199.9 404.7l5.0 5.0M199.9 409.7l5.0 -5.0M199.8 408.4h7M203.3 404.9v7M200.8 405.9l5.0 5.0M200.8 410.9l5.0 -5.0M200.8 407.6h7M204.3 404.1v7M201.8 405.1l5.0 5.0M201.8 410.2l5.0 -5.0M202.0 408.3h7M205.5 404.8v7M203.0 405.8l5.0 5.0M203.0 410.8l5.0 -5.0M202.8 408.6h7M206.3 405.1v7M203.8 406.1l5.0 5.0M203.8 411.1l5.0 -5.0M203.9 407.4h7M207.4 403.9v7M204.9 404.9l5.0 5.0M204.9 409.9l5.0 -5.0M205.0 409.0h7M208.5 405.5v7M206.0 406.5l5.0 5.0M206.0 411.5l5.0 -5.0M206.3 409.0h7M209.8 405.5v7M207.3 406.5l5.0 5.0M207.3 411.5l5.0 -5.0M207.5 409.5h7M211.0 406.0v7M208.5 407.0l5.0 5.0M208.5 412.0l5.0 -5.0M208.3 409.3h7M211.8 405.8v7M209.2 406.8l5.0 5.0M209.2 411.9l5.0 -5.0M209.5 409.5h7M213.0 406.0v7M210.5 407.0l5.0 5.0M210.5 412.1l5.0 -5.0M211.1 408.0h7M214.6 404.5v7M212.1 405.4l5.0 5.0M212.1 410.5l5.0 -5.0M212.0 408.4h7M215.5 404.9v7M213.0 405.9l5.0 5.0M213.0 410.9l5.0 -5.0M212.7 407.9h7M216.2 404.4v7M213.7 405.4l5.0 5.0M213.7 410.4l5.0 -5.0M214.0 408.5h7M217.5 405.0v7M214.9 406.0l5.0 5.0M214.9 411.0l5.0 -5.0M215.1 408.9h7M218.6 405.4v7M216.1 406.4l5.0 5.0M216.1 411.4l5.0 -5.0M216.1 408.8h7M219.6 405.3v7M217.1 406.2l5.0 5.0M217.1 411.3l5.0 -5.0M217.3 408.5h7M220.8 405.0v7M218.3 406.0l5.0 5.0M218.3 411.1l5.0 -5.0M218.6 407.5h7M222.1 404.0v7M219.6 405.0l5.0 5.0M219.6 410.1l5.0 -5.0M219.6 407.2h7M223.1 403.7v7M220.6 404.7l5.0 5.0M220.6 409.8l5.0 -5.0M220.4 405.8h7M223.9 402.3v7M221.4 403.3l5.0 5.0M221.4 408.3l5.0 -5.0M221.2 405.4h7M224.7 401.9v7M222.2 402.9l5.0 5.0M222.2 407.9l5.0 -5.0M222.9 406.5h7M226.4 403.0v7M223.9 404.0l5.0 5.0M223.9 409.0l5.0 -5.0M223.6 405.7h7M227.1 402.2v7M224.6 403.2l5.0 5.0M224.6 408.2l5.0 -5.0M224.6 405.6h7M228.1 402.1v7M225.6 403.1l5.0 5.0M225.6 408.1l5.0 -5.0M225.7 404.6h7M229.2 401.1v7M226.7 402.0l5.0 5.0M226.7 407.1l5.0 -5.0M225.5 402.9h7M229.0 399.4v7M226.5 400.4l5.0 5.0M226.5 405.4l5.0 -5.0M226.5 402.7h7M230.0 399.2v7M227.5 400.2l5.0 5.0M227.5 405.2l5.0 -5.0M228.3 402.4h7M231.8 398.9v7M229.3 399.9l5.0 5.0M229.3 405.0l5.0 -5.0M228.7 401.9h7M232.2 398.4v7M229.6 399.4l5.0 5.0M229.6 404.4l5.0 -5.0M229.8 400.6h7M233.3 397.1v7M230.8 398.1l5.0 5.0M230.8 403.1l5.0 -5.0M230.4 399.6h7M233.9 396.1v7M231.4 397.1l5.0 5.0M231.4 402.1l5.0 -5.0M231.3 399.1h7M234.8 395.6v7M232.3 396.5l5.0 5.0M232.3 401.6l5.0 -5.0M231.4 398.1h7M234.9 394.6v7M232.4 395.6l5.0 5.0M232.4 400.6l5.0 -5.0" stroke="#ff0000" stroke-width="1.25" fill="none"/>
<path d="M108.5 328.2h7M112.0 324.8v7M122.2 328.9h7M125.8 325.4v7M131.0 329.5h7M134.5 326.0v7M134.8 331.4h7M138.2 327.9v7M132.2 335.8h7M135.8 332.2v7M127.2 343.2h7M130.8 339.8v7M137.9 352.0h7M141.4 348.5v7M76.6 342.0h7M80.1 338.5v7M79.8 345.1h7M83.2 341.6v7M84.1 348.9h7M87.6 345.4v7M89.8 352.0h7M93.2 348.5v7M95.4 355.1h7M98.9 351.6v7M99.8 350.1h7M103.2 346.6v7M104.8 352.6h7M108.2 349.1v7M116.0 357.6h7M119.5 354.1v7M120.4 352.0h7M123.9 348.5v7M116.0 365.1h7M119.5 361.6v7M127.2 373.9h7M130.8 370.4v7M134.8 376.4h7M138.2 372.9v7M143.5 379.5h7M147.0 376.0v7" stroke="#000000" stroke-width="1.25" fill="none"/>
<path d="M114.8 328.9h7M118.2 325.4v7M118.5 328.9h7M122.0 325.4v7M95.4 337.6h7M98.9 334.1v7M99.8 339.5h7M103.2 336.0v7M95.4 351.4h7M98.9 347.9v7M95.4 358.9h7M98.9 355.4v7M98.5 370.1h7M102.0 366.6v7M101.6 372.6h7M105.1 369.1v7M104.1 375.1h7M107.6 371.6v7M116.0 378.9h7M119.5 375.4v7M123.5 380.1h7M127.0 376.6v7M131.0 347.0h7M134.5 343.5v7" stroke="#0000ff" stroke-width="1.25" fill="none"/>
<path d="M132.5 329.0h7M136.0 325.5v7M134.5 331.0h7M138.0 327.5v7M133.5 334.0h7M137.0 330.5v7" stroke="#000000" stroke-width="1.25" fill="none"/>
<path d="M76.5 342.0h7M80.0 338.5v7M79.6 343.9h7M83.1 340.4v7M82.7 345.7h7M86.2 342.2v7M85.8 347.6h7M89.3 344.1v7M88.9 349.2h7M92.4 345.7v7M92.2 350.8h7M95.7 347.3v7M95.4 352.4h7M98.9 348.9v7M98.7 353.8h7M102.2 350.3v7M102.1 355.2h7M105.6 351.7v7M105.4 356.5h7M108.9 353.0v7" stroke="#000000" stroke-width="1.25" fill="none"/>
<path d="M157.5 362.0h7M161.0 358.5v7M161.0 365.5h7M164.5 362.0v7M164.8 368.8h7M168.3 365.3v7M168.6 372.1h7M172.1 368.6v7M172.1 375.6h7M175.6 372.1v7" stroke="#000000" stroke-width="1.25" fill="none"/>
<path d="M126.5 374.0h7M130.0 370.5v7M134.5 377.0h7M138.0 373.5v7M142.5 380.0h7M146.0 376.5v7M148.5 383.0h7M152.0 379.5v7M152.5 384.0h7M156.0 380.5v7M157.5 387.0h7M161.0 383.5v7M162.5 389.0h7M166.0 385.5v7" stroke="#000000" stroke-width="1.25" fill="none"/>
<path d="M186.3 404.9h7M189.8 401.4v7M188.3 404.1h7M191.8 400.6v7M189.9 404.2h7M193.4 400.7v7M192.2 404.0h7M195.7 400.5v7M193.9 404.1h7M197.4 400.6v7M196.9 404.9h7M200.4 401.4v7M198.8 404.2h7M202.3 400.7v7M199.9 405.1h7M203.4 401.6v7M202.6 404.6h7M206.1 401.1v7M205.0 404.0h7M208.5 400.5v7M206.5 405.0h7M210.0 401.5v7M208.9 404.6h7M212.4 401.1v7M211.0 403.8h7M214.5 400.3v7M212.3 404.5h7M215.8 401.0v7" stroke="#000000" stroke-width="1.25" fill="none"/>
<path d="M190.7 412.7h7M194.2 409.2v7M193.0 418.4h7M196.5 414.9v7M188.2 407.9h7M191.7 404.4v7M196.6 419.1h7M200.1 415.6v7M196.5 409.8h7M200.0 406.3v7M199.4 411.4h7M202.9 407.9v7M195.9 411.3h7M199.4 407.8v7M201.7 413.8h7M205.2 410.3v7M188.2 414.3h7M191.7 410.8v7M192.9 406.7h7M196.4 403.2v7M194.4 408.3h7M197.9 404.8v7M195.2 404.1h7M198.7 400.6v7" stroke="#000000" stroke-width="1.25" fill="none"/>
<path d="M186.9 413.5h7M190.4 410.0v7M188.9 415.0h7M192.4 411.5v7M191.0 416.1h7M194.5 412.6v7M194.0 416.3h7M197.5 412.8v7M194.6 417.8h7M198.1 414.3v7M196.7 419.3h7M200.2 415.8v7M200.1 419.5h7M203.6 416.0v7M200.9 421.6h7M204.4 418.1v7M204.3 421.2h7M207.8 417.7v7M205.9 423.3h7M209.4 419.8v7" stroke="#000000" stroke-width="1.25" fill="none"/>
<path d="M206.3 423.7h7M209.8 420.2v7M208.0 422.5h7M211.5 419.0v7M207.5 424.9h7M211.0 421.4v7M207.8 425.7h7M211.3 422.2v7M209.9 424.6h7M213.4 421.1v7M209.6 426.6h7M213.1 423.1v7M210.6 426.2h7M214.1 422.7v7M211.1 427.2h7M214.6 423.7v7M212.9 426.0h7M216.4 422.5v7M213.2 427.5h7M216.7 424.0v7M213.5 428.6h7M217.0 425.1v7M214.4 429.1h7M217.9 425.6v7M215.8 429.0h7M219.3 425.5v7M215.5 430.7h7M219.0 427.2v7M216.3 431.0h7M219.8 427.5v7M216.5 432.2h7M220.0 428.7v7M218.4 431.5h7M221.9 428.0v7M219.0 431.8h7M222.5 428.3v7M217.9 433.2h7M221.4 429.7v7M219.4 434.6h7M222.9 431.1v7M218.0 434.4h7M221.5 430.9v7M218.2 435.7h7M221.7 432.2v7M217.8 436.8h7M221.3 433.3v7M217.7 437.4h7M221.2 433.9v7M215.5 437.7h7M219.0 434.2v7M216.3 439.1h7M219.8 435.6v7M215.6 439.8h7M219.1 436.3v7M216.4 440.6h7M219.9 437.1v7M216.2 441.6h7M219.7 438.1v7M215.4 442.2h7M218.9 438.7v7M215.1 443.5h7M218.6 440.0v7M214.5 443.9h7M218.0 440.4v7M215.4 445.0h7M218.9 441.5v7M217.0 445.4h7M220.5 441.9v7M215.4 447.0h7M218.9 443.5v7M216.6 447.5h7M220.1 444.0v7M217.3 448.0h7M220.8 444.5v7M217.4 448.9h7M220.9 445.4v7" stroke="#000000" stroke-width="1.25" fill="none"/>
<path d="M217.3 448.7h7M220.8 445.2v7M218.0 450.0h7M221.5 446.5v7M219.8 449.0h7M223.3 445.5v7M219.7 451.8h7M223.2 448.3v7M221.1 451.6h7M224.6 448.1v7M221.9 452.2h7M225.4 448.7v7M223.8 451.1h7M227.3 447.6v7M223.8 453.5h7M227.3 450.0v7M225.7 451.0h7M229.2 447.5v7M225.9 454.4h7M229.4 450.9v7M227.8 452.0h7M231.3 448.5v7M228.6 453.6h7M232.1 450.1v7M229.8 453.0h7M233.3 449.5v7M230.3 456.5h7M233.8 453.0v7M232.1 453.0h7M235.6 449.5v7M233.5 453.0h7M237.0 449.5v7M234.5 453.8h7M238.0 450.3v7M235.1 453.8h7M238.6 450.3v7M236.1 454.6h7M239.6 451.1v7M237.2 454.9h7M240.7 451.4v7M238.0 455.5h7M241.5 452.0v7M239.2 456.9h7M242.7 453.4v7M240.4 455.1h7M243.9 451.6v7M241.7 454.4h7M245.2 450.9v7M242.5 457.1h7M246.0 453.6v7" stroke="#000000" stroke-width="1.25" fill="none"/>
<path d="M77.4 327.3h7M80.9 323.8v7M78.4 324.8l5.0 5.0M78.4 329.8l5.0 -5.0M76.3 328.7h7M79.8 325.2v7M77.2 326.2l5.0 5.0M77.2 331.2l5.0 -5.0M79.2 330.3h7M82.7 326.8v7M80.1 327.8l5.0 5.0M80.1 332.8l5.0 -5.0M76.9 328.2h7M80.4 324.7v7M77.9 325.7l5.0 5.0M77.9 330.7l5.0 -5.0M83.9 329.9h7M87.4 326.4v7M84.8 327.4l5.0 5.0M84.8 332.4l5.0 -5.0M77.6 328.6h7M81.1 325.1v7M78.6 326.1l5.0 5.0M78.6 331.1l5.0 -5.0M82.1 326.6h7M85.6 323.1v7M83.1 324.1l5.0 5.0M83.1 329.1l5.0 -5.0M83.8 329.4h7M87.3 325.9v7M84.7 326.9l5.0 5.0M84.7 331.9l5.0 -5.0" stroke="#00ff00" stroke-width="1.25" fill="none"/>
<path d="M85.5 331.5h7M89.0 328.0v7M86.5 329.0l5.0 5.0M86.5 334.0l5.0 -5.0M89.5 333.5h7M93.0 330.0v7M90.5 331.0l5.0 5.0M90.5 336.0l5.0 -5.0" stroke="#00ff00" stroke-width="1.25" fill="none"/>
<path d="M82.2 338.2h7M85.8 334.8v7M83.2 335.7l5.0 5.0M83.2 340.8l5.0 -5.0M91.0 345.8h7M94.5 342.2v7M92.0 343.2l5.0 5.0M92.0 348.3l5.0 -5.0M101.0 355.8h7M104.5 352.2v7M102.0 353.2l5.0 5.0M102.0 358.3l5.0 -5.0M111.0 364.5h7M114.5 361.0v7M112.0 362.0l5.0 5.0M112.0 367.0l5.0 -5.0M123.5 372.6h7M127.0 369.1v7M124.5 370.1l5.0 5.0M124.5 375.1l5.0 -5.0M133.5 380.1h7M137.0 376.6v7M134.5 377.6l5.0 5.0M134.5 382.6l5.0 -5.0M141.0 383.2h7M144.5 379.8v7M142.0 380.7l5.0 5.0M142.0 385.8l5.0 -5.0M106.0 359.5h7M109.5 356.0v7M107.0 357.0l5.0 5.0M107.0 362.0l5.0 -5.0M87.2 342.0h7M90.8 338.5v7M88.2 339.5l5.0 5.0M88.2 344.5l5.0 -5.0" stroke="#00ff00" stroke-width="1.25" fill="none"/>
<path d="M142.4 351.7h7M145.9 348.2v7M143.3 349.2l5.0 5.0M143.3 354.2l5.0 -5.0M144.8 351.5h7M148.3 348.0v7M145.8 348.9l5.0 5.0M145.8 354.0l5.0 -5.0M146.2 351.8h7M149.7 348.3v7M147.2 349.3l5.0 5.0M147.2 354.4l5.0 -5.0M147.9 353.1h7M151.4 349.6v7M148.9 350.6l5.0 5.0M148.9 355.6l5.0 -5.0M149.3 353.4h7M152.8 349.9v7M150.3 350.9l5.0 5.0M150.3 356.0l5.0 -5.0M151.0 353.6h7M154.5 350.1v7M152.0 351.0l5.0 5.0M152.0 356.1l5.0 -5.0M153.2 354.4h7M156.7 350.9v7M154.2 351.9l5.0 5.0M154.2 357.0l5.0 -5.0M155.0 354.6h7M158.5 351.1v7M156.0 352.1l5.0 5.0M156.0 357.1l5.0 -5.0M155.8 355.4h7M159.3 351.9v7M156.8 352.9l5.0 5.0M156.8 357.9l5.0 -5.0M158.0 355.2h7M161.5 351.7v7M159.0 352.7l5.0 5.0M159.0 357.7l5.0 -5.0" stroke="#00ff00" stroke-width="1.25" fill="none"/>
<path d="M150.0 365.0h7M153.5 361.5v7M151.0 362.4l5.0 5.0M151.0 367.5l5.0 -5.0M146.4 358.1h7M149.9 354.6v7M147.3 355.6l5.0 5.0M147.3 360.6l5.0 -5.0M154.6 362.1h7M158.1 358.6v7M155.6 359.6l5.0 5.0M155.6 364.7l5.0 -5.0M145.4 361.9h7M148.9 358.4v7M146.3 359.4l5.0 5.0M146.3 364.4l5.0 -5.0M153.2 359.4h7M156.7 355.9v7M154.2 356.9l5.0 5.0M154.2 361.9l5.0 -5.0M149.2 361.1h7M152.7 357.6v7M150.2 358.6l5.0 5.0M150.2 363.6l5.0 -5.0M151.0 363.7h7M154.5 360.2v7M151.9 361.2l5.0 5.0M151.9 366.2l5.0 -5.0M149.3 358.1h7M152.8 354.6v7M150.3 355.6l5.0 5.0M150.3 360.6l5.0 -5.0M147.1 364.3h7M150.6 360.8v7M148.1 361.8l5.0 5.0M148.1 366.8l5.0 -5.0M144.9 357.6h7M148.4 354.1v7M145.9 355.1l5.0 5.0M145.9 360.2l5.0 -5.0M148.3 365.3h7M151.8 361.8v7M149.3 362.8l5.0 5.0M149.3 367.9l5.0 -5.0M149.6 365.9h7M153.1 362.4v7M150.6 363.4l5.0 5.0M150.6 368.5l5.0 -5.0M152.1 362.1h7M155.6 358.6v7M153.1 359.6l5.0 5.0M153.1 364.6l5.0 -5.0M147.4 362.8h7M150.9 359.3v7M148.4 360.3l5.0 5.0M148.4 365.3l5.0 -5.0" stroke="#00ff00" stroke-width="1.25" fill="none"/>
<path d="M179.5 410.8h7M183.0 407.3v7M180.4 408.3l5.0 5.0M180.4 413.3l5.0 -5.0M165.8 400.6h7M169.3 397.1v7M166.8 398.0l5.0 5.0M166.8 403.1l5.0 -5.0M168.5 401.7h7M172.0 398.2v7M169.5 399.2l5.0 5.0M169.5 404.3l5.0 -5.0M170.4 411.5h7M173.9 408.0v7M171.4 409.0l5.0 5.0M171.4 414.1l5.0 -5.0M184.7 401.7h7M188.2 398.2v7M185.7 399.2l5.0 5.0M185.7 404.2l5.0 -5.0M166.5 415.4h7M170.0 411.9v7M167.5 412.9l5.0 5.0M167.5 417.9l5.0 -5.0M156.6 410.3h7M160.1 406.8v7M157.6 407.8l5.0 5.0M157.6 412.8l5.0 -5.0M181.8 406.5h7M185.3 403.0v7M182.7 404.0l5.0 5.0M182.7 409.0l5.0 -5.0M182.0 397.6h7M185.5 394.1v7M183.0 395.1l5.0 5.0M183.0 400.1l5.0 -5.0M176.6 411.3h7M180.1 407.8v7M177.6 408.8l5.0 5.0M177.6 413.9l5.0 -5.0M178.8 411.5h7M182.3 408.0v7M179.8 409.0l5.0 5.0M179.8 414.0l5.0 -5.0M171.2 416.4h7M174.7 412.9v7M172.2 413.8l5.0 5.0M172.2 418.9l5.0 -5.0M177.1 398.6h7M180.6 395.1v7M178.1 396.1l5.0 5.0M178.1 401.1l5.0 -5.0M156.3 409.7h7M159.8 406.2v7M157.3 407.2l5.0 5.0M157.3 412.2l5.0 -5.0M172.4 412.1h7M175.9 408.6v7M173.4 409.6l5.0 5.0M173.4 414.6l5.0 -5.0M173.1 404.5h7M176.6 401.0v7M174.1 402.0l5.0 5.0M174.1 407.0l5.0 -5.0M159.4 397.2h7M162.9 393.7v7M160.4 394.7l5.0 5.0M160.4 399.7l5.0 -5.0M162.7 412.7h7M166.2 409.2v7M163.7 410.2l5.0 5.0M163.7 415.2l5.0 -5.0M167.2 416.7h7M170.7 413.2v7M168.2 414.2l5.0 5.0M168.2 419.2l5.0 -5.0M164.2 417.6h7M167.7 414.1v7M165.2 415.0l5.0 5.0M165.2 420.1l5.0 -5.0M179.5 400.5h7M183.0 397.0v7M180.4 398.0l5.0 5.0M180.4 403.0l5.0 -5.0M168.7 403.4h7M172.2 399.9v7M169.7 400.9l5.0 5.0M169.7 405.9l5.0 -5.0M166.8 421.6h7M170.3 418.1v7M167.8 419.1l5.0 5.0M167.8 424.2l5.0 -5.0M164.7 421.4h7M168.2 417.9v7M165.6 418.9l5.0 5.0M165.6 423.9l5.0 -5.0M177.4 399.8h7M180.9 396.3v7M178.4 397.3l5.0 5.0M178.4 402.3l5.0 -5.0M167.9 404.8h7M171.4 401.3v7M168.8 402.3l5.0 5.0M168.8 407.3l5.0 -5.0M168.7 420.9h7M172.2 417.4v7M169.7 418.3l5.0 5.0M169.7 423.4l5.0 -5.0M174.4 406.9h7M177.9 403.4v7M175.3 404.4l5.0 5.0M175.3 409.4l5.0 -5.0M172.7 402.1h7M176.2 398.6v7M173.6 399.6l5.0 5.0M173.6 404.6l5.0 -5.0M158.2 403.6h7M161.7 400.1v7M159.1 401.0l5.0 5.0M159.1 406.1l5.0 -5.0M179.8 416.1h7M183.3 412.6v7M180.8 413.6l5.0 5.0M180.8 418.7l5.0 -5.0M155.1 411.3h7M158.6 407.8v7M156.0 408.7l5.0 5.0M156.0 413.8l5.0 -5.0M178.5 411.1h7M182.0 407.6v7M179.5 408.5l5.0 5.0M179.5 413.6l5.0 -5.0M184.6 401.0h7M188.1 397.5v7M185.6 398.5l5.0 5.0M185.6 403.5l5.0 -5.0M159.3 403.9h7M162.8 400.4v7M160.3 401.4l5.0 5.0M160.3 406.5l5.0 -5.0M168.2 412.0h7M171.7 408.5v7M169.2 409.5l5.0 5.0M169.2 414.5l5.0 -5.0M170.1 407.8h7M173.6 404.3v7M171.1 405.3l5.0 5.0M171.1 410.3l5.0 -5.0M166.1 415.8h7M169.6 412.3v7M167.0 413.3l5.0 5.0M167.0 418.3l5.0 -5.0M172.1 406.0h7M175.6 402.5v7M173.1 403.4l5.0 5.0M173.1 408.5l5.0 -5.0M172.2 421.2h7M175.7 417.7v7M173.2 418.7l5.0 5.0M173.2 423.7l5.0 -5.0M170.1 418.1h7M173.6 414.6v7M171.1 415.6l5.0 5.0M171.1 420.7l5.0 -5.0M158.6 402.2h7M162.1 398.7v7M159.6 399.7l5.0 5.0M159.6 404.7l5.0 -5.0M174.1 411.0h7M177.6 407.5v7M175.1 408.5l5.0 5.0M175.1 413.6l5.0 -5.0M164.6 414.9h7M168.1 411.4v7M165.6 412.4l5.0 5.0M165.6 417.5l5.0 -5.0M180.4 413.3h7M183.9 409.8v7M181.4 410.8l5.0 5.0M181.4 415.8l5.0 -5.0M167.2 404.2h7M170.7 400.7v7M168.2 401.7l5.0 5.0M168.2 406.8l5.0 -5.0M163.3 404.7h7M166.8 401.2v7M164.2 402.2l5.0 5.0M164.2 407.2l5.0 -5.0M183.8 414.6h7M187.3 411.1v7M184.8 412.0l5.0 5.0M184.8 417.1l5.0 -5.0M160.1 413.0h7M163.6 409.5v7M161.0 410.5l5.0 5.0M161.0 415.5l5.0 -5.0M174.8 399.3h7M178.3 395.8v7M175.8 396.7l5.0 5.0M175.8 401.8l5.0 -5.0M165.0 395.6h7M168.5 392.1v7M166.0 393.0l5.0 5.0M166.0 398.1l5.0 -5.0M168.5 414.4h7M172.0 410.9v7M169.4 411.9l5.0 5.0M169.4 416.9l5.0 -5.0M165.2 401.1h7M168.7 397.6v7M166.2 398.6l5.0 5.0M166.2 403.7l5.0 -5.0M162.0 405.2h7M165.5 401.7v7M163.0 402.7l5.0 5.0M163.0 407.7l5.0 -5.0M161.4 406.7h7M164.9 403.2v7M162.4 404.2l5.0 5.0M162.4 409.2l5.0 -5.0M179.0 418.4h7M182.5 414.9v7M180.0 415.9l5.0 5.0M180.0 421.0l5.0 -5.0M172.6 420.3h7M176.1 416.8v7M173.5 417.8l5.0 5.0M173.5 422.8l5.0 -5.0M163.2 412.9h7M166.7 409.4v7M164.2 410.3l5.0 5.0M164.2 415.4l5.0 -5.0M165.8 399.6h7M169.3 396.1v7M166.8 397.1l5.0 5.0M166.8 402.1l5.0 -5.0M166.7 397.9h7M170.2 394.4v7M167.7 395.4l5.0 5.0M167.7 400.4l5.0 -5.0M174.0 396.5h7M177.5 393.0v7M175.0 394.0l5.0 5.0M175.0 399.1l5.0 -5.0M176.7 414.3h7M180.2 410.8v7M177.7 411.7l5.0 5.0M177.7 416.8l5.0 -5.0M154.7 403.2h7M158.2 399.7v7M155.7 400.7l5.0 5.0M155.7 405.8l5.0 -5.0M174.9 411.5h7M178.4 408.0v7M175.8 409.0l5.0 5.0M175.8 414.1l5.0 -5.0M173.8 392.0h7M177.3 388.5v7M174.8 389.4l5.0 5.0M174.8 394.5l5.0 -5.0M177.9 395.8h7M181.4 392.3v7M178.9 393.2l5.0 5.0M178.9 398.3l5.0 -5.0M167.9 397.5h7M171.4 394.0v7M168.9 395.0l5.0 5.0M168.9 400.0l5.0 -5.0M158.5 403.3h7M162.0 399.8v7M159.5 400.8l5.0 5.0M159.5 405.8l5.0 -5.0M175.1 392.5h7M178.6 389.0v7M176.1 390.0l5.0 5.0M176.1 395.1l5.0 -5.0M170.6 405.5h7M174.1 402.0v7M171.6 403.0l5.0 5.0M171.6 408.1l5.0 -5.0M181.9 404.7h7M185.4 401.2v7M182.9 402.2l5.0 5.0M182.9 407.2l5.0 -5.0M159.3 409.8h7M162.8 406.3v7M160.2 407.3l5.0 5.0M160.2 412.4l5.0 -5.0M182.7 409.0h7M186.2 405.5v7M183.7 406.4l5.0 5.0M183.7 411.5l5.0 -5.0M165.3 398.1h7M168.8 394.6v7M166.2 395.6l5.0 5.0M166.2 400.6l5.0 -5.0M158.6 404.4h7M162.1 400.9v7M159.6 401.8l5.0 5.0M159.6 406.9l5.0 -5.0M167.5 420.8h7M171.0 417.3v7M168.4 418.2l5.0 5.0M168.4 423.3l5.0 -5.0M169.1 403.5h7M172.6 400.0v7M170.0 401.0l5.0 5.0M170.0 406.1l5.0 -5.0M169.9 400.8h7M173.4 397.3v7M170.9 398.2l5.0 5.0M170.9 403.3l5.0 -5.0M170.1 403.6h7M173.6 400.1v7M171.0 401.1l5.0 5.0M171.0 406.1l5.0 -5.0M160.5 403.0h7M164.0 399.5v7M161.5 400.5l5.0 5.0M161.5 405.6l5.0 -5.0M178.8 394.2h7M182.3 390.7v7M179.8 391.6l5.0 5.0M179.8 396.7l5.0 -5.0M173.4 420.2h7M176.9 416.7v7M174.4 417.7l5.0 5.0M174.4 422.8l5.0 -5.0M172.8 405.6h7M176.3 402.1v7M173.8 403.1l5.0 5.0M173.8 408.2l5.0 -5.0M181.8 414.0h7M185.3 410.5v7M182.8 411.5l5.0 5.0M182.8 416.5l5.0 -5.0M183.3 405.4h7M186.8 401.9v7M184.2 402.9l5.0 5.0M184.2 407.9l5.0 -5.0M161.0 414.2h7M164.5 410.7v7M162.0 411.7l5.0 5.0M162.0 416.8l5.0 -5.0M173.3 396.3h7M176.8 392.8v7M174.3 393.8l5.0 5.0M174.3 398.9l5.0 -5.0M178.3 415.8h7M181.8 412.3v7M179.2 413.3l5.0 5.0M179.2 418.4l5.0 -5.0M156.9 410.6h7M160.4 407.1v7M157.9 408.1l5.0 5.0M157.9 413.1l5.0 -5.0M164.7 403.3h7M168.2 399.8v7M165.7 400.8l5.0 5.0M165.7 405.8l5.0 -5.0M163.2 408.1h7M166.7 404.6v7M164.2 405.6l5.0 5.0M164.2 410.6l5.0 -5.0M154.8 404.2h7M158.3 400.7v7M155.8 401.7l5.0 5.0M155.8 406.7l5.0 -5.0M166.0 395.0h7M169.5 391.5v7M166.9 392.5l5.0 5.0M166.9 397.6l5.0 -5.0M166.1 393.5h7M169.6 390.0v7M167.1 391.0l5.0 5.0M167.1 396.0l5.0 -5.0M169.6 396.6h7M173.1 393.1v7M170.6 394.0l5.0 5.0M170.6 399.1l5.0 -5.0M161.0 396.0h7M164.5 392.5v7M162.0 393.4l5.0 5.0M162.0 398.5l5.0 -5.0M171.2 411.1h7M174.7 407.6v7M172.1 408.6l5.0 5.0M172.1 413.6l5.0 -5.0M180.5 404.8h7M184.0 401.3v7M181.5 402.3l5.0 5.0M181.5 407.3l5.0 -5.0M170.8 417.4h7M174.3 413.9v7M171.8 414.8l5.0 5.0M171.8 419.9l5.0 -5.0M165.5 395.2h7M169.0 391.7v7M166.4 392.7l5.0 5.0M166.4 397.7l5.0 -5.0M164.2 395.1h7M167.7 391.6v7M165.1 392.6l5.0 5.0M165.1 397.6l5.0 -5.0M166.2 406.4h7M169.7 402.9v7M167.2 403.9l5.0 5.0M167.2 408.9l5.0 -5.0M162.4 418.0h7M165.9 414.5v7M163.4 415.5l5.0 5.0M163.4 420.5l5.0 -5.0M172.0 416.6h7M175.5 413.1v7M173.0 414.1l5.0 5.0M173.0 419.1l5.0 -5.0M170.8 420.6h7M174.3 417.1v7M171.8 418.1l5.0 5.0M171.8 423.1l5.0 -5.0" stroke="#00ff00" stroke-width="1.25" fill="none"/>
<path d="M173.5 407.0h7M177.0 403.5v7M174.5 404.5l5.0 5.0M174.5 409.5l5.0 -5.0M170.2 415.5h7M173.7 412.0v7M171.2 413.0l5.0 5.0M171.2 418.1l5.0 -5.0M173.2 408.3h7M176.7 404.8v7M174.2 405.8l5.0 5.0M174.2 410.8l5.0 -5.0M168.4 399.9h7M171.9 396.4v7M169.4 397.4l5.0 5.0M169.4 402.4l5.0 -5.0M160.7 403.0h7M164.2 399.5v7M161.7 400.5l5.0 5.0M161.7 405.5l5.0 -5.0M170.5 401.0h7M174.0 397.5v7M171.5 398.4l5.0 5.0M171.5 403.5l5.0 -5.0M175.4 399.6h7M178.9 396.1v7M176.4 397.0l5.0 5.0M176.4 402.1l5.0 -5.0M163.5 397.9h7M167.0 394.4v7M164.5 395.3l5.0 5.0M164.5 400.4l5.0 -5.0M176.8 416.1h7M180.3 412.6v7M177.8 413.6l5.0 5.0M177.8 418.7l5.0 -5.0M174.7 400.8h7M178.2 397.3v7M175.7 398.3l5.0 5.0M175.7 403.3l5.0 -5.0M177.9 411.7h7M181.4 408.2v7M178.9 409.2l5.0 5.0M178.9 414.3l5.0 -5.0M165.1 416.6h7M168.6 413.1v7M166.1 414.1l5.0 5.0M166.1 419.2l5.0 -5.0M176.3 401.5h7M179.8 398.0v7M177.2 399.0l5.0 5.0M177.2 404.0l5.0 -5.0M171.3 395.2h7M174.8 391.7v7M172.2 392.7l5.0 5.0M172.2 397.7l5.0 -5.0M177.5 405.8h7M181.0 402.3v7M178.5 403.3l5.0 5.0M178.5 408.4l5.0 -5.0M172.7 417.0h7M176.2 413.5v7M173.7 414.5l5.0 5.0M173.7 419.5l5.0 -5.0M165.8 398.3h7M169.3 394.8v7M166.8 395.8l5.0 5.0M166.8 400.9l5.0 -5.0M165.3 417.5h7M168.8 414.0v7M166.3 414.9l5.0 5.0M166.3 420.0l5.0 -5.0M166.6 396.1h7M170.1 392.6v7M167.6 393.5l5.0 5.0M167.6 398.6l5.0 -5.0M161.0 404.1h7M164.5 400.6v7M162.0 401.6l5.0 5.0M162.0 406.7l5.0 -5.0M179.0 400.4h7M182.5 396.9v7M180.0 397.9l5.0 5.0M180.0 402.9l5.0 -5.0M176.6 403.7h7M180.1 400.2v7M177.6 401.2l5.0 5.0M177.6 406.2l5.0 -5.0M181.0 409.6h7M184.5 406.1v7M182.0 407.0l5.0 5.0M182.0 412.1l5.0 -5.0M164.7 402.8h7M168.2 399.3v7M165.7 400.3l5.0 5.0M165.7 405.4l5.0 -5.0M171.2 404.6h7M174.7 401.1v7M172.2 402.1l5.0 5.0M172.2 407.1l5.0 -5.0M169.4 417.9h7M172.9 414.4v7M170.4 415.4l5.0 5.0M170.4 420.5l5.0 -5.0M160.3 403.6h7M163.8 400.1v7M161.3 401.1l5.0 5.0M161.3 406.1l5.0 -5.0M175.9 416.6h7M179.4 413.1v7M176.9 414.1l5.0 5.0M176.9 419.1l5.0 -5.0M178.7 404.1h7M182.2 400.6v7M179.7 401.6l5.0 5.0M179.7 406.6l5.0 -5.0M167.4 416.4h7M170.9 412.9v7M168.4 413.8l5.0 5.0M168.4 418.9l5.0 -5.0M172.1 418.0h7M175.6 414.5v7M173.1 415.4l5.0 5.0M173.1 420.5l5.0 -5.0M162.2 413.6h7M165.7 410.1v7M163.2 411.1l5.0 5.0M163.2 416.1l5.0 -5.0M165.0 409.4h7M168.5 405.9v7M166.0 406.9l5.0 5.0M166.0 411.9l5.0 -5.0M178.2 405.9h7M181.7 402.4v7M179.2 403.4l5.0 5.0M179.2 408.4l5.0 -5.0M162.2 411.4h7M165.7 407.9v7M163.2 408.9l5.0 5.0M163.2 413.9l5.0 -5.0M163.1 399.0h7M166.6 395.5v7M164.1 396.5l5.0 5.0M164.1 401.5l5.0 -5.0M181.4 406.2h7M184.9 402.7v7M182.3 403.7l5.0 5.0M182.3 408.7l5.0 -5.0M162.7 400.6h7M166.2 397.1v7M163.7 398.1l5.0 5.0M163.7 403.1l5.0 -5.0M176.3 399.2h7M179.8 395.7v7M177.2 396.7l5.0 5.0M177.2 401.7l5.0 -5.0M178.7 404.2h7M182.2 400.7v7M179.6 401.7l5.0 5.0M179.6 406.7l5.0 -5.0M164.7 407.8h7M168.2 404.3v7M165.7 405.3l5.0 5.0M165.7 410.3l5.0 -5.0M167.7 400.4h7M171.2 396.9v7M168.7 397.9l5.0 5.0M168.7 402.9l5.0 -5.0M173.0 416.8h7M176.5 413.3v7M173.9 414.2l5.0 5.0M173.9 419.3l5.0 -5.0M172.0 407.8h7M175.5 404.3v7M173.0 405.2l5.0 5.0M173.0 410.3l5.0 -5.0M174.1 412.2h7M177.6 408.7v7M175.1 409.6l5.0 5.0M175.1 414.7l5.0 -5.0M166.0 402.9h7M169.5 399.4v7M167.0 400.4l5.0 5.0M167.0 405.5l5.0 -5.0M170.0 406.2h7M173.5 402.7v7M171.0 403.7l5.0 5.0M171.0 408.8l5.0 -5.0M160.0 408.3h7M163.5 404.8v7M161.0 405.8l5.0 5.0M161.0 410.8l5.0 -5.0M179.5 401.3h7M183.0 397.8v7M180.4 398.8l5.0 5.0M180.4 403.9l5.0 -5.0M164.9 399.8h7M168.4 396.3v7M165.8 397.2l5.0 5.0M165.8 402.3l5.0 -5.0M170.1 408.3h7M173.6 404.8v7M171.1 405.8l5.0 5.0M171.1 410.9l5.0 -5.0M164.1 407.0h7M167.6 403.5v7M165.1 404.4l5.0 5.0M165.1 409.5l5.0 -5.0M171.1 398.7h7M174.6 395.2v7M172.1 396.2l5.0 5.0M172.1 401.2l5.0 -5.0M173.8 398.0h7M177.3 394.5v7M174.8 395.4l5.0 5.0M174.8 400.5l5.0 -5.0M169.6 399.6h7M173.1 396.1v7M170.6 397.1l5.0 5.0M170.6 402.1l5.0 -5.0M162.6 408.7h7M166.1 405.2v7M163.6 406.2l5.0 5.0M163.6 411.3l5.0 -5.0M177.3 407.6h7M180.8 404.1v7M178.3 405.1l5.0 5.0M178.3 410.1l5.0 -5.0M162.4 399.3h7M165.9 395.8v7M163.4 396.8l5.0 5.0M163.4 401.8l5.0 -5.0M178.6 408.5h7M182.1 405.0v7M179.6 406.0l5.0 5.0M179.6 411.0l5.0 -5.0M165.6 404.3h7M169.1 400.8v7M166.6 401.8l5.0 5.0M166.6 406.8l5.0 -5.0M162.7 408.9h7M166.2 405.4v7M163.7 406.4l5.0 5.0M163.7 411.4l5.0 -5.0M163.8 403.5h7M167.3 400.0v7M164.8 400.9l5.0 5.0M164.8 406.0l5.0 -5.0M167.0 410.1h7M170.5 406.6v7M168.0 407.5l5.0 5.0M168.0 412.6l5.0 -5.0M173.4 414.9h7M176.9 411.4v7M174.4 412.4l5.0 5.0M174.4 417.4l5.0 -5.0M177.4 406.0h7M180.9 402.5v7M178.4 403.4l5.0 5.0M178.4 408.5l5.0 -5.0M176.6 400.7h7M180.1 397.2v7M177.6 398.2l5.0 5.0M177.6 403.2l5.0 -5.0M176.8 414.9h7M180.3 411.4v7M177.8 412.4l5.0 5.0M177.8 417.5l5.0 -5.0M167.3 397.9h7M170.8 394.4v7M168.2 395.3l5.0 5.0M168.2 400.4l5.0 -5.0M162.7 401.4h7M166.2 397.9v7M163.7 398.9l5.0 5.0M163.7 403.9l5.0 -5.0M177.4 415.7h7M180.9 412.2v7M178.3 413.1l5.0 5.0M178.3 418.2l5.0 -5.0M173.4 403.5h7M176.9 400.0v7M174.3 401.0l5.0 5.0M174.3 406.0l5.0 -5.0M165.5 400.0h7M169.0 396.5v7M166.5 397.5l5.0 5.0M166.5 402.5l5.0 -5.0M161.1 406.0h7M164.6 402.5v7M162.1 403.5l5.0 5.0M162.1 408.5l5.0 -5.0M173.8 414.4h7M177.3 410.9v7M174.7 411.9l5.0 5.0M174.7 416.9l5.0 -5.0M176.1 416.1h7M179.6 412.6v7M177.1 413.6l5.0 5.0M177.1 418.6l5.0 -5.0M172.1 412.9h7M175.6 409.4v7M173.0 410.3l5.0 5.0M173.0 415.4l5.0 -5.0M173.2 410.7h7M176.7 407.2v7M174.2 408.1l5.0 5.0M174.2 413.2l5.0 -5.0M176.5 397.3h7M180.0 393.8v7M177.5 394.8l5.0 5.0M177.5 399.9l5.0 -5.0M168.3 405.7h7M171.8 402.2v7M169.3 403.1l5.0 5.0M169.3 408.2l5.0 -5.0M161.0 410.8h7M164.5 407.3v7M162.0 408.3l5.0 5.0M162.0 413.3l5.0 -5.0M173.3 403.3h7M176.8 399.8v7M174.3 400.8l5.0 5.0M174.3 405.8l5.0 -5.0M179.1 401.4h7M182.6 397.9v7M180.1 398.9l5.0 5.0M180.1 403.9l5.0 -5.0M165.0 399.8h7M168.5 396.3v7M166.0 397.3l5.0 5.0M166.0 402.3l5.0 -5.0M160.7 403.9h7M164.2 400.4v7M161.7 401.4l5.0 5.0M161.7 406.5l5.0 -5.0M172.4 403.8h7M175.9 400.3v7M173.4 401.3l5.0 5.0M173.4 406.3l5.0 -5.0M171.9 410.5h7M175.4 407.0v7M172.9 407.9l5.0 5.0M172.9 413.0l5.0 -5.0M171.7 418.9h7M175.2 415.4v7M172.7 416.4l5.0 5.0M172.7 421.4l5.0 -5.0M175.9 396.8h7M179.4 393.3v7M176.9 394.3l5.0 5.0M176.9 399.3l5.0 -5.0M179.6 412.2h7M183.1 408.7v7M180.5 409.7l5.0 5.0M180.5 414.7l5.0 -5.0M176.4 415.6h7M179.9 412.1v7M177.4 413.1l5.0 5.0M177.4 418.1l5.0 -5.0" stroke="#00ff00" stroke-width="1.25" fill="none"/>
<path d="M173.8 386.3h7M177.3 382.8v7M174.7 383.8l5.0 5.0M174.7 388.8l5.0 -5.0M167.0 393.8h7M170.5 390.3v7M168.0 391.3l5.0 5.0M168.0 396.3l5.0 -5.0M168.8 395.8h7M172.3 392.3v7M169.8 393.3l5.0 5.0M169.8 398.3l5.0 -5.0M167.5 394.6h7M171.0 391.1v7M168.5 392.0l5.0 5.0M168.5 397.1l5.0 -5.0M166.6 388.1h7M170.1 384.6v7M167.6 385.6l5.0 5.0M167.6 390.6l5.0 -5.0M170.5 390.1h7M174.0 386.6v7M171.5 387.5l5.0 5.0M171.5 392.6l5.0 -5.0M166.5 389.9h7M170.0 386.4v7M167.5 387.3l5.0 5.0M167.5 392.4l5.0 -5.0M166.8 387.9h7M170.3 384.4v7M167.7 385.4l5.0 5.0M167.7 390.4l5.0 -5.0M166.7 392.1h7M170.2 388.6v7M167.7 389.6l5.0 5.0M167.7 394.7l5.0 -5.0M163.1 388.7h7M166.6 385.2v7M164.1 386.2l5.0 5.0M164.1 391.2l5.0 -5.0M170.8 388.6h7M174.3 385.1v7M171.8 386.1l5.0 5.0M171.8 391.1l5.0 -5.0M172.9 387.2h7M176.4 383.7v7M173.8 384.6l5.0 5.0M173.8 389.7l5.0 -5.0M167.9 390.2h7M171.4 386.7v7M168.9 387.7l5.0 5.0M168.9 392.7l5.0 -5.0M166.0 391.0h7M169.5 387.5v7M166.9 388.5l5.0 5.0M166.9 393.5l5.0 -5.0M162.7 396.4h7M166.2 392.9v7M163.7 393.9l5.0 5.0M163.7 399.0l5.0 -5.0M170.4 391.0h7M173.9 387.5v7M171.4 388.5l5.0 5.0M171.4 393.5l5.0 -5.0M164.1 386.8h7M167.6 383.3v7M165.1 384.3l5.0 5.0M165.1 389.3l5.0 -5.0M167.6 384.5h7M171.1 381.0v7M168.6 381.9l5.0 5.0M168.6 387.0l5.0 -5.0M169.7 386.7h7M173.2 383.2v7M170.6 384.2l5.0 5.0M170.6 389.2l5.0 -5.0M171.9 392.7h7M175.4 389.2v7M172.9 390.2l5.0 5.0M172.9 395.2l5.0 -5.0M171.9 397.9h7M175.4 394.4v7M172.9 395.3l5.0 5.0M172.9 400.4l5.0 -5.0M164.6 387.1h7M168.1 383.6v7M165.5 384.6l5.0 5.0M165.5 389.6l5.0 -5.0M170.9 399.3h7M174.4 395.8v7M171.9 396.8l5.0 5.0M171.9 401.9l5.0 -5.0M169.0 393.0h7M172.5 389.5v7M170.0 390.5l5.0 5.0M170.0 395.5l5.0 -5.0M168.4 382.4h7M171.9 378.9v7M169.4 379.9l5.0 5.0M169.4 384.9l5.0 -5.0M174.4 391.6h7M177.9 388.1v7M175.4 389.1l5.0 5.0M175.4 394.1l5.0 -5.0" stroke="#00ff00" stroke-width="1.25" fill="none"/>
<path d="M186.5 360.0h7M190.0 356.5v7M187.5 357.5l5.0 5.0M187.5 362.5l5.0 -5.0M182.5 364.0h7M186.0 360.5v7M183.5 361.5l5.0 5.0M183.5 366.5l5.0 -5.0M179.0 369.0h7M182.5 365.5v7M180.0 366.5l5.0 5.0M180.0 371.5l5.0 -5.0M187.5 371.0h7M191.0 367.5v7M188.5 368.5l5.0 5.0M188.5 373.5l5.0 -5.0M176.5 376.0h7M180.0 372.5v7M177.5 373.5l5.0 5.0M177.5 378.5l5.0 -5.0M184.0 380.0h7M187.5 376.5v7M185.0 377.5l5.0 5.0M185.0 382.5l5.0 -5.0" stroke="#00ff00" stroke-width="1.25" fill="none"/>
<path d="M144.1 374.3h7M147.6 370.8v7M145.1 371.8l5.0 5.0M145.1 376.8l5.0 -5.0M149.7 377.3h7M153.2 373.8v7M150.7 374.8l5.0 5.0M150.7 379.8l5.0 -5.0M152.2 376.9h7M155.7 373.4v7M153.2 374.4l5.0 5.0M153.2 379.5l5.0 -5.0M144.8 367.6h7M148.3 364.1v7M145.8 365.1l5.0 5.0M145.8 370.2l5.0 -5.0M147.6 372.3h7M151.1 368.8v7M148.6 369.8l5.0 5.0M148.6 374.9l5.0 -5.0M142.1 369.8h7M145.6 366.3v7M143.1 367.2l5.0 5.0M143.1 372.3l5.0 -5.0M150.9 371.2h7M154.4 367.7v7M151.9 368.7l5.0 5.0M151.9 373.7l5.0 -5.0M141.4 371.7h7M144.9 368.2v7M142.4 369.2l5.0 5.0M142.4 374.2l5.0 -5.0M152.3 375.0h7M155.8 371.5v7M153.2 372.4l5.0 5.0M153.2 377.5l5.0 -5.0" stroke="#00ff00" stroke-width="1.25" fill="none"/>
<path d="M186.5 358.0h7M190.0 354.5v7M187.5 355.5l5.0 5.0M187.5 360.5l5.0 -5.0M190.5 356.0h7M194.0 352.5v7M191.5 353.5l5.0 5.0M191.5 358.5l5.0 -5.0M188.5 360.0h7M192.0 356.5v7M189.5 357.5l5.0 5.0M189.5 362.5l5.0 -5.0M183.5 376.0h7M187.0 372.5v7M184.5 373.5l5.0 5.0M184.5 378.5l5.0 -5.0M177.5 370.0h7M181.0 366.5v7M178.5 367.5l5.0 5.0M178.5 372.5l5.0 -5.0M186.5 371.0h7M190.0 367.5v7M187.5 368.5l5.0 5.0M187.5 373.5l5.0 -5.0M136.5 420.0h7M140.0 416.5v7M137.5 417.5l5.0 5.0M137.5 422.5l5.0 -5.0M128.5 426.0h7M132.0 422.5v7M129.5 423.5l5.0 5.0M129.5 428.5l5.0 -5.0M139.5 428.0h7M143.0 424.5v7M140.5 425.5l5.0 5.0M140.5 430.5l5.0 -5.0M118.5 430.0h7M122.0 426.5v7M119.5 427.5l5.0 5.0M119.5 432.5l5.0 -5.0M145.5 414.0h7M149.0 410.5v7M146.5 411.5l5.0 5.0M146.5 416.5l5.0 -5.0M152.5 422.0h7M156.0 418.5v7M153.5 419.5l5.0 5.0M153.5 424.5l5.0 -5.0M104.5 441.0h7M108.0 437.5v7M105.5 438.5l5.0 5.0M105.5 443.5l5.0 -5.0M109.5 437.0h7M113.0 433.5v7M110.5 434.5l5.0 5.0M110.5 439.5l5.0 -5.0M112.9 439.0h7M116.4 435.5v7M113.9 436.5l5.0 5.0M113.9 441.5l5.0 -5.0M118.1 432.0h7M121.6 428.5v7M119.1 429.5l5.0 5.0M119.1 434.5l5.0 -5.0M125.5 434.0h7M129.0 430.5v7M126.5 431.5l5.0 5.0M126.5 436.5l5.0 -5.0M128.1 426.0h7M131.6 422.5v7M129.1 423.5l5.0 5.0M129.1 428.5l5.0 -5.0M137.5 420.0h7M141.0 416.5v7M138.5 417.5l5.0 5.0M138.5 422.5l5.0 -5.0M140.1 428.0h7M143.6 424.5v7M141.1 425.5l5.0 5.0M141.1 430.5l5.0 -5.0M160.1 436.0h7M163.6 432.5v7M161.1 433.5l5.0 5.0M161.1 438.5l5.0 -5.0M162.9 446.4h7M166.4 442.9v7M163.9 443.9l5.0 5.0M163.9 448.9l5.0 -5.0M167.5 455.4h7M171.0 451.9v7M168.5 452.9l5.0 5.0M168.5 457.9l5.0 -5.0M173.5 462.0h7M177.0 458.5v7M174.5 459.5l5.0 5.0M174.5 464.5l5.0 -5.0M180.1 465.0h7M183.6 461.5v7M181.1 462.5l5.0 5.0M181.1 467.5l5.0 -5.0M186.5 465.0h7M190.0 461.5v7M187.5 462.5l5.0 5.0M187.5 467.5l5.0 -5.0M191.5 463.0h7M195.0 459.5v7M192.5 460.5l5.0 5.0M192.5 465.5l5.0 -5.0M193.5 460.0h7M197.0 456.5v7M194.5 457.5l5.0 5.0M194.5 462.5l5.0 -5.0M190.5 459.0h7M194.0 455.5v7M191.5 456.5l5.0 5.0M191.5 461.5l5.0 -5.0M188.5 460.0h7M192.0 456.5v7M189.5 457.5l5.0 5.0M189.5 462.5l5.0 -5.0M194.5 439.0h7M198.0 435.5v7M195.5 436.5l5.0 5.0M195.5 441.5l5.0 -5.0M198.1 444.0h7M201.6 440.5v7M199.1 441.5l5.0 5.0M199.1 446.5l5.0 -5.0M190.5 359.0h7M194.0 355.5v7M191.5 356.5l5.0 5.0M191.5 361.5l5.0 -5.0M188.5 371.0h7M192.0 367.5v7M189.5 368.5l5.0 5.0M189.5 373.5l5.0 -5.0M186.5 408.0h7M190.0 404.5v7M187.5 405.5l5.0 5.0M187.5 410.5l5.0 -5.0M192.5 362.0h7M196.0 358.5v7M193.5 359.5l5.0 5.0M193.5 364.5l5.0 -5.0M188.5 409.0h7M192.0 405.5v7M189.5 406.5l5.0 5.0M189.5 411.5l5.0 -5.0M187.5 425.0h7M191.0 421.5v7M188.5 422.5l5.0 5.0M188.5 427.5l5.0 -5.0M190.5 461.0h7M194.0 457.5v7M191.5 458.5l5.0 5.0M191.5 463.5l5.0 -5.0M186.5 464.0h7M190.0 460.5v7M187.5 461.5l5.0 5.0M187.5 466.5l5.0 -5.0M189.5 364.0h7M193.0 360.5v7M190.5 361.5l5.0 5.0M190.5 366.5l5.0 -5.0M146.5 392.0h7M150.0 388.5v7M147.5 389.5l5.0 5.0M147.5 394.5l5.0 -5.0M143.5 398.0h7M147.0 394.5v7M144.5 395.5l5.0 5.0M144.5 400.5l5.0 -5.0M149.5 383.0h7M153.0 379.5v7M150.5 380.5l5.0 5.0M150.5 385.5l5.0 -5.0M192.5 441.0h7M196.0 437.5v7M193.5 438.5l5.0 5.0M193.5 443.5l5.0 -5.0M195.5 445.0h7M199.0 441.5v7M196.5 442.5l5.0 5.0M196.5 447.5l5.0 -5.0" stroke="#00ff00" stroke-width="1.25" fill="none"/></g>

<path d="M80.84 507.9v-3.1M80.84 313.0v3.1M59.8 491.66h3.1M312.3 491.66h-3.1" stroke="#262626" stroke-width="1.3" fill="none"/>
<text x="80.84" y="529.20" text-anchor="middle" font-size="15.5">-1</text>
<text x="54.20" y="497.26" text-anchor="end" font-size="15.5">-1</text>
<path d="M133.45 507.9v-3.1M133.45 313.0v3.1M59.8 451.05h3.1M312.3 451.05h-3.1" stroke="#262626" stroke-width="1.3" fill="none"/>
<text x="133.45" y="529.20" text-anchor="middle" font-size="15.5">-0.5</text>
<text x="54.20" y="456.65" text-anchor="end" font-size="15.5">-0.5</text>
<path d="M186.05 507.9v-3.1M186.05 313.0v3.1M59.8 410.45h3.1M312.3 410.45h-3.1" stroke="#262626" stroke-width="1.3" fill="none"/>
<text x="186.05" y="529.20" text-anchor="middle" font-size="15.5">0</text>
<text x="54.20" y="416.05" text-anchor="end" font-size="15.5">0</text>
<path d="M238.65 507.9v-3.1M238.65 313.0v3.1M59.8 369.85h3.1M312.3 369.85h-3.1" stroke="#262626" stroke-width="1.3" fill="none"/>
<text x="238.65" y="529.20" text-anchor="middle" font-size="15.5">0.5</text>
<text x="54.20" y="375.45" text-anchor="end" font-size="15.5">0.5</text>
<path d="M291.26 507.9v-3.1M291.26 313.0v3.1M59.8 329.24h3.1M312.3 329.24h-3.1" stroke="#262626" stroke-width="1.3" fill="none"/>
<text x="291.26" y="529.20" text-anchor="middle" font-size="15.5">1</text>
<text x="54.20" y="334.84" text-anchor="end" font-size="15.5">1</text>
<rect x="59.8" y="313.0" width="252.50" height="194.90" fill="none" stroke="#262626" stroke-width="1.35"/>
<text x="185.75" y="307.50" text-anchor="middle" font-size="17.1"><tspan font-style="italic">r</tspan> = -0.68</text>
<text x="188.0" y="550.0" text-anchor="middle" font-size="17.3"><tspan font-weight="bold">&lt;</tspan><tspan font-family="'Liberation Serif', 'DejaVu Serif', serif" font-style="italic">δ</tspan><tspan font-weight="bold">Jp.</tspan><tspan font-family="'Liberation Serif', 'DejaVu Serif', serif" font-style="italic">δ</tspan><tspan font-weight="bold">E&gt;</tspan>/|&lt;<tspan font-family="'Liberation Serif', 'DejaVu Serif', serif" font-style="italic">δ</tspan><tspan font-weight="bold">Jp.</tspan><tspan font-family="'Liberation Serif', 'DejaVu Serif', serif" font-style="italic">δ</tspan><tspan font-weight="bold">E&gt;</tspan>|<tspan dy="8.4" font-size="13.8">max</tspan></text>
<text transform="translate(12.8,410.0) rotate(-90)" text-anchor="middle" font-size="17.3">&lt;R<tspan dy="8.4" font-size="13.8">M</tspan><tspan dy="-8.4">&gt;/|&lt;R<tspan dy="8.4" font-size="13.8">M</tspan><tspan dy="-8.4">&gt;|</tspan><tspan dy="8.4" font-size="13.8">max</tspan></tspan></text>
<text x="8.6" y="321.6" font-size="17.6">(c)</text>
</g>
<g id="ax-d">
<line x1="414.56" y1="313.0" x2="414.56" y2="507.9" stroke="#dcdcdc" stroke-width="1"/>
<line x1="393.5" y1="491.66" x2="646.2" y2="491.66" stroke="#dcdcdc" stroke-width="1"/>
<line x1="467.20" y1="313.0" x2="467.20" y2="507.9" stroke="#dcdcdc" stroke-width="1"/>
<line x1="393.5" y1="451.05" x2="646.2" y2="451.05" stroke="#dcdcdc" stroke-width="1"/>
<line x1="519.85" y1="313.0" x2="519.85" y2="507.9" stroke="#dcdcdc" stroke-width="1"/>
<line x1="393.5" y1="410.45" x2="646.2" y2="410.45" stroke="#dcdcdc" stroke-width="1"/>
<line x1="572.50" y1="313.0" x2="572.50" y2="507.9" stroke="#dcdcdc" stroke-width="1"/>
<line x1="393.5" y1="369.85" x2="646.2" y2="369.85" stroke="#dcdcdc" stroke-width="1"/>
<line x1="625.14" y1="313.0" x2="625.14" y2="507.9" stroke="#dcdcdc" stroke-width="1"/>
<line x1="393.5" y1="329.24" x2="646.2" y2="329.24" stroke="#dcdcdc" stroke-width="1"/>
<g class="pts"><path d="M517.4 386.8h7M520.9 383.3v7M518.4 384.3l5.0 5.0M518.4 389.3l5.0 -5.0M519.1 386.9h7M522.6 383.4v7M520.1 384.3l5.0 5.0M520.1 389.4l5.0 -5.0M519.2 384.6h7M522.7 381.1v7M520.2 382.1l5.0 5.0M520.2 387.2l5.0 -5.0M520.5 383.5h7M524.0 380.0v7M521.5 381.0l5.0 5.0M521.5 386.0l5.0 -5.0M522.5 382.7h7M526.0 379.2v7M523.5 380.2l5.0 5.0M523.5 385.3l5.0 -5.0M524.9 384.0h7M528.4 380.5v7M525.9 381.5l5.0 5.0M525.9 386.5l5.0 -5.0M525.6 382.0h7M529.1 378.5v7M526.6 379.5l5.0 5.0M526.6 384.6l5.0 -5.0M527.2 382.4h7M530.7 378.9v7M528.2 379.9l5.0 5.0M528.2 385.0l5.0 -5.0M529.2 380.8h7M532.7 377.3v7M530.1 378.2l5.0 5.0M530.1 383.3l5.0 -5.0M530.1 382.1h7M533.6 378.6v7M531.1 379.5l5.0 5.0M531.1 384.6l5.0 -5.0M531.6 380.6h7M535.1 377.1v7M532.6 378.1l5.0 5.0M532.6 383.1l5.0 -5.0M533.3 382.7h7M536.8 379.2v7M534.2 380.2l5.0 5.0M534.2 385.2l5.0 -5.0M535.6 382.2h7M539.1 378.7v7M536.6 379.7l5.0 5.0M536.6 384.7l5.0 -5.0M537.0 381.2h7M540.5 377.7v7M538.0 378.7l5.0 5.0M538.0 383.7l5.0 -5.0M538.6 383.0h7M542.1 379.5v7M539.6 380.5l5.0 5.0M539.6 385.5l5.0 -5.0M539.8 382.6h7M543.3 379.1v7M540.8 380.1l5.0 5.0M540.8 385.2l5.0 -5.0M541.1 383.3h7M544.6 379.8v7M542.1 380.8l5.0 5.0M542.1 385.8l5.0 -5.0M542.6 385.2h7M546.1 381.7v7M543.6 382.7l5.0 5.0M543.6 387.7l5.0 -5.0M543.4 385.6h7M546.9 382.1v7M544.4 383.0l5.0 5.0M544.4 388.1l5.0 -5.0M544.1 387.8h7M547.6 384.3v7M545.1 385.3l5.0 5.0M545.1 390.4l5.0 -5.0M544.9 388.8h7M548.4 385.3v7M545.9 386.2l5.0 5.0M545.9 391.3l5.0 -5.0M545.6 390.7h7M549.1 387.2v7M546.6 388.1l5.0 5.0M546.6 393.2l5.0 -5.0M547.3 391.3h7M550.8 387.8v7M548.2 388.7l5.0 5.0M548.2 393.8l5.0 -5.0M549.0 391.3h7M552.5 387.8v7M550.0 388.8l5.0 5.0M550.0 393.9l5.0 -5.0M549.8 393.5h7M553.3 390.0v7M550.8 391.0l5.0 5.0M550.8 396.0l5.0 -5.0M551.9 393.5h7M555.4 390.0v7M552.8 391.0l5.0 5.0M552.8 396.0l5.0 -5.0M551.9 395.0h7M555.4 391.5v7M552.9 392.5l5.0 5.0M552.9 397.5l5.0 -5.0" stroke="#0000ff" stroke-width="1.25" fill="none"/>
<path d="M562.1 391.0h7M565.6 387.5v7M563.1 388.5l5.0 5.0M563.1 393.5l5.0 -5.0M570.5 388.0h7M574.0 384.5v7M571.5 385.5l5.0 5.0M571.5 390.5l5.0 -5.0M579.5 385.6h7M583.0 382.1v7M580.5 383.1l5.0 5.0M580.5 388.1l5.0 -5.0M586.5 384.0h7M590.0 380.5v7M587.5 381.5l5.0 5.0M587.5 386.5l5.0 -5.0M591.5 385.0h7M595.0 381.5v7M592.5 382.5l5.0 5.0M592.5 387.5l5.0 -5.0M592.1 388.0h7M595.6 384.5v7M593.1 385.5l5.0 5.0M593.1 390.5l5.0 -5.0M589.5 384.0h7M593.0 380.5v7M590.5 381.5l5.0 5.0M590.5 386.5l5.0 -5.0M530.5 392.0h7M534.0 388.5v7M531.5 389.5l5.0 5.0M531.5 394.5l5.0 -5.0M538.5 392.0h7M542.0 388.5v7M539.5 389.5l5.0 5.0M539.5 394.5l5.0 -5.0M527.5 388.0h7M531.0 384.5v7M528.5 385.5l5.0 5.0M528.5 390.5l5.0 -5.0" stroke="#0000ff" stroke-width="1.25" fill="none"/>
<path d="M536.9 404.8h7M540.4 401.3v7M537.9 402.3l5.0 5.0M537.9 407.4l5.0 -5.0M550.6 409.6h7M554.1 406.1v7M551.6 407.1l5.0 5.0M551.6 412.2l5.0 -5.0M538.1 403.2h7M541.6 399.7v7M539.1 400.7l5.0 5.0M539.1 405.7l5.0 -5.0M542.0 414.1h7M545.5 410.6v7M543.0 411.6l5.0 5.0M543.0 416.6l5.0 -5.0M549.5 402.4h7M553.0 398.9v7M550.5 399.9l5.0 5.0M550.5 404.9l5.0 -5.0M544.6 402.2h7M548.1 398.7v7M545.6 399.7l5.0 5.0M545.6 404.7l5.0 -5.0M549.9 403.3h7M553.4 399.8v7M550.9 400.8l5.0 5.0M550.9 405.9l5.0 -5.0M537.5 411.1h7M541.0 407.6v7M538.5 408.6l5.0 5.0M538.5 413.7l5.0 -5.0M555.9 410.8h7M559.4 407.3v7M556.9 408.3l5.0 5.0M556.9 413.3l5.0 -5.0M540.7 411.2h7M544.2 407.7v7M541.7 408.7l5.0 5.0M541.7 413.7l5.0 -5.0M540.2 411.8h7M543.7 408.3v7M541.1 409.3l5.0 5.0M541.1 414.3l5.0 -5.0M550.0 404.4h7M553.5 400.9v7M551.0 401.9l5.0 5.0M551.0 406.9l5.0 -5.0M556.0 414.0h7M559.5 410.5v7M557.0 411.4l5.0 5.0M557.0 416.5l5.0 -5.0M539.9 402.5h7M543.4 399.0v7M540.8 400.0l5.0 5.0M540.8 405.0l5.0 -5.0M546.8 414.5h7M550.3 411.0v7M547.8 412.0l5.0 5.0M547.8 417.0l5.0 -5.0M549.3 409.7h7M552.8 406.2v7M550.3 407.2l5.0 5.0M550.3 412.2l5.0 -5.0M546.2 405.8h7M549.7 402.3v7M547.1 403.2l5.0 5.0M547.1 408.3l5.0 -5.0M540.9 407.5h7M544.4 404.0v7M541.9 405.0l5.0 5.0M541.9 410.1l5.0 -5.0M547.8 415.6h7M551.3 412.1v7M548.8 413.1l5.0 5.0M548.8 418.2l5.0 -5.0M534.5 405.3h7M538.0 401.8v7M535.5 402.8l5.0 5.0M535.5 407.8l5.0 -5.0M558.9 411.4h7M562.4 407.9v7M559.9 408.8l5.0 5.0M559.9 413.9l5.0 -5.0M534.6 408.1h7M538.1 404.6v7M535.6 405.6l5.0 5.0M535.6 410.6l5.0 -5.0M550.7 415.2h7M554.2 411.7v7M551.7 412.7l5.0 5.0M551.7 417.7l5.0 -5.0M554.1 405.7h7M557.6 402.2v7M555.1 403.2l5.0 5.0M555.1 408.2l5.0 -5.0M547.4 413.9h7M550.9 410.4v7M548.4 411.4l5.0 5.0M548.4 416.4l5.0 -5.0M539.3 412.0h7M542.8 408.5v7M540.3 409.5l5.0 5.0M540.3 414.5l5.0 -5.0M548.2 402.6h7M551.7 399.1v7M549.2 400.1l5.0 5.0M549.2 405.1l5.0 -5.0M540.1 407.7h7M543.6 404.2v7M541.1 405.2l5.0 5.0M541.1 410.2l5.0 -5.0M539.5 405.0h7M543.0 401.5v7M540.5 402.5l5.0 5.0M540.5 407.5l5.0 -5.0M549.2 409.4h7M552.7 405.9v7M550.2 406.9l5.0 5.0M550.2 411.9l5.0 -5.0M541.4 406.4h7M544.9 402.9v7M542.4 403.9l5.0 5.0M542.4 408.9l5.0 -5.0M546.4 415.1h7M549.9 411.6v7M547.4 412.6l5.0 5.0M547.4 417.7l5.0 -5.0M558.8 411.7h7M562.3 408.2v7M559.7 409.2l5.0 5.0M559.7 414.3l5.0 -5.0M555.0 407.2h7M558.5 403.7v7M556.0 404.7l5.0 5.0M556.0 409.8l5.0 -5.0M551.7 408.2h7M555.2 404.7v7M552.7 405.7l5.0 5.0M552.7 410.8l5.0 -5.0M538.7 411.9h7M542.2 408.4v7M539.7 409.4l5.0 5.0M539.7 414.4l5.0 -5.0M541.2 409.5h7M544.7 406.0v7M542.2 407.0l5.0 5.0M542.2 412.1l5.0 -5.0M538.4 403.4h7M541.9 399.9v7M539.4 400.9l5.0 5.0M539.4 406.0l5.0 -5.0M535.9 407.4h7M539.4 403.9v7M536.9 404.9l5.0 5.0M536.9 409.9l5.0 -5.0M546.5 411.1h7M550.0 407.6v7M547.5 408.6l5.0 5.0M547.5 413.6l5.0 -5.0M541.1 403.4h7M544.6 399.9v7M542.1 400.9l5.0 5.0M542.1 405.9l5.0 -5.0M558.3 411.0h7M561.8 407.5v7M559.2 408.5l5.0 5.0M559.2 413.5l5.0 -5.0M551.5 411.8h7M555.0 408.3v7M552.5 409.3l5.0 5.0M552.5 414.4l5.0 -5.0M541.5 410.4h7M545.0 406.9v7M542.5 407.9l5.0 5.0M542.5 412.9l5.0 -5.0M541.4 411.3h7M544.9 407.8v7M542.4 408.8l5.0 5.0M542.4 413.8l5.0 -5.0M554.8 403.3h7M558.3 399.8v7M555.8 400.7l5.0 5.0M555.8 405.8l5.0 -5.0M548.2 414.4h7M551.7 410.9v7M549.2 411.8l5.0 5.0M549.2 416.9l5.0 -5.0M544.5 415.6h7M548.0 412.1v7M545.5 413.1l5.0 5.0M545.5 418.1l5.0 -5.0M539.5 405.6h7M543.0 402.1v7M540.4 403.1l5.0 5.0M540.4 408.1l5.0 -5.0M536.7 405.5h7M540.2 402.0v7M537.7 402.9l5.0 5.0M537.7 408.0l5.0 -5.0M543.8 413.5h7M547.3 410.0v7M544.8 410.9l5.0 5.0M544.8 416.0l5.0 -5.0M551.0 404.1h7M554.5 400.6v7M552.0 401.6l5.0 5.0M552.0 406.6l5.0 -5.0M537.5 408.3h7M541.0 404.8v7M538.5 405.7l5.0 5.0M538.5 410.8l5.0 -5.0M557.4 408.6h7M560.9 405.1v7M558.4 406.1l5.0 5.0M558.4 411.1l5.0 -5.0M554.6 411.8h7M558.1 408.3v7M555.6 409.3l5.0 5.0M555.6 414.4l5.0 -5.0M557.1 408.9h7M560.6 405.4v7M558.1 406.4l5.0 5.0M558.1 411.5l5.0 -5.0M543.1 408.4h7M546.6 404.9v7M544.1 405.8l5.0 5.0M544.1 410.9l5.0 -5.0M555.0 405.7h7M558.5 402.2v7M555.9 403.2l5.0 5.0M555.9 408.2l5.0 -5.0M537.9 414.1h7M541.4 410.6v7M538.9 411.5l5.0 5.0M538.9 416.6l5.0 -5.0M545.9 411.1h7M549.4 407.6v7M546.9 408.6l5.0 5.0M546.9 413.6l5.0 -5.0M538.8 407.9h7M542.3 404.4v7M539.8 405.4l5.0 5.0M539.8 410.5l5.0 -5.0M558.9 408.1h7M562.4 404.6v7M559.9 405.5l5.0 5.0M559.9 410.6l5.0 -5.0M540.9 404.1h7M544.4 400.6v7M541.9 401.6l5.0 5.0M541.9 406.6l5.0 -5.0M550.4 411.5h7M553.9 408.0v7M551.3 408.9l5.0 5.0M551.3 414.0l5.0 -5.0M541.6 412.2h7M545.1 408.7v7M542.6 409.6l5.0 5.0M542.6 414.7l5.0 -5.0M557.0 406.6h7M560.5 403.1v7M558.0 404.1l5.0 5.0M558.0 409.1l5.0 -5.0M546.4 401.6h7M549.9 398.1v7M547.4 399.1l5.0 5.0M547.4 404.1l5.0 -5.0M549.1 405.9h7M552.6 402.4v7M550.0 403.4l5.0 5.0M550.0 408.4l5.0 -5.0M550.8 412.9h7M554.3 409.4v7M551.7 410.4l5.0 5.0M551.7 415.4l5.0 -5.0M542.0 411.5h7M545.5 408.0v7M543.0 409.0l5.0 5.0M543.0 414.0l5.0 -5.0" stroke="#0000ff" stroke-width="1.25" fill="none"/>
<path d="M558.1 412.8h7M561.6 409.3v7M559.1 410.3l5.0 5.0M559.1 415.3l5.0 -5.0M553.1 409.6h7M556.6 406.1v7M554.1 407.1l5.0 5.0M554.1 412.1l5.0 -5.0M551.6 416.9h7M555.1 413.4v7M552.6 414.4l5.0 5.0M552.6 419.4l5.0 -5.0M554.9 411.6h7M558.4 408.1v7M555.8 409.1l5.0 5.0M555.8 414.1l5.0 -5.0M555.2 416.3h7M558.7 412.8v7M556.2 413.8l5.0 5.0M556.2 418.8l5.0 -5.0M554.5 417.4h7M558.0 413.9v7M555.4 414.9l5.0 5.0M555.4 420.0l5.0 -5.0M552.5 410.3h7M556.0 406.8v7M553.5 407.8l5.0 5.0M553.5 412.8l5.0 -5.0M559.1 413.3h7M562.6 409.8v7M560.1 410.8l5.0 5.0M560.1 415.9l5.0 -5.0M556.2 409.1h7M559.7 405.6v7M557.1 406.6l5.0 5.0M557.1 411.7l5.0 -5.0M558.1 415.8h7M561.6 412.3v7M559.0 413.2l5.0 5.0M559.0 418.3l5.0 -5.0M556.1 413.8h7M559.6 410.3v7M557.1 411.3l5.0 5.0M557.1 416.3l5.0 -5.0M553.7 414.9h7M557.2 411.4v7M554.7 412.4l5.0 5.0M554.7 417.4l5.0 -5.0M553.2 417.3h7M556.7 413.8v7M554.1 414.8l5.0 5.0M554.1 419.8l5.0 -5.0M555.6 414.7h7M559.1 411.2v7M556.6 412.2l5.0 5.0M556.6 417.2l5.0 -5.0" stroke="#0000ff" stroke-width="1.25" fill="none"/>
<path d="M485.5 400.6h7M489.0 397.1v7M486.5 398.1l5.0 5.0M486.5 403.1l5.0 -5.0M485.3 411.9h7M488.8 408.4v7M486.2 409.3l5.0 5.0M486.2 414.4l5.0 -5.0M475.7 402.6h7M479.2 399.1v7M476.7 400.1l5.0 5.0M476.7 405.1l5.0 -5.0M477.8 402.3h7M481.3 398.8v7M478.7 399.7l5.0 5.0M478.7 404.8l5.0 -5.0M493.9 406.5h7M497.4 403.0v7M494.8 404.0l5.0 5.0M494.8 409.0l5.0 -5.0M472.1 406.2h7M475.6 402.7v7M473.0 403.6l5.0 5.0M473.0 408.7l5.0 -5.0M490.4 404.6h7M493.9 401.1v7M491.4 402.1l5.0 5.0M491.4 407.1l5.0 -5.0M475.3 407.0h7M478.8 403.5v7M476.3 404.4l5.0 5.0M476.3 409.5l5.0 -5.0M482.3 404.9h7M485.8 401.4v7M483.3 402.4l5.0 5.0M483.3 407.4l5.0 -5.0M479.4 399.5h7M482.9 396.0v7M480.4 397.0l5.0 5.0M480.4 402.1l5.0 -5.0M479.3 407.9h7M482.8 404.4v7M480.3 405.4l5.0 5.0M480.3 410.4l5.0 -5.0M485.6 407.2h7M489.1 403.7v7M486.6 404.7l5.0 5.0M486.6 409.8l5.0 -5.0M492.4 409.0h7M495.9 405.5v7M493.4 406.5l5.0 5.0M493.4 411.5l5.0 -5.0M489.2 412.5h7M492.7 409.0v7M490.2 410.0l5.0 5.0M490.2 415.0l5.0 -5.0M478.7 409.2h7M482.2 405.7v7M479.7 406.7l5.0 5.0M479.7 411.8l5.0 -5.0M478.2 407.4h7M481.7 403.9v7M479.1 404.9l5.0 5.0M479.1 409.9l5.0 -5.0M496.7 405.4h7M500.2 401.9v7M497.7 402.9l5.0 5.0M497.7 407.9l5.0 -5.0M484.2 402.3h7M487.7 398.8v7M485.2 399.8l5.0 5.0M485.2 404.9l5.0 -5.0M498.1 408.4h7M501.6 404.9v7M499.1 405.9l5.0 5.0M499.1 411.0l5.0 -5.0M479.3 402.8h7M482.8 399.3v7M480.3 400.3l5.0 5.0M480.3 405.4l5.0 -5.0M498.9 406.8h7M502.4 403.3v7M499.9 404.3l5.0 5.0M499.9 409.3l5.0 -5.0M492.8 402.4h7M496.3 398.9v7M493.8 399.8l5.0 5.0M493.8 404.9l5.0 -5.0M494.7 408.9h7M498.2 405.4v7M495.7 406.4l5.0 5.0M495.7 411.4l5.0 -5.0M495.7 405.8h7M499.2 402.3v7M496.7 403.3l5.0 5.0M496.7 408.3l5.0 -5.0M497.0 407.0h7M500.5 403.5v7M498.0 404.4l5.0 5.0M498.0 409.5l5.0 -5.0M478.5 411.9h7M482.0 408.4v7M479.5 409.4l5.0 5.0M479.5 414.4l5.0 -5.0M486.0 404.6h7M489.5 401.1v7M487.0 402.1l5.0 5.0M487.0 407.1l5.0 -5.0M485.1 404.2h7M488.6 400.7v7M486.1 401.7l5.0 5.0M486.1 406.7l5.0 -5.0M481.5 407.9h7M485.0 404.4v7M482.5 405.4l5.0 5.0M482.5 410.4l5.0 -5.0M488.5 411.8h7M492.0 408.3v7M489.5 409.3l5.0 5.0M489.5 414.3l5.0 -5.0M480.0 412.4h7M483.5 408.9v7M481.0 409.8l5.0 5.0M481.0 414.9l5.0 -5.0M484.2 408.0h7M487.7 404.5v7M485.2 405.5l5.0 5.0M485.2 410.6l5.0 -5.0M482.0 410.0h7M485.5 406.5v7M483.0 407.5l5.0 5.0M483.0 412.5l5.0 -5.0M481.2 408.0h7M484.7 404.5v7M482.2 405.5l5.0 5.0M482.2 410.5l5.0 -5.0M477.2 401.6h7M480.7 398.1v7M478.2 399.1l5.0 5.0M478.2 404.1l5.0 -5.0M488.8 405.4h7M492.3 401.9v7M489.8 402.9l5.0 5.0M489.8 408.0l5.0 -5.0M474.8 405.1h7M478.3 401.6v7M475.8 402.5l5.0 5.0M475.8 407.6l5.0 -5.0M482.2 405.1h7M485.7 401.6v7M483.2 402.5l5.0 5.0M483.2 407.6l5.0 -5.0M472.1 403.2h7M475.6 399.7v7M473.1 400.7l5.0 5.0M473.1 405.7l5.0 -5.0M481.8 409.6h7M485.3 406.1v7M482.8 407.0l5.0 5.0M482.8 412.1l5.0 -5.0M473.0 407.9h7M476.5 404.4v7M474.0 405.4l5.0 5.0M474.0 410.4l5.0 -5.0M480.9 409.8h7M484.4 406.3v7M481.9 407.3l5.0 5.0M481.9 412.4l5.0 -5.0M489.9 401.7h7M493.4 398.2v7M490.9 399.2l5.0 5.0M490.9 404.2l5.0 -5.0M490.7 404.2h7M494.2 400.7v7M491.7 401.7l5.0 5.0M491.7 406.7l5.0 -5.0M478.9 406.2h7M482.4 402.7v7M479.9 403.7l5.0 5.0M479.9 408.8l5.0 -5.0M478.3 404.5h7M481.8 401.0v7M479.3 401.9l5.0 5.0M479.3 407.0l5.0 -5.0M486.8 402.3h7M490.3 398.8v7M487.8 399.8l5.0 5.0M487.8 404.9l5.0 -5.0M495.3 403.0h7M498.8 399.5v7M496.3 400.5l5.0 5.0M496.3 405.5l5.0 -5.0M490.2 412.4h7M493.7 408.9v7M491.2 409.9l5.0 5.0M491.2 415.0l5.0 -5.0M474.8 405.3h7M478.3 401.8v7M475.7 402.8l5.0 5.0M475.7 407.9l5.0 -5.0" stroke="#0000ff" stroke-width="1.25" fill="none"/>
<path d="M469.6 415.2h7M473.1 411.7v7M470.6 412.7l5.0 5.0M470.6 417.7l5.0 -5.0M467.3 417.7h7M470.8 414.2v7M468.3 415.2l5.0 5.0M468.3 420.2l5.0 -5.0M469.9 408.8h7M473.4 405.3v7M470.9 406.3l5.0 5.0M470.9 411.3l5.0 -5.0M475.8 415.1h7M479.3 411.6v7M476.8 412.6l5.0 5.0M476.8 417.7l5.0 -5.0M468.9 420.3h7M472.4 416.8v7M469.9 417.8l5.0 5.0M469.9 422.9l5.0 -5.0M470.2 419.5h7M473.7 416.0v7M471.2 417.0l5.0 5.0M471.2 422.1l5.0 -5.0M468.6 413.2h7M472.1 409.7v7M469.5 410.7l5.0 5.0M469.5 415.7l5.0 -5.0M475.0 419.4h7M478.5 415.9v7M476.0 416.9l5.0 5.0M476.0 421.9l5.0 -5.0M466.9 413.6h7M470.4 410.1v7M467.9 411.1l5.0 5.0M467.9 416.1l5.0 -5.0M474.9 417.6h7M478.4 414.1v7M475.9 415.1l5.0 5.0M475.9 420.2l5.0 -5.0M470.7 417.6h7M474.2 414.1v7M471.6 415.0l5.0 5.0M471.6 420.1l5.0 -5.0M470.9 419.7h7M474.4 416.2v7M471.9 417.2l5.0 5.0M471.9 422.2l5.0 -5.0M469.4 418.5h7M472.9 415.0v7M470.4 416.0l5.0 5.0M470.4 421.0l5.0 -5.0M468.0 416.3h7M471.5 412.8v7M469.0 413.7l5.0 5.0M469.0 418.8l5.0 -5.0M469.6 412.7h7M473.1 409.2v7M470.6 410.2l5.0 5.0M470.6 415.2l5.0 -5.0M467.4 417.4h7M470.9 413.9v7M468.4 414.9l5.0 5.0M468.4 419.9l5.0 -5.0M473.2 417.2h7M476.7 413.7v7M474.1 414.7l5.0 5.0M474.1 419.7l5.0 -5.0M470.8 416.3h7M474.3 412.8v7M471.8 413.7l5.0 5.0M471.8 418.8l5.0 -5.0" stroke="#0000ff" stroke-width="1.25" fill="none"/>
<path d="M486.5 427.5h7M490.0 424.0v7M487.5 425.0l5.0 5.0M487.5 430.1l5.0 -5.0M488.4 426.0h7M491.9 422.5v7M489.4 423.5l5.0 5.0M489.4 428.5l5.0 -5.0M489.4 428.5h7M492.9 425.0v7M490.4 426.0l5.0 5.0M490.4 431.0l5.0 -5.0M490.6 428.1h7M494.1 424.6v7M491.6 425.6l5.0 5.0M491.6 430.6l5.0 -5.0M492.2 429.3h7M495.7 425.8v7M493.2 426.8l5.0 5.0M493.2 431.9l5.0 -5.0M494.0 429.5h7M497.5 426.0v7M495.0 427.0l5.0 5.0M495.0 432.0l5.0 -5.0M495.6 427.2h7M499.1 423.7v7M496.6 424.7l5.0 5.0M496.6 429.8l5.0 -5.0M497.4 430.4h7M500.9 426.9v7M498.3 427.9l5.0 5.0M498.3 432.9l5.0 -5.0M498.3 426.5h7M501.8 423.0v7M499.3 424.0l5.0 5.0M499.3 429.0l5.0 -5.0M500.6 428.4h7M504.1 424.9v7M501.6 425.9l5.0 5.0M501.6 431.0l5.0 -5.0M502.2 426.9h7M505.7 423.4v7M503.1 424.4l5.0 5.0M503.1 429.4l5.0 -5.0M503.8 427.9h7M507.3 424.4v7M504.7 425.4l5.0 5.0M504.7 430.4l5.0 -5.0M504.9 427.5h7M508.4 424.0v7M505.9 425.0l5.0 5.0M505.9 430.0l5.0 -5.0M507.0 426.8h7M510.5 423.3v7M507.9 424.3l5.0 5.0M507.9 429.3l5.0 -5.0M508.2 429.2h7M511.7 425.7v7M509.1 426.7l5.0 5.0M509.1 431.7l5.0 -5.0M509.6 426.1h7M513.1 422.6v7M510.6 423.5l5.0 5.0M510.6 428.6l5.0 -5.0M511.5 426.2h7M515.0 422.7v7M512.4 423.7l5.0 5.0M512.4 428.7l5.0 -5.0M514.1 429.1h7M517.6 425.6v7M515.0 426.6l5.0 5.0M515.0 431.6l5.0 -5.0M513.5 424.8h7M517.0 421.3v7M514.5 422.3l5.0 5.0M514.5 427.3l5.0 -5.0M516.5 427.5h7M520.0 424.0v7M517.4 424.9l5.0 5.0M517.4 430.0l5.0 -5.0M516.4 423.3h7M519.9 419.8v7M517.4 420.7l5.0 5.0M517.4 425.8l5.0 -5.0" stroke="#0000ff" stroke-width="1.25" fill="none"/>
<path d="M527.9 396.0h7M531.4 392.5v7M528.9 393.5l5.0 5.0M528.9 398.5l5.0 -5.0M525.2 396.3h7M528.7 392.8v7M526.2 393.8l5.0 5.0M526.2 398.8l5.0 -5.0M532.9 400.0h7M536.4 396.5v7M533.9 397.5l5.0 5.0M533.9 402.5l5.0 -5.0M534.0 395.9h7M537.5 392.4v7M535.0 393.4l5.0 5.0M535.0 398.4l5.0 -5.0M526.5 399.0h7M530.0 395.5v7M527.5 396.4l5.0 5.0M527.5 401.5l5.0 -5.0M534.2 399.9h7M537.7 396.4v7M535.1 397.4l5.0 5.0M535.1 402.4l5.0 -5.0M533.4 397.3h7M536.9 393.8v7M534.4 394.8l5.0 5.0M534.4 399.8l5.0 -5.0M533.1 401.3h7M536.6 397.8v7M534.1 398.8l5.0 5.0M534.1 403.8l5.0 -5.0" stroke="#0000ff" stroke-width="1.25" fill="none"/>
<path d="M547.5 421.0h7M551.0 417.5v7M548.5 418.5l5.0 5.0M548.5 423.5l5.0 -5.0M557.5 425.0h7M561.0 421.5v7M558.5 422.5l5.0 5.0M558.5 427.5l5.0 -5.0M567.5 430.0h7M571.0 426.5v7M568.5 427.5l5.0 5.0M568.5 432.5l5.0 -5.0M577.5 434.4h7M581.0 430.9v7M578.5 431.9l5.0 5.0M578.5 436.9l5.0 -5.0M586.1 439.0h7M589.6 435.5v7M587.1 436.5l5.0 5.0M587.1 441.5l5.0 -5.0M594.9 443.6h7M598.4 440.1v7M595.9 441.1l5.0 5.0M595.9 446.1l5.0 -5.0M603.9 449.6h7M607.4 446.1v7M604.9 447.1l5.0 5.0M604.9 452.1l5.0 -5.0M613.1 458.6h7M616.6 455.1v7M614.1 456.1l5.0 5.0M614.1 461.1l5.0 -5.0M619.9 469.6h7M623.4 466.1v7M620.9 467.1l5.0 5.0M620.9 472.1l5.0 -5.0M621.7 481.0h7M625.2 477.5v7M622.7 478.5l5.0 5.0M622.7 483.5l5.0 -5.0M616.5 489.4h7M620.0 485.9v7M617.5 486.9l5.0 5.0M617.5 491.9l5.0 -5.0M605.9 491.6h7M609.4 488.1v7M606.9 489.1l5.0 5.0M606.9 494.1l5.0 -5.0M593.1 487.0h7M596.6 483.5v7M594.1 484.5l5.0 5.0M594.1 489.5l5.0 -5.0M581.5 477.4h7M585.0 473.9v7M582.5 474.9l5.0 5.0M582.5 479.9l5.0 -5.0M571.9 465.6h7M575.4 462.1v7M572.9 463.1l5.0 5.0M572.9 468.1l5.0 -5.0M562.5 453.6h7M566.0 450.1v7M563.5 451.1l5.0 5.0M563.5 456.1l5.0 -5.0M552.5 443.0h7M556.0 439.5v7M553.5 440.5l5.0 5.0M553.5 445.5l5.0 -5.0M541.5 434.4h7M545.0 430.9v7M542.5 431.9l5.0 5.0M542.5 436.9l5.0 -5.0M531.5 426.0h7M535.0 422.5v7M532.5 423.5l5.0 5.0M532.5 428.5l5.0 -5.0" stroke="#0000ff" stroke-width="1.25" fill="none"/>
<path d="M440.5 348.4h7M444.0 344.9v7M441.5 345.9l5.0 5.0M441.5 350.9l5.0 -5.0M441.7 347.3h7M445.2 343.8v7M442.7 344.8l5.0 5.0M442.7 349.9l5.0 -5.0M441.5 344.8h7M445.0 341.3v7M442.4 342.3l5.0 5.0M442.4 347.3l5.0 -5.0M443.4 343.2h7M446.9 339.7v7M444.4 340.7l5.0 5.0M444.4 345.7l5.0 -5.0M444.6 342.7h7M448.1 339.2v7M445.6 340.2l5.0 5.0M445.6 345.2l5.0 -5.0M445.4 341.2h7M448.9 337.7v7M446.4 338.7l5.0 5.0M446.4 343.7l5.0 -5.0M447.1 340.2h7M450.6 336.7v7M448.1 337.7l5.0 5.0M448.1 342.7l5.0 -5.0M447.7 338.0h7M451.2 334.5v7M448.7 335.4l5.0 5.0M448.7 340.5l5.0 -5.0M449.1 337.7h7M452.6 334.2v7M450.1 335.2l5.0 5.0M450.1 340.2l5.0 -5.0M450.2 336.9h7M453.7 333.4v7M451.2 334.3l5.0 5.0M451.2 339.4l5.0 -5.0M451.4 335.2h7M454.9 331.7v7M452.4 332.7l5.0 5.0M452.4 337.7l5.0 -5.0M452.5 333.2h7M456.0 329.7v7M453.5 330.7l5.0 5.0M453.5 335.8l5.0 -5.0M453.4 332.4h7M456.9 328.9v7M454.4 329.9l5.0 5.0M454.4 334.9l5.0 -5.0M454.8 331.0h7M458.3 327.5v7M455.8 328.5l5.0 5.0M455.8 333.5l5.0 -5.0M456.7 330.8h7M460.2 327.3v7M457.7 328.3l5.0 5.0M457.7 333.3l5.0 -5.0M457.8 328.8h7M461.3 325.3v7M458.7 326.2l5.0 5.0M458.7 331.3l5.0 -5.0M458.9 329.0h7M462.4 325.5v7M459.8 326.5l5.0 5.0M459.8 331.6l5.0 -5.0M460.6 328.4h7M464.1 324.9v7M461.6 325.9l5.0 5.0M461.6 330.9l5.0 -5.0M462.7 328.3h7M466.2 324.8v7M463.7 325.8l5.0 5.0M463.7 330.8l5.0 -5.0M464.6 329.5h7M468.1 326.0v7M465.5 327.0l5.0 5.0M465.5 332.0l5.0 -5.0M466.4 330.0h7M469.9 326.5v7M467.4 327.5l5.0 5.0M467.4 332.5l5.0 -5.0M467.9 329.9h7M471.4 326.4v7M468.8 327.4l5.0 5.0M468.8 332.5l5.0 -5.0M468.8 331.1h7M472.3 327.6v7M469.8 328.5l5.0 5.0M469.8 333.6l5.0 -5.0M470.4 331.7h7M473.9 328.2v7M471.4 329.2l5.0 5.0M471.4 334.2l5.0 -5.0M472.2 332.4h7M475.7 328.9v7M473.2 329.9l5.0 5.0M473.2 335.0l5.0 -5.0" stroke="#00ffff" stroke-width="1.25" fill="none"/>
<path d="M440.6 350.8h7M444.1 347.3v7M441.6 348.3l5.0 5.0M441.6 353.3l5.0 -5.0M441.9 349.0h7M445.4 345.5v7M442.8 346.5l5.0 5.0M442.8 351.5l5.0 -5.0M444.6 349.9h7M448.1 346.4v7M445.6 347.4l5.0 5.0M445.6 352.4l5.0 -5.0M446.2 350.0h7M449.7 346.5v7M447.1 347.5l5.0 5.0M447.1 352.5l5.0 -5.0M449.0 349.6h7M452.5 346.1v7M450.0 347.1l5.0 5.0M450.0 352.2l5.0 -5.0M449.9 349.1h7M453.4 345.6v7M450.9 346.6l5.0 5.0M450.9 351.7l5.0 -5.0M451.9 349.8h7M455.4 346.3v7M452.8 347.3l5.0 5.0M452.8 352.3l5.0 -5.0M454.7 350.4h7M458.2 346.9v7M455.7 347.8l5.0 5.0M455.7 352.9l5.0 -5.0M456.9 349.8h7M460.4 346.3v7M457.9 347.3l5.0 5.0M457.9 352.3l5.0 -5.0" stroke="#00ffff" stroke-width="1.25" fill="none"/>
<path d="M462.5 336.0h7M466.0 332.5v7M463.5 333.5l5.0 5.0M463.5 338.5l5.0 -5.0M465.5 346.0h7M469.0 342.5v7M466.5 343.5l5.0 5.0M466.5 348.5l5.0 -5.0M463.5 353.0h7M467.0 349.5v7M464.5 350.5l5.0 5.0M464.5 355.5l5.0 -5.0M470.5 358.0h7M474.0 354.5v7M471.5 355.5l5.0 5.0M471.5 360.5l5.0 -5.0M478.5 344.0h7M482.0 340.5v7M479.5 341.5l5.0 5.0M479.5 346.5l5.0 -5.0M488.5 346.0h7M492.0 342.5v7M489.5 343.5l5.0 5.0M489.5 348.5l5.0 -5.0M446.5 386.0h7M450.0 382.5v7M447.5 383.5l5.0 5.0M447.5 388.5l5.0 -5.0M454.5 390.0h7M458.0 386.5v7M455.5 387.5l5.0 5.0M455.5 392.5l5.0 -5.0M456.5 378.0h7M460.0 374.5v7M457.5 375.5l5.0 5.0M457.5 380.5l5.0 -5.0M473.5 379.0h7M477.0 375.5v7M474.5 376.5l5.0 5.0M474.5 381.5l5.0 -5.0M482.5 380.0h7M486.0 376.5v7M483.5 377.5l5.0 5.0M483.5 382.5l5.0 -5.0M488.5 366.0h7M492.0 362.5v7M489.5 363.5l5.0 5.0M489.5 368.5l5.0 -5.0M502.5 363.0h7M506.0 359.5v7M503.5 360.5l5.0 5.0M503.5 365.5l5.0 -5.0M507.5 368.0h7M511.0 364.5v7M508.5 365.5l5.0 5.0M508.5 370.5l5.0 -5.0M498.5 378.0h7M502.0 374.5v7M499.5 375.5l5.0 5.0M499.5 380.5l5.0 -5.0M510.5 380.0h7M514.0 376.5v7M511.5 377.5l5.0 5.0M511.5 382.5l5.0 -5.0M508.5 388.0h7M512.0 384.5v7M509.5 385.5l5.0 5.0M509.5 390.5l5.0 -5.0M505.5 394.0h7M509.0 390.5v7M506.5 391.5l5.0 5.0M506.5 396.5l5.0 -5.0" stroke="#00ffff" stroke-width="1.25" fill="none"/>
<path d="M459.0 377.5h7M462.5 374.0v7M460.0 375.0l5.0 5.0M460.0 380.0l5.0 -5.0M475.2 378.8h7M478.8 375.2v7M476.2 376.2l5.0 5.0M476.2 381.3l5.0 -5.0M481.5 380.0h7M485.0 376.5v7M482.5 377.5l5.0 5.0M482.5 382.5l5.0 -5.0M485.2 377.5h7M488.8 374.0v7M486.2 375.0l5.0 5.0M486.2 380.0l5.0 -5.0M500.2 377.5h7M503.8 374.0v7M501.2 375.0l5.0 5.0M501.2 380.0l5.0 -5.0M509.0 380.0h7M512.5 376.5v7M510.0 377.5l5.0 5.0M510.0 382.5l5.0 -5.0M511.5 383.8h7M515.0 380.2v7M512.5 381.2l5.0 5.0M512.5 386.3l5.0 -5.0M506.5 392.5h7M510.0 389.0v7M507.5 390.0l5.0 5.0M507.5 395.0l5.0 -5.0M472.8 395.0h7M476.2 391.5v7M473.7 392.5l5.0 5.0M473.7 397.5l5.0 -5.0M457.8 388.8h7M461.2 385.2v7M458.7 386.2l5.0 5.0M458.7 391.3l5.0 -5.0M471.5 392.5h7M475.0 389.0v7M472.5 390.0l5.0 5.0M472.5 395.0l5.0 -5.0M470.2 411.2h7M473.8 407.8v7M471.2 408.7l5.0 5.0M471.2 413.8l5.0 -5.0M469.0 417.5h7M472.5 414.0v7M470.0 415.0l5.0 5.0M470.0 420.0l5.0 -5.0M516.5 401.2h7M520.0 397.8v7M517.5 398.7l5.0 5.0M517.5 403.8l5.0 -5.0M515.9 405.0h7M519.4 401.5v7M516.9 402.5l5.0 5.0M516.9 407.5l5.0 -5.0" stroke="#00ffff" stroke-width="1.25" fill="none"/>
<path d="M410.5 369.0h7M414.0 365.5v7M411.5 366.5l5.0 5.0M411.5 371.5l5.0 -5.0M415.0 368.5h7M418.5 365.0v7M416.0 366.0l5.0 5.0M416.0 371.0l5.0 -5.0M419.5 368.0h7M423.0 364.5v7M420.5 365.5l5.0 5.0M420.5 370.5l5.0 -5.0M424.5 367.5h7M428.0 364.0v7M425.5 365.0l5.0 5.0M425.5 370.0l5.0 -5.0M429.5 367.5h7M433.0 364.0v7M430.5 365.0l5.0 5.0M430.5 370.0l5.0 -5.0" stroke="#00ffff" stroke-width="1.25" fill="none"/>
<path d="M432.8 367.8h7M436.3 364.3v7M433.8 365.2l5.0 5.0M433.8 370.3l5.0 -5.0M434.5 367.6h7M438.0 364.1v7M435.5 365.1l5.0 5.0M435.5 370.1l5.0 -5.0M435.9 367.2h7M439.4 363.7v7M436.9 364.7l5.0 5.0M436.9 369.7l5.0 -5.0M438.3 367.9h7M441.8 364.4v7M439.3 365.4l5.0 5.0M439.3 370.4l5.0 -5.0M439.1 369.0h7M442.6 365.5v7M440.1 366.5l5.0 5.0M440.1 371.5l5.0 -5.0M441.8 368.8h7M445.3 365.3v7M442.8 366.3l5.0 5.0M442.8 371.3l5.0 -5.0M443.0 370.1h7M446.5 366.6v7M443.9 367.6l5.0 5.0M443.9 372.6l5.0 -5.0M445.4 368.9h7M448.9 365.4v7M446.4 366.4l5.0 5.0M446.4 371.4l5.0 -5.0M447.0 369.3h7M450.5 365.8v7M448.0 366.8l5.0 5.0M448.0 371.8l5.0 -5.0M448.1 369.9h7M451.6 366.4v7M449.1 367.4l5.0 5.0M449.1 372.4l5.0 -5.0M450.4 370.2h7M453.9 366.7v7M451.3 367.7l5.0 5.0M451.3 372.7l5.0 -5.0M452.2 371.0h7M455.7 367.5v7M453.2 368.5l5.0 5.0M453.2 373.6l5.0 -5.0M453.4 373.1h7M456.9 369.6v7M454.4 370.6l5.0 5.0M454.4 375.6l5.0 -5.0" stroke="#00ffff" stroke-width="1.25" fill="none"/>
<path d="M422.7 373.0h7M426.2 369.5v7M423.7 370.5l5.0 5.0M423.7 375.5l5.0 -5.0M424.6 373.7h7M428.1 370.2v7M425.6 371.2l5.0 5.0M425.6 376.2l5.0 -5.0M426.8 373.4h7M430.3 369.9v7M427.8 370.9l5.0 5.0M427.8 375.9l5.0 -5.0M430.4 373.8h7M433.9 370.3v7M431.4 371.2l5.0 5.0M431.4 376.3l5.0 -5.0M432.4 373.4h7M435.9 369.9v7M433.3 370.8l5.0 5.0M433.3 375.9l5.0 -5.0M435.2 373.3h7M438.7 369.8v7M436.2 370.8l5.0 5.0M436.2 375.8l5.0 -5.0M436.6 373.2h7M440.1 369.7v7M437.5 370.7l5.0 5.0M437.5 375.7l5.0 -5.0M439.7 373.9h7M443.2 370.4v7M440.6 371.4l5.0 5.0M440.6 376.5l5.0 -5.0M441.1 374.2h7M444.6 370.7v7M442.0 371.7l5.0 5.0M442.0 376.7l5.0 -5.0M443.4 374.5h7M446.9 371.0v7M444.4 372.0l5.0 5.0M444.4 377.0l5.0 -5.0M447.1 374.3h7M450.6 370.8v7M448.1 371.8l5.0 5.0M448.1 376.8l5.0 -5.0" stroke="#00ffff" stroke-width="1.25" fill="none"/>
<path d="M497.1 420.1h7M500.6 416.6v7M498.1 417.6l5.0 5.0M498.1 422.7l5.0 -5.0M498.6 418.8h7M502.1 415.3v7M499.6 416.2l5.0 5.0M499.6 421.3l5.0 -5.0M500.5 418.2h7M504.0 414.7v7M501.5 415.7l5.0 5.0M501.5 420.7l5.0 -5.0M501.9 418.3h7M505.4 414.8v7M502.9 415.8l5.0 5.0M502.9 420.8l5.0 -5.0M503.8 419.2h7M507.3 415.7v7M504.8 416.6l5.0 5.0M504.8 421.7l5.0 -5.0M504.4 418.2h7M507.9 414.7v7M505.3 415.7l5.0 5.0M505.3 420.7l5.0 -5.0M506.5 419.1h7M510.0 415.6v7M507.5 416.6l5.0 5.0M507.5 421.6l5.0 -5.0M507.8 416.6h7M511.3 413.1v7M508.7 414.1l5.0 5.0M508.7 419.1l5.0 -5.0M509.7 416.9h7M513.2 413.4v7M510.7 414.4l5.0 5.0M510.7 419.5l5.0 -5.0M511.2 418.5h7M514.7 415.0v7M512.1 416.0l5.0 5.0M512.1 421.0l5.0 -5.0M512.5 418.7h7M516.0 415.2v7M513.5 416.2l5.0 5.0M513.5 421.2l5.0 -5.0M513.5 419.6h7M517.0 416.1v7M514.5 417.1l5.0 5.0M514.5 422.1l5.0 -5.0M515.5 417.4h7M519.0 413.9v7M516.5 414.9l5.0 5.0M516.5 420.0l5.0 -5.0" stroke="#00ffff" stroke-width="1.25" fill="none"/>
<path d="M526.9 399.3h7M530.4 395.8v7M527.8 396.8l5.0 5.0M527.8 401.8l5.0 -5.0M528.2 399.2h7M531.7 395.7v7M529.2 396.7l5.0 5.0M529.2 401.7l5.0 -5.0M529.5 400.1h7M533.0 396.6v7M530.5 397.6l5.0 5.0M530.5 402.7l5.0 -5.0M531.4 401.4h7M534.9 397.9v7M532.4 398.9l5.0 5.0M532.4 404.0l5.0 -5.0M532.4 401.9h7M535.9 398.4v7M533.3 399.4l5.0 5.0M533.3 404.4l5.0 -5.0M533.7 400.1h7M537.2 396.6v7M534.7 397.6l5.0 5.0M534.7 402.7l5.0 -5.0M535.6 401.1h7M539.1 397.6v7M536.6 398.6l5.0 5.0M536.6 403.6l5.0 -5.0M537.0 399.9h7M540.5 396.4v7M538.0 397.4l5.0 5.0M538.0 402.5l5.0 -5.0M538.2 399.5h7M541.7 396.0v7M539.2 396.9l5.0 5.0M539.2 402.0l5.0 -5.0M540.2 399.8h7M543.7 396.3v7M541.2 397.3l5.0 5.0M541.2 402.4l5.0 -5.0M541.5 398.5h7M545.0 395.0v7M542.5 395.9l5.0 5.0M542.5 401.0l5.0 -5.0M543.3 399.6h7M546.8 396.1v7M544.3 397.1l5.0 5.0M544.3 402.1l5.0 -5.0M544.8 400.7h7M548.3 397.2v7M545.8 398.2l5.0 5.0M545.8 403.2l5.0 -5.0M545.7 400.5h7M549.2 397.0v7M546.7 397.9l5.0 5.0M546.7 403.0l5.0 -5.0M547.1 400.2h7M550.6 396.7v7M548.1 397.7l5.0 5.0M548.1 402.7l5.0 -5.0M548.9 401.4h7M552.4 397.9v7M549.8 398.8l5.0 5.0M549.8 403.9l5.0 -5.0M550.6 401.3h7M554.1 397.8v7M551.5 398.8l5.0 5.0M551.5 403.8l5.0 -5.0M551.6 402.2h7M555.1 398.7v7M552.6 399.7l5.0 5.0M552.6 404.7l5.0 -5.0" stroke="#00ffff" stroke-width="1.25" fill="none"/>
<path d="M530.4 402.6h7M533.9 399.1v7M531.4 400.1l5.0 5.0M531.4 405.1l5.0 -5.0M530.1 405.0h7M533.6 401.5v7M531.1 402.5l5.0 5.0M531.1 407.5l5.0 -5.0M531.2 409.4h7M534.7 405.9v7M532.2 406.9l5.0 5.0M532.2 411.9l5.0 -5.0M528.4 402.0h7M531.9 398.5v7M529.3 399.5l5.0 5.0M529.3 404.5l5.0 -5.0M531.4 404.7h7M534.9 401.2v7M532.4 402.2l5.0 5.0M532.4 407.2l5.0 -5.0M530.6 406.0h7M534.1 402.5v7M531.6 403.5l5.0 5.0M531.6 408.5l5.0 -5.0M529.4 401.1h7M532.9 397.6v7M530.4 398.6l5.0 5.0M530.4 403.6l5.0 -5.0M532.9 405.4h7M536.4 401.9v7M533.8 402.9l5.0 5.0M533.8 407.9l5.0 -5.0M524.3 406.6h7M527.8 403.1v7M525.3 404.1l5.0 5.0M525.3 409.1l5.0 -5.0M532.2 405.7h7M535.7 402.2v7M533.2 403.2l5.0 5.0M533.2 408.2l5.0 -5.0M530.0 401.9h7M533.5 398.4v7M530.9 399.4l5.0 5.0M530.9 404.4l5.0 -5.0M525.2 404.2h7M528.7 400.7v7M526.2 401.7l5.0 5.0M526.2 406.8l5.0 -5.0" stroke="#00ffff" stroke-width="1.25" fill="none"/>
<path d="M477.5 438.1h7M481.0 434.6v7M478.5 435.5l5.0 5.0M478.5 440.6l5.0 -5.0M477.1 436.7h7M480.6 433.2v7M478.0 434.2l5.0 5.0M478.0 439.2l5.0 -5.0M485.8 433.8h7M489.3 430.3v7M486.8 431.3l5.0 5.0M486.8 436.4l5.0 -5.0M486.8 439.0h7M490.3 435.5v7M487.7 436.5l5.0 5.0M487.7 441.5l5.0 -5.0M484.3 436.0h7M487.8 432.5v7M485.3 433.5l5.0 5.0M485.3 438.5l5.0 -5.0M484.9 438.8h7M488.4 435.3v7M485.9 436.3l5.0 5.0M485.9 441.4l5.0 -5.0M489.2 435.0h7M492.7 431.5v7M490.1 432.5l5.0 5.0M490.1 437.5l5.0 -5.0M481.5 440.3h7M485.0 436.8v7M482.5 437.8l5.0 5.0M482.5 442.8l5.0 -5.0M487.1 435.0h7M490.6 431.5v7M488.1 432.4l5.0 5.0M488.1 437.5l5.0 -5.0M487.3 433.4h7M490.8 429.9v7M488.3 430.9l5.0 5.0M488.3 435.9l5.0 -5.0M488.7 437.8h7M492.2 434.3v7M489.7 435.3l5.0 5.0M489.7 440.3l5.0 -5.0M489.7 436.7h7M493.2 433.2v7M490.7 434.2l5.0 5.0M490.7 439.2l5.0 -5.0M486.2 435.1h7M489.7 431.6v7M487.1 432.6l5.0 5.0M487.1 437.6l5.0 -5.0M482.4 433.1h7M485.9 429.6v7M483.4 430.5l5.0 5.0M483.4 435.6l5.0 -5.0M486.6 435.2h7M490.1 431.7v7M487.6 432.7l5.0 5.0M487.6 437.7l5.0 -5.0M483.0 440.2h7M486.5 436.7v7M484.0 437.7l5.0 5.0M484.0 442.8l5.0 -5.0" stroke="#00ffff" stroke-width="1.25" fill="none"/>
<path d="M484.7 327.0h7M488.2 323.5v7M485.7 324.5l5.0 5.0M485.7 329.6l5.0 -5.0M482.9 328.8h7M486.4 325.3v7M483.9 326.2l5.0 5.0M483.9 331.3l5.0 -5.0M482.6 330.0h7M486.1 326.5v7M483.6 327.5l5.0 5.0M483.6 332.5l5.0 -5.0M480.8 331.1h7M484.3 327.6v7M481.8 328.6l5.0 5.0M481.8 333.7l5.0 -5.0M480.0 332.8h7M483.5 329.3v7M481.0 330.3l5.0 5.0M481.0 335.3l5.0 -5.0M478.8 334.4h7M482.3 330.9v7M479.8 331.9l5.0 5.0M479.8 336.9l5.0 -5.0M477.7 336.4h7M481.2 332.9v7M478.7 333.9l5.0 5.0M478.7 338.9l5.0 -5.0M477.5 337.7h7M481.0 334.2v7M478.4 335.2l5.0 5.0M478.4 340.2l5.0 -5.0M475.8 339.4h7M479.3 335.9v7M476.8 336.9l5.0 5.0M476.8 341.9l5.0 -5.0M475.1 340.5h7M478.6 337.0v7M476.1 338.0l5.0 5.0M476.1 343.0l5.0 -5.0M474.2 342.2h7M477.7 338.7v7M475.1 339.7l5.0 5.0M475.1 344.8l5.0 -5.0M473.2 343.3h7M476.7 339.8v7M474.2 340.7l5.0 5.0M474.2 345.8l5.0 -5.0M472.7 345.1h7M476.2 341.6v7M473.7 342.6l5.0 5.0M473.7 347.6l5.0 -5.0M471.1 346.9h7M474.6 343.4v7M472.1 344.4l5.0 5.0M472.1 349.4l5.0 -5.0M470.1 347.8h7M473.6 344.3v7M471.1 345.3l5.0 5.0M471.1 350.4l5.0 -5.0M469.4 349.7h7M472.9 346.2v7M470.4 347.1l5.0 5.0M470.4 352.2l5.0 -5.0M467.9 350.4h7M471.4 346.9v7M468.9 347.9l5.0 5.0M468.9 352.9l5.0 -5.0M466.7 352.2h7M470.2 348.7v7M467.7 349.6l5.0 5.0M467.7 354.7l5.0 -5.0" stroke="#ff00ff" stroke-width="1.25" fill="none"/>
<path d="M462.5 360.0h7M466.0 356.5v7M463.5 357.5l5.0 5.0M463.5 362.5l5.0 -5.0M458.5 368.0h7M462.0 364.5v7M459.5 365.5l5.0 5.0M459.5 370.5l5.0 -5.0M454.5 375.0h7M458.0 371.5v7M455.5 372.5l5.0 5.0M455.5 377.5l5.0 -5.0" stroke="#ff00ff" stroke-width="1.25" fill="none"/>
<path d="M484.3 327.4h7M487.8 323.9v7M485.3 324.9l5.0 5.0M485.3 329.9l5.0 -5.0M485.4 329.4h7M488.9 325.9v7M486.4 326.9l5.0 5.0M486.4 332.0l5.0 -5.0M486.5 330.5h7M490.0 327.0v7M487.4 328.0l5.0 5.0M487.4 333.0l5.0 -5.0M487.4 331.7h7M490.9 328.2v7M488.4 329.2l5.0 5.0M488.4 334.2l5.0 -5.0M488.8 333.8h7M492.3 330.3v7M489.8 331.3l5.0 5.0M489.8 336.3l5.0 -5.0M490.0 334.6h7M493.5 331.1v7M490.9 332.1l5.0 5.0M490.9 337.1l5.0 -5.0M490.7 336.4h7M494.2 332.9v7M491.7 333.8l5.0 5.0M491.7 338.9l5.0 -5.0M491.4 338.1h7M494.9 334.6v7M492.4 335.6l5.0 5.0M492.4 340.7l5.0 -5.0M492.4 339.0h7M495.9 335.5v7M493.4 336.5l5.0 5.0M493.4 341.5l5.0 -5.0M493.9 341.2h7M497.4 337.7v7M494.9 338.7l5.0 5.0M494.9 343.7l5.0 -5.0M494.6 342.7h7M498.1 339.2v7M495.6 340.2l5.0 5.0M495.6 345.3l5.0 -5.0M495.4 344.5h7M498.9 341.0v7M496.4 342.0l5.0 5.0M496.4 347.0l5.0 -5.0M496.3 346.1h7M499.8 342.6v7M497.3 343.6l5.0 5.0M497.3 348.7l5.0 -5.0M496.9 347.5h7M500.4 344.0v7M497.9 345.0l5.0 5.0M497.9 350.0l5.0 -5.0M497.7 348.3h7M501.2 344.8v7M498.7 345.8l5.0 5.0M498.7 350.8l5.0 -5.0M498.4 350.5h7M501.9 347.0v7M499.4 348.0l5.0 5.0M499.4 353.0l5.0 -5.0M499.6 351.8h7M503.1 348.3v7M500.6 349.3l5.0 5.0M500.6 354.3l5.0 -5.0M500.1 353.9h7M503.6 350.4v7M501.1 351.4l5.0 5.0M501.1 356.4l5.0 -5.0M500.0 354.9h7M503.5 351.4v7M501.0 352.4l5.0 5.0M501.0 357.4l5.0 -5.0M498.9 356.3h7M502.4 352.8v7M499.9 353.8l5.0 5.0M499.9 358.8l5.0 -5.0M497.3 358.2h7M500.8 354.7v7M498.2 355.7l5.0 5.0M498.2 360.7l5.0 -5.0M496.5 358.7h7M500.0 355.2v7M497.5 356.2l5.0 5.0M497.5 361.2l5.0 -5.0M494.6 358.6h7M498.1 355.1v7M495.6 356.1l5.0 5.0M495.6 361.1l5.0 -5.0M492.5 359.5h7M496.0 356.0v7M493.5 356.9l5.0 5.0M493.5 362.0l5.0 -5.0M490.9 359.3h7M494.4 355.8v7M491.9 356.8l5.0 5.0M491.9 361.8l5.0 -5.0M489.2 360.0h7M492.7 356.5v7M490.2 357.4l5.0 5.0M490.2 362.5l5.0 -5.0M486.6 359.7h7M490.1 356.2v7M487.6 357.2l5.0 5.0M487.6 362.2l5.0 -5.0M485.2 360.4h7M488.7 356.9v7M486.2 357.8l5.0 5.0M486.2 362.9l5.0 -5.0M483.2 360.2h7M486.7 356.7v7M484.2 357.7l5.0 5.0M484.2 362.7l5.0 -5.0M482.4 360.9h7M485.9 357.4v7M483.3 358.4l5.0 5.0M483.3 363.4l5.0 -5.0M480.0 361.1h7M483.5 357.6v7M481.0 358.6l5.0 5.0M481.0 363.7l5.0 -5.0M477.8 361.3h7M481.3 357.8v7M478.8 358.8l5.0 5.0M478.8 363.8l5.0 -5.0M476.5 361.4h7M480.0 357.9v7M477.5 358.9l5.0 5.0M477.5 364.0l5.0 -5.0M474.4 361.9h7M477.9 358.4v7M475.3 359.4l5.0 5.0M475.3 364.4l5.0 -5.0M473.5 362.5h7M477.0 359.0v7M474.5 360.0l5.0 5.0M474.5 365.0l5.0 -5.0M472.1 363.5h7M475.6 360.0v7M473.1 361.0l5.0 5.0M473.1 366.0l5.0 -5.0M470.3 365.1h7M473.8 361.6v7M471.2 362.6l5.0 5.0M471.2 367.6l5.0 -5.0M469.3 365.8h7M472.8 362.3v7M470.2 363.2l5.0 5.0M470.2 368.3l5.0 -5.0M468.4 367.5h7M471.9 364.0v7M469.4 364.9l5.0 5.0M469.4 370.0l5.0 -5.0M467.4 369.4h7M470.9 365.9v7M468.4 366.9l5.0 5.0M468.4 371.9l5.0 -5.0M467.2 371.3h7M470.7 367.8v7M468.2 368.8l5.0 5.0M468.2 373.8l5.0 -5.0M466.8 372.4h7M470.3 368.9v7M467.8 369.8l5.0 5.0M467.8 374.9l5.0 -5.0M465.6 374.5h7M469.1 371.0v7M466.6 371.9l5.0 5.0M466.6 377.0l5.0 -5.0M465.5 375.5h7M469.0 372.0v7M466.5 373.0l5.0 5.0M466.5 378.1l5.0 -5.0M465.8 377.6h7M469.3 374.1v7M466.8 375.1l5.0 5.0M466.8 380.1l5.0 -5.0M465.4 379.6h7M468.9 376.1v7M466.4 377.1l5.0 5.0M466.4 382.1l5.0 -5.0M465.8 381.4h7M469.3 377.9v7M466.7 378.8l5.0 5.0M466.7 383.9l5.0 -5.0M465.9 382.9h7M469.4 379.4v7M466.9 380.3l5.0 5.0M466.9 385.4l5.0 -5.0M465.7 384.6h7M469.2 381.1v7M466.7 382.1l5.0 5.0M466.7 387.1l5.0 -5.0M465.9 387.0h7M469.4 383.5v7M466.8 384.4l5.0 5.0M466.8 389.5l5.0 -5.0M466.3 388.4h7M469.8 384.9v7M467.2 385.9l5.0 5.0M467.2 390.9l5.0 -5.0M466.8 390.2h7M470.3 386.7v7M467.8 387.7l5.0 5.0M467.8 392.7l5.0 -5.0M467.0 392.5h7M470.5 389.0v7M467.9 390.0l5.0 5.0M467.9 395.0l5.0 -5.0M467.8 394.0h7M471.3 390.5v7M468.8 391.5l5.0 5.0M468.8 396.5l5.0 -5.0M467.9 395.5h7M471.4 392.0v7M468.9 393.0l5.0 5.0M468.9 398.0l5.0 -5.0M469.3 397.0h7M472.8 393.5v7M470.3 394.5l5.0 5.0M470.3 399.5l5.0 -5.0M469.9 398.5h7M473.4 395.0v7M470.9 396.0l5.0 5.0M470.9 401.0l5.0 -5.0M471.6 399.6h7M475.1 396.1v7M472.6 397.0l5.0 5.0M472.6 402.1l5.0 -5.0" stroke="#ff00ff" stroke-width="1.25" fill="none"/>
<path d="M466.4 373.5h7M469.9 370.0v7M467.3 371.0l5.0 5.0M467.3 376.1l5.0 -5.0M467.6 375.1h7M471.1 371.6v7M468.6 372.6l5.0 5.0M468.6 377.6l5.0 -5.0M468.9 376.6h7M472.4 373.1v7M469.9 374.0l5.0 5.0M469.9 379.1l5.0 -5.0M469.9 377.6h7M473.4 374.1v7M470.9 375.1l5.0 5.0M470.9 380.1l5.0 -5.0M471.5 379.4h7M475.0 375.9v7M472.5 376.9l5.0 5.0M472.5 381.9l5.0 -5.0M472.8 380.2h7M476.3 376.7v7M473.8 377.6l5.0 5.0M473.8 382.7l5.0 -5.0M473.4 382.6h7M476.9 379.1v7M474.4 380.0l5.0 5.0M474.4 385.1l5.0 -5.0M474.9 383.7h7M478.4 380.2v7M475.9 381.2l5.0 5.0M475.9 386.3l5.0 -5.0M475.4 385.1h7M478.9 381.6v7M476.3 382.6l5.0 5.0M476.3 387.6l5.0 -5.0M475.8 386.6h7M479.3 383.1v7M476.8 384.1l5.0 5.0M476.8 389.1l5.0 -5.0M476.8 388.3h7M480.3 384.8v7M477.8 385.7l5.0 5.0M477.8 390.8l5.0 -5.0M477.7 390.6h7M481.2 387.1v7M478.7 388.0l5.0 5.0M478.7 393.1l5.0 -5.0M478.2 391.5h7M481.7 388.0v7M479.2 389.0l5.0 5.0M479.2 394.0l5.0 -5.0M480.0 392.7h7M483.5 389.2v7M481.0 390.2l5.0 5.0M481.0 395.2l5.0 -5.0M480.9 393.9h7M484.4 390.4v7M481.9 391.4l5.0 5.0M481.9 396.4l5.0 -5.0M482.6 395.5h7M486.1 392.0v7M483.6 392.9l5.0 5.0M483.6 398.0l5.0 -5.0M484.6 396.1h7M488.1 392.6v7M485.6 393.6l5.0 5.0M485.6 398.6l5.0 -5.0" stroke="#ff00ff" stroke-width="1.25" fill="none"/>
<path d="M454.0 375.0h7M457.5 371.5v7M454.9 372.5l5.0 5.0M454.9 377.5l5.0 -5.0M452.9 375.5h7M456.4 372.0v7M453.9 373.0l5.0 5.0M453.9 378.1l5.0 -5.0M450.9 376.1h7M454.4 372.6v7M451.9 373.6l5.0 5.0M451.9 378.6l5.0 -5.0M449.8 376.8h7M453.3 373.3v7M450.8 374.3l5.0 5.0M450.8 379.4l5.0 -5.0M448.5 377.9h7M452.0 374.4v7M449.5 375.3l5.0 5.0M449.5 380.4l5.0 -5.0M446.5 378.6h7M450.0 375.1v7M447.5 376.1l5.0 5.0M447.5 381.2l5.0 -5.0M444.4 379.3h7M447.9 375.8v7M445.3 376.8l5.0 5.0M445.3 381.9l5.0 -5.0M443.0 379.9h7M446.5 376.4v7M444.0 377.3l5.0 5.0M444.0 382.4l5.0 -5.0M441.2 380.7h7M444.7 377.2v7M442.2 378.2l5.0 5.0M442.2 383.2l5.0 -5.0M439.0 381.4h7M442.5 377.9v7M440.0 378.9l5.0 5.0M440.0 383.9l5.0 -5.0M438.2 382.4h7M441.7 378.9v7M439.2 379.9l5.0 5.0M439.2 384.9l5.0 -5.0M436.3 383.2h7M439.8 379.7v7M437.3 380.6l5.0 5.0M437.3 385.7l5.0 -5.0M435.1 383.7h7M438.6 380.2v7M436.1 381.2l5.0 5.0M436.1 386.2l5.0 -5.0M433.9 385.1h7M437.4 381.6v7M434.9 382.6l5.0 5.0M434.9 387.7l5.0 -5.0M433.5 387.3h7M437.0 383.8v7M434.5 384.7l5.0 5.0M434.5 389.8l5.0 -5.0M433.7 388.7h7M437.2 385.2v7M434.7 386.2l5.0 5.0M434.7 391.3l5.0 -5.0M432.8 390.9h7M436.3 387.4v7M433.7 388.4l5.0 5.0M433.7 393.4l5.0 -5.0M432.2 392.1h7M435.7 388.6v7M433.2 389.6l5.0 5.0M433.2 394.6l5.0 -5.0M433.8 394.2h7M437.3 390.7v7M434.8 391.7l5.0 5.0M434.8 396.7l5.0 -5.0M433.6 395.4h7M437.1 391.9v7M434.6 392.9l5.0 5.0M434.6 397.9l5.0 -5.0M434.8 397.0h7M438.3 393.5v7M435.7 394.5l5.0 5.0M435.7 399.6l5.0 -5.0M435.5 398.8h7M439.0 395.3v7M436.5 396.2l5.0 5.0M436.5 401.3l5.0 -5.0M437.1 399.7h7M440.6 396.2v7M438.0 397.2l5.0 5.0M438.0 402.2l5.0 -5.0M438.6 400.3h7M442.1 396.8v7M439.6 397.8l5.0 5.0M439.6 402.8l5.0 -5.0M440.3 401.5h7M443.8 398.0v7M441.2 398.9l5.0 5.0M441.2 404.0l5.0 -5.0M441.6 402.1h7M445.1 398.6v7M442.5 399.6l5.0 5.0M442.5 404.6l5.0 -5.0M443.4 403.9h7M446.9 400.4v7M444.4 401.3l5.0 5.0M444.4 406.4l5.0 -5.0M444.3 404.5h7M447.8 401.0v7M445.3 401.9l5.0 5.0M445.3 407.0l5.0 -5.0M445.5 405.8h7M449.0 402.3v7M446.4 403.3l5.0 5.0M446.4 408.3l5.0 -5.0M444.1 407.2h7M447.6 403.7v7M445.1 404.6l5.0 5.0M445.1 409.7l5.0 -5.0M442.0 407.9h7M445.5 404.4v7M443.0 405.4l5.0 5.0M443.0 410.4l5.0 -5.0M440.8 409.2h7M444.3 405.7v7M441.7 406.7l5.0 5.0M441.7 411.7l5.0 -5.0M439.2 410.2h7M442.7 406.7v7M440.2 407.7l5.0 5.0M440.2 412.7l5.0 -5.0M437.8 410.6h7M441.3 407.1v7M438.8 408.1l5.0 5.0M438.8 413.1l5.0 -5.0M435.6 411.9h7M439.1 408.4v7M436.6 409.4l5.0 5.0M436.6 414.4l5.0 -5.0M434.2 412.1h7M437.7 408.6v7M435.2 409.6l5.0 5.0M435.2 414.6l5.0 -5.0M432.9 412.8h7M436.4 409.3v7M433.8 410.3l5.0 5.0M433.8 415.3l5.0 -5.0M430.9 414.1h7M434.4 410.6v7M431.9 411.6l5.0 5.0M431.9 416.6l5.0 -5.0M429.6 414.8h7M433.1 411.3v7M430.5 412.2l5.0 5.0M430.5 417.3l5.0 -5.0M427.7 415.4h7M431.2 411.9v7M428.7 412.9l5.0 5.0M428.7 417.9l5.0 -5.0M426.4 416.5h7M429.9 413.0v7M427.4 414.0l5.0 5.0M427.4 419.1l5.0 -5.0M424.8 417.8h7M428.3 414.3v7M425.8 415.3l5.0 5.0M425.8 420.3l5.0 -5.0M423.3 418.7h7M426.8 415.2v7M424.3 416.2l5.0 5.0M424.3 421.2l5.0 -5.0M421.7 419.4h7M425.2 415.9v7M422.7 416.9l5.0 5.0M422.7 421.9l5.0 -5.0M420.8 420.3h7M424.3 416.8v7M421.8 417.8l5.0 5.0M421.8 422.8l5.0 -5.0M419.0 421.6h7M422.5 418.1v7M420.0 419.0l5.0 5.0M420.0 424.1l5.0 -5.0M417.7 422.7h7M421.2 419.2v7M418.7 420.2l5.0 5.0M418.7 425.2l5.0 -5.0M416.5 423.9h7M420.0 420.4v7M417.4 421.4l5.0 5.0M417.4 426.4l5.0 -5.0M415.4 425.3h7M418.9 421.8v7M416.4 422.8l5.0 5.0M416.4 427.8l5.0 -5.0M413.6 426.4h7M417.1 422.9v7M414.6 423.9l5.0 5.0M414.6 428.9l5.0 -5.0M412.9 427.5h7M416.4 424.0v7M413.9 425.0l5.0 5.0M413.9 430.0l5.0 -5.0M411.2 428.3h7M414.7 424.8v7M412.2 425.7l5.0 5.0M412.2 430.8l5.0 -5.0M409.8 429.9h7M413.3 426.4v7M410.8 427.4l5.0 5.0M410.8 432.4l5.0 -5.0" stroke="#ff00ff" stroke-width="1.25" fill="none"/>
<path d="M410.1 429.9h7M413.6 426.4v7M411.1 427.4l5.0 5.0M411.1 432.5l5.0 -5.0M411.0 431.8h7M414.5 428.3v7M412.0 429.3l5.0 5.0M412.0 434.3l5.0 -5.0M412.1 432.7h7M415.6 429.2v7M413.1 430.1l5.0 5.0M413.1 435.2l5.0 -5.0M412.8 433.9h7M416.3 430.4v7M413.8 431.4l5.0 5.0M413.8 436.4l5.0 -5.0M413.4 434.8h7M416.9 431.3v7M414.4 432.3l5.0 5.0M414.4 437.3l5.0 -5.0M415.3 434.7h7M418.8 431.2v7M416.3 432.2l5.0 5.0M416.3 437.2l5.0 -5.0M416.9 435.1h7M420.4 431.6v7M417.9 432.6l5.0 5.0M417.9 437.6l5.0 -5.0M418.3 436.2h7M421.8 432.7v7M419.3 433.7l5.0 5.0M419.3 438.7l5.0 -5.0" stroke="#ff00ff" stroke-width="1.25" fill="none"/>
<path d="M410.4 430.0h7M413.9 426.5v7M411.4 427.5l5.0 5.0M411.4 432.5l5.0 -5.0M412.1 429.3h7M415.6 425.8v7M413.1 426.8l5.0 5.0M413.1 431.8l5.0 -5.0M414.3 428.8h7M417.8 425.3v7M415.3 426.3l5.0 5.0M415.3 431.3l5.0 -5.0M415.9 427.9h7M419.4 424.4v7M416.8 425.4l5.0 5.0M416.8 430.4l5.0 -5.0M417.4 427.9h7M420.9 424.4v7M418.4 425.4l5.0 5.0M418.4 430.4l5.0 -5.0M419.4 426.9h7M422.9 423.4v7M420.4 424.4l5.0 5.0M420.4 429.4l5.0 -5.0M420.4 426.6h7M423.9 423.1v7M421.3 424.1l5.0 5.0M421.3 429.1l5.0 -5.0M422.4 426.7h7M425.9 423.2v7M423.4 424.2l5.0 5.0M423.4 429.2l5.0 -5.0M424.6 426.1h7M428.1 422.6v7M425.5 423.6l5.0 5.0M425.5 428.6l5.0 -5.0M426.6 426.1h7M430.1 422.6v7M427.5 423.6l5.0 5.0M427.5 428.6l5.0 -5.0M427.7 426.1h7M431.2 422.6v7M428.7 423.6l5.0 5.0M428.7 428.6l5.0 -5.0M430.0 425.9h7M433.5 422.4v7M431.0 423.3l5.0 5.0M431.0 428.4l5.0 -5.0M431.1 425.8h7M434.6 422.3v7M432.1 423.3l5.0 5.0M432.1 428.3l5.0 -5.0M433.5 426.0h7M437.0 422.5v7M434.5 423.5l5.0 5.0M434.5 428.5l5.0 -5.0M435.6 426.7h7M439.1 423.2v7M436.6 424.1l5.0 5.0M436.6 429.2l5.0 -5.0M437.2 426.6h7M440.7 423.1v7M438.2 424.1l5.0 5.0M438.2 429.1l5.0 -5.0M438.7 426.6h7M442.2 423.1v7M439.6 424.0l5.0 5.0M439.6 429.1l5.0 -5.0M441.0 426.6h7M444.5 423.1v7M441.9 424.0l5.0 5.0M441.9 429.1l5.0 -5.0M441.7 427.0h7M445.2 423.5v7M442.7 424.5l5.0 5.0M442.7 429.5l5.0 -5.0M444.5 426.7h7M448.0 423.2v7M445.5 424.2l5.0 5.0M445.5 429.3l5.0 -5.0M446.3 427.6h7M449.8 424.1v7M447.3 425.1l5.0 5.0M447.3 430.1l5.0 -5.0M447.6 427.3h7M451.1 423.8v7M448.6 424.8l5.0 5.0M448.6 429.9l5.0 -5.0M449.1 428.0h7M452.6 424.5v7M450.0 425.5l5.0 5.0M450.0 430.5l5.0 -5.0M450.7 428.1h7M454.2 424.6v7M451.7 425.6l5.0 5.0M451.7 430.6l5.0 -5.0M452.9 428.1h7M456.4 424.6v7M453.8 425.6l5.0 5.0M453.8 430.6l5.0 -5.0M454.2 428.8h7M457.7 425.3v7M455.1 426.3l5.0 5.0M455.1 431.3l5.0 -5.0M456.0 428.9h7M459.5 425.4v7M457.0 426.4l5.0 5.0M457.0 431.4l5.0 -5.0M458.7 429.3h7M462.2 425.8v7M459.7 426.8l5.0 5.0M459.7 431.8l5.0 -5.0M459.5 430.1h7M463.0 426.6v7M460.5 427.5l5.0 5.0M460.5 432.6l5.0 -5.0M461.5 429.8h7M465.0 426.3v7M462.5 427.3l5.0 5.0M462.5 432.4l5.0 -5.0M463.3 430.3h7M466.8 426.8v7M464.3 427.7l5.0 5.0M464.3 432.8l5.0 -5.0M465.4 430.3h7M468.9 426.8v7M466.4 427.8l5.0 5.0M466.4 432.9l5.0 -5.0M467.3 430.7h7M470.8 427.2v7M468.3 428.2l5.0 5.0M468.3 433.2l5.0 -5.0M469.4 431.1h7M472.9 427.6v7M470.4 428.6l5.0 5.0M470.4 433.7l5.0 -5.0M470.2 431.2h7M473.7 427.7v7M471.2 428.7l5.0 5.0M471.2 433.7l5.0 -5.0M472.1 431.3h7M475.6 427.8v7M473.1 428.8l5.0 5.0M473.1 433.9l5.0 -5.0M474.5 430.6h7M478.0 427.1v7M475.5 428.1l5.0 5.0M475.5 433.1l5.0 -5.0M476.3 430.0h7M479.8 426.5v7M477.3 427.4l5.0 5.0M477.3 432.5l5.0 -5.0M478.2 429.6h7M481.7 426.1v7M479.2 427.1l5.0 5.0M479.2 432.2l5.0 -5.0M479.5 429.1h7M483.0 425.6v7M480.5 426.6l5.0 5.0M480.5 431.6l5.0 -5.0M481.0 428.9h7M484.5 425.4v7M482.0 426.4l5.0 5.0M482.0 431.4l5.0 -5.0M483.4 428.1h7M486.9 424.6v7M484.4 425.6l5.0 5.0M484.4 430.7l5.0 -5.0M484.6 427.7h7M488.1 424.2v7M485.6 425.1l5.0 5.0M485.6 430.2l5.0 -5.0M486.0 426.8h7M489.5 423.3v7M487.0 424.3l5.0 5.0M487.0 429.3l5.0 -5.0M488.4 426.3h7M491.9 422.8v7M489.4 423.8l5.0 5.0M489.4 428.8l5.0 -5.0M489.0 425.4h7M492.5 421.9v7M490.0 422.8l5.0 5.0M490.0 427.9l5.0 -5.0M491.5 424.3h7M495.0 420.8v7M492.5 421.7l5.0 5.0M492.5 426.8l5.0 -5.0M492.7 423.2h7M496.2 419.7v7M493.7 420.6l5.0 5.0M493.7 425.7l5.0 -5.0M494.1 422.8h7M497.6 419.3v7M495.1 420.3l5.0 5.0M495.1 425.3l5.0 -5.0M495.7 421.4h7M499.2 417.9v7M496.7 418.9l5.0 5.0M496.7 423.9l5.0 -5.0M497.0 420.0h7M500.5 416.5v7M498.0 417.5l5.0 5.0M498.0 422.5l5.0 -5.0M497.9 419.4h7M501.4 415.9v7M498.9 416.9l5.0 5.0M498.9 421.9l5.0 -5.0M500.0 417.6h7M503.5 414.1v7M501.0 415.1l5.0 5.0M501.0 420.1l5.0 -5.0M500.7 416.9h7M504.2 413.4v7M501.7 414.4l5.0 5.0M501.7 419.4l5.0 -5.0M502.4 416.1h7M505.9 412.6v7M503.3 413.6l5.0 5.0M503.3 418.6l5.0 -5.0M504.2 414.6h7M507.7 411.1v7M505.2 412.0l5.0 5.0M505.2 417.1l5.0 -5.0M505.5 413.4h7M509.0 409.9v7M506.5 410.9l5.0 5.0M506.5 415.9l5.0 -5.0M507.0 412.4h7M510.5 408.9v7M508.0 409.9l5.0 5.0M508.0 414.9l5.0 -5.0M508.2 411.7h7M511.7 408.2v7M509.2 409.2l5.0 5.0M509.2 414.3l5.0 -5.0" stroke="#ff00ff" stroke-width="1.25" fill="none"/>
<path d="M471.6 422.3h7M475.1 418.8v7M472.6 419.8l5.0 5.0M472.6 424.9l5.0 -5.0M473.9 421.4h7M477.4 417.9v7M474.9 418.9l5.0 5.0M474.9 424.0l5.0 -5.0M473.7 419.4h7M477.2 415.9v7M474.7 416.9l5.0 5.0M474.7 422.0l5.0 -5.0M474.4 418.6h7M477.9 415.1v7M475.4 416.1l5.0 5.0M475.4 421.1l5.0 -5.0M474.8 417.0h7M478.3 413.5v7M475.8 414.5l5.0 5.0M475.8 419.5l5.0 -5.0M475.3 415.5h7M478.8 412.0v7M476.3 413.0l5.0 5.0M476.3 418.0l5.0 -5.0M475.4 413.2h7M478.9 409.7v7M476.4 410.7l5.0 5.0M476.4 415.7l5.0 -5.0M476.6 412.4h7M480.1 408.9v7M477.6 409.8l5.0 5.0M477.6 414.9l5.0 -5.0M478.2 411.7h7M481.7 408.2v7M479.2 409.2l5.0 5.0M479.2 414.2l5.0 -5.0M478.4 409.6h7M481.9 406.1v7M479.3 407.1l5.0 5.0M479.3 412.1l5.0 -5.0M480.0 408.6h7M483.5 405.1v7M481.0 406.1l5.0 5.0M481.0 411.1l5.0 -5.0M481.7 408.3h7M485.2 404.8v7M482.7 405.8l5.0 5.0M482.7 410.9l5.0 -5.0" stroke="#ff00ff" stroke-width="1.25" fill="none"/>
<path d="M482.1 422.9h7M485.6 419.4v7M483.1 420.3l5.0 5.0M483.1 425.4l5.0 -5.0M482.6 421.9h7M486.1 418.4v7M483.6 419.3l5.0 5.0M483.6 424.4l5.0 -5.0M483.5 419.7h7M487.0 416.2v7M484.4 417.1l5.0 5.0M484.4 422.2l5.0 -5.0M484.9 419.1h7M488.4 415.6v7M485.8 416.6l5.0 5.0M485.8 421.6l5.0 -5.0M485.6 417.5h7M489.1 414.0v7M486.5 414.9l5.0 5.0M486.5 420.0l5.0 -5.0M486.2 416.8h7M489.7 413.3v7M487.2 414.3l5.0 5.0M487.2 419.3l5.0 -5.0M488.4 416.3h7M491.9 412.8v7M489.4 413.8l5.0 5.0M489.4 418.8l5.0 -5.0M489.8 416.5h7M493.3 413.0v7M490.7 413.9l5.0 5.0M490.7 419.0l5.0 -5.0M489.5 413.7h7M493.0 410.2v7M490.4 411.2l5.0 5.0M490.4 416.2l5.0 -5.0M491.6 413.3h7M495.1 409.8v7M492.5 410.8l5.0 5.0M492.5 415.9l5.0 -5.0M493.4 412.8h7M496.9 409.3v7M494.4 410.3l5.0 5.0M494.4 415.3l5.0 -5.0M494.3 411.4h7M497.8 407.9v7M495.2 408.9l5.0 5.0M495.2 414.0l5.0 -5.0M495.0 411.4h7M498.5 407.9v7M496.0 408.9l5.0 5.0M496.0 413.9l5.0 -5.0M495.5 409.5h7M499.0 406.0v7M496.5 407.0l5.0 5.0M496.5 412.0l5.0 -5.0M496.9 408.2h7M500.4 404.7v7M497.9 405.7l5.0 5.0M497.9 410.7l5.0 -5.0M498.7 407.7h7M502.2 404.2v7M499.7 405.2l5.0 5.0M499.7 410.2l5.0 -5.0M500.3 407.7h7M503.8 404.2v7M501.3 405.2l5.0 5.0M501.3 410.2l5.0 -5.0M500.6 406.3h7M504.1 402.8v7M501.6 403.8l5.0 5.0M501.6 408.8l5.0 -5.0M502.1 404.5h7M505.6 401.0v7M503.1 402.0l5.0 5.0M503.1 407.0l5.0 -5.0M504.4 405.1h7M507.9 401.6v7M505.4 402.5l5.0 5.0M505.4 407.6l5.0 -5.0M505.2 403.7h7M508.7 400.2v7M506.2 401.2l5.0 5.0M506.2 406.2l5.0 -5.0M504.7 401.7h7M508.2 398.2v7M505.7 399.1l5.0 5.0M505.7 404.2l5.0 -5.0M505.6 400.1h7M509.1 396.6v7M506.6 397.5l5.0 5.0M506.6 402.6l5.0 -5.0M508.1 400.1h7M511.6 396.6v7M509.1 397.6l5.0 5.0M509.1 402.6l5.0 -5.0M508.4 399.1h7M511.9 395.6v7M509.4 396.6l5.0 5.0M509.4 401.6l5.0 -5.0M508.8 397.8h7M512.3 394.3v7M509.8 395.2l5.0 5.0M509.8 400.3l5.0 -5.0M509.8 395.9h7M513.3 392.4v7M510.8 393.4l5.0 5.0M510.8 398.4l5.0 -5.0M510.8 395.3h7M514.3 391.8v7M511.8 392.8l5.0 5.0M511.8 397.9l5.0 -5.0M512.6 394.5h7M516.1 391.0v7M513.6 392.0l5.0 5.0M513.6 397.0l5.0 -5.0M512.6 392.9h7M516.1 389.4v7M513.6 390.4l5.0 5.0M513.6 395.5l5.0 -5.0M513.8 391.1h7M517.3 387.6v7M514.8 388.5l5.0 5.0M514.8 393.6l5.0 -5.0M514.2 390.4h7M517.7 386.9v7M515.2 387.9l5.0 5.0M515.2 392.9l5.0 -5.0M516.4 389.5h7M519.9 386.0v7M517.3 387.0l5.0 5.0M517.3 392.0l5.0 -5.0" stroke="#ff00ff" stroke-width="1.25" fill="none"/>
<path d="M487.1 417.6h7M490.6 414.1v7M488.1 415.0l5.0 5.0M488.1 420.1l5.0 -5.0M493.9 414.5h7M497.4 411.0v7M494.9 412.0l5.0 5.0M494.9 417.0l5.0 -5.0M483.8 415.4h7M487.3 411.9v7M484.7 412.9l5.0 5.0M484.7 417.9l5.0 -5.0M487.8 413.7h7M491.3 410.2v7M488.8 411.2l5.0 5.0M488.8 416.2l5.0 -5.0M495.3 417.1h7M498.8 413.6v7M496.3 414.6l5.0 5.0M496.3 419.6l5.0 -5.0M492.6 410.5h7M496.1 407.0v7M493.6 408.0l5.0 5.0M493.6 413.0l5.0 -5.0M493.2 412.0h7M496.7 408.5v7M494.2 409.5l5.0 5.0M494.2 414.5l5.0 -5.0M491.3 416.4h7M494.8 412.9v7M492.3 413.9l5.0 5.0M492.3 418.9l5.0 -5.0M496.7 415.8h7M500.2 412.3v7M497.6 413.3l5.0 5.0M497.6 418.3l5.0 -5.0M488.1 413.0h7M491.6 409.5v7M489.1 410.5l5.0 5.0M489.1 415.6l5.0 -5.0M492.7 412.3h7M496.2 408.8v7M493.7 409.8l5.0 5.0M493.7 414.8l5.0 -5.0M484.0 421.9h7M487.5 418.4v7M484.9 419.4l5.0 5.0M484.9 424.4l5.0 -5.0M485.3 419.4h7M488.8 415.9v7M486.3 416.9l5.0 5.0M486.3 421.9l5.0 -5.0M485.3 421.9h7M488.8 418.4v7M486.2 419.4l5.0 5.0M486.2 424.5l5.0 -5.0M494.7 417.0h7M498.2 413.5v7M495.7 414.5l5.0 5.0M495.7 419.5l5.0 -5.0M489.3 418.2h7M492.8 414.7v7M490.2 415.6l5.0 5.0M490.2 420.7l5.0 -5.0M493.5 415.6h7M497.0 412.1v7M494.5 413.1l5.0 5.0M494.5 418.2l5.0 -5.0M495.9 419.9h7M499.4 416.4v7M496.9 417.4l5.0 5.0M496.9 422.4l5.0 -5.0M484.8 418.1h7M488.3 414.6v7M485.8 415.6l5.0 5.0M485.8 420.6l5.0 -5.0M485.2 417.1h7M488.7 413.6v7M486.2 414.6l5.0 5.0M486.2 419.6l5.0 -5.0M496.3 414.2h7M499.8 410.7v7M497.3 411.6l5.0 5.0M497.3 416.7l5.0 -5.0M485.3 419.3h7M488.8 415.8v7M486.3 416.8l5.0 5.0M486.3 421.8l5.0 -5.0M492.1 422.0h7M495.6 418.5v7M493.1 419.5l5.0 5.0M493.1 424.5l5.0 -5.0M496.7 413.1h7M500.2 409.6v7M497.7 410.6l5.0 5.0M497.7 415.6l5.0 -5.0M485.3 419.0h7M488.8 415.5v7M486.2 416.5l5.0 5.0M486.2 421.6l5.0 -5.0M494.8 418.5h7M498.3 415.0v7M495.7 416.0l5.0 5.0M495.7 421.0l5.0 -5.0M484.6 418.9h7M488.1 415.4v7M485.6 416.4l5.0 5.0M485.6 421.4l5.0 -5.0M488.4 413.9h7M491.9 410.4v7M489.4 411.4l5.0 5.0M489.4 416.4l5.0 -5.0M486.1 423.1h7M489.6 419.6v7M487.1 420.6l5.0 5.0M487.1 425.6l5.0 -5.0M486.1 423.6h7M489.6 420.1v7M487.1 421.1l5.0 5.0M487.1 426.1l5.0 -5.0M495.3 414.4h7M498.8 410.9v7M496.3 411.9l5.0 5.0M496.3 416.9l5.0 -5.0M490.0 413.0h7M493.5 409.5v7M491.0 410.5l5.0 5.0M491.0 415.5l5.0 -5.0M496.0 417.0h7M499.5 413.5v7M497.0 414.5l5.0 5.0M497.0 419.5l5.0 -5.0M490.8 416.9h7M494.3 413.4v7M491.8 414.4l5.0 5.0M491.8 419.5l5.0 -5.0M485.2 415.2h7M488.7 411.7v7M486.2 412.7l5.0 5.0M486.2 417.7l5.0 -5.0M490.8 423.1h7M494.3 419.6v7M491.8 420.6l5.0 5.0M491.8 425.6l5.0 -5.0M492.6 418.2h7M496.1 414.7v7M493.6 415.6l5.0 5.0M493.6 420.7l5.0 -5.0M491.1 415.6h7M494.6 412.1v7M492.0 413.1l5.0 5.0M492.0 418.1l5.0 -5.0M488.6 415.8h7M492.1 412.3v7M489.6 413.2l5.0 5.0M489.6 418.3l5.0 -5.0M497.2 419.0h7M500.7 415.5v7M498.2 416.5l5.0 5.0M498.2 421.5l5.0 -5.0" stroke="#ff00ff" stroke-width="1.25" fill="none"/>
<path d="M478.0 423.4h7M481.5 419.9v7M479.0 420.8l5.0 5.0M479.0 425.9l5.0 -5.0M477.6 423.7h7M481.1 420.2v7M478.6 421.2l5.0 5.0M478.6 426.2l5.0 -5.0M480.5 418.7h7M484.0 415.2v7M481.4 416.2l5.0 5.0M481.4 421.3l5.0 -5.0M479.1 416.3h7M482.6 412.8v7M480.1 413.8l5.0 5.0M480.1 418.8l5.0 -5.0M475.2 422.5h7M478.7 419.0v7M476.1 420.0l5.0 5.0M476.1 425.0l5.0 -5.0M477.8 418.2h7M481.3 414.7v7M478.8 415.7l5.0 5.0M478.8 420.7l5.0 -5.0M473.8 418.5h7M477.3 415.0v7M474.8 416.0l5.0 5.0M474.8 421.0l5.0 -5.0M477.1 422.9h7M480.6 419.4v7M478.1 420.4l5.0 5.0M478.1 425.4l5.0 -5.0M478.6 415.5h7M482.1 412.0v7M479.6 413.0l5.0 5.0M479.6 418.1l5.0 -5.0M479.3 418.9h7M482.8 415.4v7M480.3 416.4l5.0 5.0M480.3 421.4l5.0 -5.0" stroke="#ff00ff" stroke-width="1.25" fill="none"/>
<path d="M514.8 389.1h7M518.3 385.6v7M515.8 386.6l5.0 5.0M515.8 391.7l5.0 -5.0M516.6 389.9h7M520.1 386.4v7M517.6 387.4l5.0 5.0M517.6 392.4l5.0 -5.0M517.6 391.6h7M521.1 388.1v7M518.5 389.1l5.0 5.0M518.5 394.1l5.0 -5.0M518.0 393.1h7M521.5 389.6v7M519.0 390.6l5.0 5.0M519.0 395.6l5.0 -5.0M518.9 394.7h7M522.4 391.2v7M519.9 392.2l5.0 5.0M519.9 397.3l5.0 -5.0M519.3 395.5h7M522.8 392.0v7M520.3 393.0l5.0 5.0M520.3 398.1l5.0 -5.0M520.4 397.0h7M523.9 393.5v7M521.3 394.5l5.0 5.0M521.3 399.5l5.0 -5.0M520.7 399.3h7M524.2 395.8v7M521.7 396.8l5.0 5.0M521.7 401.8l5.0 -5.0M520.9 400.5h7M524.4 397.0v7M521.8 398.0l5.0 5.0M521.8 403.0l5.0 -5.0M521.7 401.5h7M525.2 398.0v7M522.7 399.0l5.0 5.0M522.7 404.1l5.0 -5.0M522.3 403.3h7M525.8 399.8v7M523.3 400.8l5.0 5.0M523.3 405.8l5.0 -5.0M522.2 405.4h7M525.7 401.9v7M523.1 402.9l5.0 5.0M523.1 407.9l5.0 -5.0M521.6 406.8h7M525.1 403.3v7M522.6 404.3l5.0 5.0M522.6 409.3l5.0 -5.0M521.8 408.2h7M525.3 404.7v7M522.7 405.7l5.0 5.0M522.7 410.8l5.0 -5.0M522.0 409.9h7M525.5 406.4v7M523.0 407.4l5.0 5.0M523.0 412.5l5.0 -5.0" stroke="#ff00ff" stroke-width="1.25" fill="none"/>
<path d="M514.8 391.5h7M518.3 388.0v7M515.7 389.0l5.0 5.0M515.7 394.1l5.0 -5.0M513.2 392.0h7M516.7 388.5v7M514.2 389.5l5.0 5.0M514.2 394.6l5.0 -5.0M512.9 393.8h7M516.4 390.3v7M513.9 391.3l5.0 5.0M513.9 396.4l5.0 -5.0M512.8 395.3h7M516.3 391.8v7M513.8 392.8l5.0 5.0M513.8 397.8l5.0 -5.0M512.4 396.9h7M515.9 393.4v7M513.4 394.4l5.0 5.0M513.4 399.5l5.0 -5.0M511.2 398.0h7M514.7 394.5v7M512.2 395.5l5.0 5.0M512.2 400.5l5.0 -5.0M510.3 399.3h7M513.8 395.8v7M511.3 396.8l5.0 5.0M511.3 401.8l5.0 -5.0M510.1 401.3h7M513.6 397.8v7M511.1 398.8l5.0 5.0M511.1 403.8l5.0 -5.0M509.6 402.8h7M513.1 399.3v7M510.5 400.3l5.0 5.0M510.5 405.3l5.0 -5.0M510.0 404.4h7M513.5 400.9v7M511.0 401.9l5.0 5.0M511.0 406.9l5.0 -5.0" stroke="#ff00ff" stroke-width="1.25" fill="none"/>
<path d="M520.0 335.6h7M523.5 332.1v7M521.0 333.0l5.0 5.0M521.0 338.1l5.0 -5.0M520.0 337.1h7M523.5 333.6v7M521.0 334.6l5.0 5.0M521.0 339.6l5.0 -5.0M519.6 338.4h7M523.1 334.9v7M520.6 335.9l5.0 5.0M520.6 340.9l5.0 -5.0M519.0 339.3h7M522.5 335.8v7M520.0 336.7l5.0 5.0M520.0 341.8l5.0 -5.0M517.4 340.0h7M520.9 336.5v7M518.3 337.5l5.0 5.0M518.3 342.5l5.0 -5.0M516.1 340.3h7M519.6 336.8v7M517.0 337.8l5.0 5.0M517.0 342.8l5.0 -5.0M514.4 339.9h7M517.9 336.4v7M515.4 337.3l5.0 5.0M515.4 342.4l5.0 -5.0M513.8 339.0h7M517.3 335.5v7M514.8 336.5l5.0 5.0M514.8 341.6l5.0 -5.0M512.6 337.6h7M516.1 334.1v7M513.6 335.1l5.0 5.0M513.6 340.2l5.0 -5.0M512.3 335.9h7M515.8 332.4v7M513.2 333.4l5.0 5.0M513.2 338.4l5.0 -5.0M512.3 334.4h7M515.8 330.9v7M513.3 331.9l5.0 5.0M513.3 336.9l5.0 -5.0M512.7 333.4h7M516.2 329.9v7M513.7 330.9l5.0 5.0M513.7 335.9l5.0 -5.0M513.4 331.5h7M516.9 328.0v7M514.4 328.9l5.0 5.0M514.4 334.0l5.0 -5.0M514.2 330.5h7M517.7 327.0v7M515.1 328.0l5.0 5.0M515.1 333.1l5.0 -5.0M516.0 330.1h7M519.5 326.6v7M517.0 327.6l5.0 5.0M517.0 332.6l5.0 -5.0M516.7 330.0h7M520.2 326.5v7M517.7 327.5l5.0 5.0M517.7 332.6l5.0 -5.0M518.4 330.7h7M521.9 327.2v7M519.3 328.1l5.0 5.0M519.3 333.2l5.0 -5.0M519.4 331.9h7M522.9 328.4v7M520.4 329.4l5.0 5.0M520.4 334.4l5.0 -5.0M520.0 332.7h7M523.5 329.2v7M521.0 330.2l5.0 5.0M521.0 335.2l5.0 -5.0M520.3 335.0h7M523.8 331.5v7M521.2 332.5l5.0 5.0M521.2 337.5l5.0 -5.0" stroke="#ffff00" stroke-width="1.25" fill="none"/>
<path d="M520.9 341.4h7M524.4 337.9v7M521.9 338.9l5.0 5.0M521.9 343.9l5.0 -5.0M522.1 342.4h7M525.6 338.9v7M523.1 339.9l5.0 5.0M523.1 344.9l5.0 -5.0M524.2 343.5h7M527.7 340.0v7M525.1 341.0l5.0 5.0M525.1 346.1l5.0 -5.0M524.1 345.4h7M527.6 341.9v7M525.1 342.8l5.0 5.0M525.1 347.9l5.0 -5.0M524.6 346.4h7M528.1 342.9v7M525.6 343.9l5.0 5.0M525.6 348.9l5.0 -5.0M524.4 347.8h7M527.9 344.3v7M525.4 345.2l5.0 5.0M525.4 350.3l5.0 -5.0M524.8 349.7h7M528.3 346.2v7M525.8 347.2l5.0 5.0M525.8 352.3l5.0 -5.0M525.2 350.5h7M528.7 347.0v7M526.1 348.0l5.0 5.0M526.1 353.0l5.0 -5.0M524.7 352.3h7M528.2 348.8v7M525.7 349.8l5.0 5.0M525.7 354.9l5.0 -5.0M523.7 353.9h7M527.2 350.4v7M524.7 351.4l5.0 5.0M524.7 356.4l5.0 -5.0M523.1 355.0h7M526.6 351.5v7M524.1 352.4l5.0 5.0M524.1 357.5l5.0 -5.0M523.9 356.6h7M527.4 353.1v7M524.9 354.0l5.0 5.0M524.9 359.1l5.0 -5.0" stroke="#ffff00" stroke-width="1.25" fill="none"/>
<path d="M518.5 362.0h7M522.0 358.5v7M519.5 359.5l5.0 5.0M519.5 364.5l5.0 -5.0M517.5 366.0h7M521.0 362.5v7M518.5 363.5l5.0 5.0M518.5 368.5l5.0 -5.0M514.5 369.5h7M518.0 366.0v7M515.5 367.0l5.0 5.0M515.5 372.0l5.0 -5.0M508.0 371.5h7M511.5 368.0v7M509.0 369.0l5.0 5.0M509.0 374.0l5.0 -5.0M501.5 371.0h7M505.0 367.5v7M502.5 368.5l5.0 5.0M502.5 373.5l5.0 -5.0M496.0 371.5h7M499.5 368.0v7M497.0 369.0l5.0 5.0M497.0 374.0l5.0 -5.0M492.0 375.5h7M495.5 372.0v7M493.0 373.0l5.0 5.0M493.0 378.0l5.0 -5.0M489.0 376.5h7M492.5 373.0v7M490.0 374.0l5.0 5.0M490.0 379.0l5.0 -5.0M486.5 383.8h7M490.0 380.2v7M487.5 381.2l5.0 5.0M487.5 386.3l5.0 -5.0M480.2 392.0h7M483.8 388.5v7M481.2 389.5l5.0 5.0M481.2 394.5l5.0 -5.0M491.5 392.5h7M495.0 389.0v7M492.5 390.0l5.0 5.0M492.5 395.0l5.0 -5.0M496.5 397.0h7M500.0 393.5v7M497.5 394.5l5.0 5.0M497.5 399.5l5.0 -5.0" stroke="#ffff00" stroke-width="1.25" fill="none"/>
<path d="M467.5 403.3h7M471.0 399.8v7M468.4 400.8l5.0 5.0M468.4 405.9l5.0 -5.0M468.9 401.1h7M472.4 397.6v7M469.9 398.6l5.0 5.0M469.9 403.6l5.0 -5.0M469.9 401.3h7M473.4 397.8v7M470.9 398.8l5.0 5.0M470.9 403.8l5.0 -5.0M471.9 402.1h7M475.4 398.6v7M472.9 399.6l5.0 5.0M472.9 404.6l5.0 -5.0M473.9 401.6h7M477.4 398.1v7M474.9 399.1l5.0 5.0M474.9 404.1l5.0 -5.0M474.1 399.5h7M477.6 396.0v7M475.1 397.0l5.0 5.0M475.1 402.0l5.0 -5.0M476.6 400.8h7M480.1 397.3v7M477.6 398.3l5.0 5.0M477.6 403.3l5.0 -5.0M477.8 400.9h7M481.3 397.4v7M478.8 398.4l5.0 5.0M478.8 403.5l5.0 -5.0M479.2 399.5h7M482.7 396.0v7M480.1 397.0l5.0 5.0M480.1 402.0l5.0 -5.0M480.8 401.3h7M484.3 397.8v7M481.8 398.7l5.0 5.0M481.8 403.8l5.0 -5.0M482.1 401.5h7M485.6 398.0v7M483.1 399.0l5.0 5.0M483.1 404.0l5.0 -5.0M484.0 401.3h7M487.5 397.8v7M485.0 398.8l5.0 5.0M485.0 403.9l5.0 -5.0M484.7 402.4h7M488.2 398.9v7M485.7 399.9l5.0 5.0M485.7 404.9l5.0 -5.0M486.3 402.0h7M489.8 398.5v7M487.3 399.5l5.0 5.0M487.3 404.6l5.0 -5.0M487.2 404.7h7M490.7 401.2v7M488.1 402.2l5.0 5.0M488.1 407.2l5.0 -5.0M489.5 403.4h7M493.0 399.9v7M490.5 400.8l5.0 5.0M490.5 405.9l5.0 -5.0M491.3 403.2h7M494.8 399.7v7M492.2 400.7l5.0 5.0M492.2 405.7l5.0 -5.0M492.2 403.3h7M495.7 399.8v7M493.2 400.8l5.0 5.0M493.2 405.8l5.0 -5.0M494.1 404.6h7M497.6 401.1v7M495.0 402.1l5.0 5.0M495.0 407.2l5.0 -5.0M494.7 405.5h7M498.2 402.0v7M495.7 402.9l5.0 5.0M495.7 408.0l5.0 -5.0M496.3 407.3h7M499.8 403.8v7M497.3 404.7l5.0 5.0M497.3 409.8l5.0 -5.0M498.5 404.6h7M502.0 401.1v7M499.4 402.0l5.0 5.0M499.4 407.1l5.0 -5.0M499.3 405.6h7M502.8 402.1v7M500.3 403.1l5.0 5.0M500.3 408.1l5.0 -5.0M501.2 406.9h7M504.7 403.4v7M502.2 404.4l5.0 5.0M502.2 409.4l5.0 -5.0M502.1 406.5h7M505.6 403.0v7M503.1 403.9l5.0 5.0M503.1 409.0l5.0 -5.0M504.0 405.5h7M507.5 402.0v7M504.9 402.9l5.0 5.0M504.9 408.0l5.0 -5.0M505.6 406.1h7M509.1 402.6v7M506.6 403.6l5.0 5.0M506.6 408.7l5.0 -5.0" stroke="#ffff00" stroke-width="1.25" fill="none"/>
<path d="M461.5 407.5h7M465.0 404.0v7M462.5 405.0l5.0 5.0M462.5 410.0l5.0 -5.0M456.5 409.0h7M460.0 405.5v7M457.5 406.5l5.0 5.0M457.5 411.5l5.0 -5.0" stroke="#ffff00" stroke-width="1.25" fill="none"/>
<path d="M410.5 400.0h7M414.0 396.5v7M411.5 397.5l5.0 5.0M411.5 402.5l5.0 -5.0M416.1 396.0h7M419.6 392.5v7M417.1 393.5l5.0 5.0M417.1 398.5l5.0 -5.0M425.5 398.0h7M429.0 394.5v7M426.5 395.5l5.0 5.0M426.5 400.5l5.0 -5.0M412.1 412.0h7M415.6 408.5v7M413.1 409.5l5.0 5.0M413.1 414.5l5.0 -5.0M436.5 403.0h7M440.0 399.5v7M437.5 400.5l5.0 5.0M437.5 405.5l5.0 -5.0M445.5 408.0h7M449.0 404.5v7M446.5 405.5l5.0 5.0M446.5 410.5l5.0 -5.0M454.5 409.0h7M458.0 405.5v7M455.5 406.5l5.0 5.0M455.5 411.5l5.0 -5.0M419.5 429.0h7M423.0 425.5v7M420.5 426.5l5.0 5.0M420.5 431.5l5.0 -5.0M430.9 444.0h7M434.4 440.5v7M431.9 441.5l5.0 5.0M431.9 446.5l5.0 -5.0M444.9 454.4h7M448.4 450.9v7M445.9 451.9l5.0 5.0M445.9 456.9l5.0 -5.0M460.5 459.0h7M464.0 455.5v7M461.5 456.5l5.0 5.0M461.5 461.5l5.0 -5.0M476.5 460.4h7M480.0 456.9v7M477.5 457.9l5.0 5.0M477.5 462.9l5.0 -5.0M492.5 461.0h7M496.0 457.5v7M493.5 458.5l5.0 5.0M493.5 463.5l5.0 -5.0M506.9 461.0h7M510.4 457.5v7M507.9 458.5l5.0 5.0M507.9 463.5l5.0 -5.0M518.5 461.0h7M522.0 457.5v7M519.5 458.5l5.0 5.0M519.5 463.5l5.0 -5.0M526.5 459.0h7M530.0 455.5v7M527.5 456.5l5.0 5.0M527.5 461.5l5.0 -5.0M532.5 454.0h7M536.0 450.5v7M533.5 451.5l5.0 5.0M533.5 456.5l5.0 -5.0" stroke="#ffff00" stroke-width="1.25" fill="none"/>
<path d="M509.7 410.4h7M513.2 406.9v7M510.7 407.9l5.0 5.0M510.7 412.9l5.0 -5.0M509.3 412.6h7M512.8 409.1v7M510.3 410.1l5.0 5.0M510.3 415.1l5.0 -5.0M511.7 412.5h7M515.2 409.0v7M512.7 409.9l5.0 5.0M512.7 415.0l5.0 -5.0M513.0 413.9h7M516.5 410.4v7M514.0 411.3l5.0 5.0M514.0 416.4l5.0 -5.0M514.4 413.7h7M517.9 410.2v7M515.4 411.2l5.0 5.0M515.4 416.2l5.0 -5.0M515.3 415.2h7M518.8 411.7v7M516.3 412.7l5.0 5.0M516.3 417.8l5.0 -5.0M515.9 417.9h7M519.4 414.4v7M516.8 415.4l5.0 5.0M516.8 420.4l5.0 -5.0M518.8 417.3h7M522.3 413.8v7M519.8 414.8l5.0 5.0M519.8 419.8l5.0 -5.0M518.2 419.5h7M521.7 416.0v7M519.1 417.0l5.0 5.0M519.1 422.0l5.0 -5.0M519.5 420.1h7M523.0 416.6v7M520.5 417.6l5.0 5.0M520.5 422.7l5.0 -5.0M522.3 420.7h7M525.8 417.2v7M523.3 418.2l5.0 5.0M523.3 423.2l5.0 -5.0M521.8 422.9h7M525.3 419.4v7M522.7 420.4l5.0 5.0M522.7 425.5l5.0 -5.0M523.0 424.0h7M526.5 420.5v7M523.9 421.4l5.0 5.0M523.9 426.5l5.0 -5.0M525.1 424.3h7M528.6 420.8v7M526.1 421.8l5.0 5.0M526.1 426.8l5.0 -5.0M526.7 424.6h7M530.2 421.1v7M527.7 422.0l5.0 5.0M527.7 427.1l5.0 -5.0M527.5 425.8h7M531.0 422.3v7M528.5 423.2l5.0 5.0M528.5 428.3l5.0 -5.0M527.1 428.2h7M530.6 424.7v7M528.1 425.7l5.0 5.0M528.1 430.7l5.0 -5.0M529.1 429.5h7M532.6 426.0v7M530.1 427.0l5.0 5.0M530.1 432.0l5.0 -5.0M529.6 431.1h7M533.1 427.6v7M530.5 428.6l5.0 5.0M530.5 433.7l5.0 -5.0M530.1 432.4h7M533.6 428.9v7M531.1 429.9l5.0 5.0M531.1 434.9l5.0 -5.0" stroke="#ffff00" stroke-width="1.25" fill="none"/>
<path d="M524.5 414.0h7M528.0 410.5v7M525.5 411.5l5.0 5.0M525.5 416.5l5.0 -5.0M525.7 414.2h7M529.2 410.7v7M526.7 411.7l5.0 5.0M526.7 416.7l5.0 -5.0M526.8 416.2h7M530.3 412.7v7M527.8 413.7l5.0 5.0M527.8 418.7l5.0 -5.0M528.2 416.7h7M531.7 413.2v7M529.2 414.2l5.0 5.0M529.2 419.2l5.0 -5.0M529.7 417.7h7M533.2 414.2v7M530.7 415.1l5.0 5.0M530.7 420.2l5.0 -5.0M530.5 418.5h7M534.0 415.0v7M531.5 415.9l5.0 5.0M531.5 421.0l5.0 -5.0M531.5 420.5h7M535.0 417.0v7M532.5 418.0l5.0 5.0M532.5 423.0l5.0 -5.0M532.7 420.5h7M536.2 417.0v7M533.7 418.0l5.0 5.0M533.7 423.0l5.0 -5.0M534.7 421.0h7M538.2 417.5v7M535.7 418.5l5.0 5.0M535.7 423.5l5.0 -5.0" stroke="#ffff00" stroke-width="1.25" fill="none"/>
<path d="M520.7 422.6h7M524.2 419.1v7M521.7 420.0l5.0 5.0M521.7 425.1l5.0 -5.0M522.6 423.4h7M526.1 419.9v7M523.6 420.9l5.0 5.0M523.6 425.9l5.0 -5.0M522.0 425.3h7M525.5 421.8v7M522.9 422.8l5.0 5.0M522.9 427.8l5.0 -5.0M523.3 426.6h7M526.8 423.1v7M524.3 424.1l5.0 5.0M524.3 429.1l5.0 -5.0M524.2 428.5h7M527.7 425.0v7M525.2 426.0l5.0 5.0M525.2 431.0l5.0 -5.0M523.5 430.7h7M527.0 427.2v7M524.5 428.2l5.0 5.0M524.5 433.2l5.0 -5.0M523.7 432.0h7M527.2 428.5v7M524.7 429.5l5.0 5.0M524.7 434.5l5.0 -5.0M524.4 432.8h7M527.9 429.3v7M525.4 430.3l5.0 5.0M525.4 435.4l5.0 -5.0M525.4 434.6h7M528.9 431.1v7M526.4 432.1l5.0 5.0M526.4 437.1l5.0 -5.0M525.4 436.2h7M528.9 432.7v7M526.4 433.7l5.0 5.0M526.4 438.7l5.0 -5.0M525.8 437.8h7M529.3 434.3v7M526.8 435.3l5.0 5.0M526.8 440.4l5.0 -5.0M526.3 439.3h7M529.8 435.8v7M527.3 436.8l5.0 5.0M527.3 441.9l5.0 -5.0M526.5 441.3h7M530.0 437.8v7M527.5 438.8l5.0 5.0M527.5 443.8l5.0 -5.0M527.6 442.6h7M531.1 439.1v7M528.5 440.1l5.0 5.0M528.5 445.1l5.0 -5.0M527.5 444.5h7M531.0 441.0v7M528.5 442.0l5.0 5.0M528.5 447.0l5.0 -5.0M528.6 444.9h7M532.1 441.4v7M529.6 442.4l5.0 5.0M529.6 447.4l5.0 -5.0M529.8 446.5h7M533.3 443.0v7M530.8 444.0l5.0 5.0M530.8 449.0l5.0 -5.0M530.4 448.0h7M533.9 444.5v7M531.3 445.5l5.0 5.0M531.3 450.5l5.0 -5.0" stroke="#ffff00" stroke-width="1.25" fill="none"/>
<path d="M534.9 421.9h7M538.4 418.4v7M535.9 419.4l5.0 5.0M535.9 424.4l5.0 -5.0M535.9 422.8h7M539.4 419.3v7M536.9 420.3l5.0 5.0M536.9 425.3l5.0 -5.0M536.8 424.4h7M540.3 420.9v7M537.8 421.9l5.0 5.0M537.8 427.0l5.0 -5.0M538.8 424.9h7M542.3 421.4v7M539.8 422.3l5.0 5.0M539.8 427.4l5.0 -5.0M539.6 426.3h7M543.1 422.8v7M540.6 423.8l5.0 5.0M540.6 428.8l5.0 -5.0M541.2 427.0h7M544.7 423.5v7M542.1 424.5l5.0 5.0M542.1 429.5l5.0 -5.0M542.5 428.1h7M546.0 424.6v7M543.5 425.6l5.0 5.0M543.5 430.6l5.0 -5.0M543.6 428.5h7M547.1 425.0v7M544.5 425.9l5.0 5.0M544.5 431.0l5.0 -5.0M544.5 429.8h7M548.0 426.3v7M545.5 427.3l5.0 5.0M545.5 432.4l5.0 -5.0M545.4 431.8h7M548.9 428.3v7M546.3 429.2l5.0 5.0M546.3 434.3l5.0 -5.0M546.3 432.5h7M549.8 429.0v7M547.2 430.0l5.0 5.0M547.2 435.1l5.0 -5.0M547.3 433.8h7M550.8 430.3v7M548.3 431.3l5.0 5.0M548.3 436.3l5.0 -5.0M549.6 434.4h7M553.1 430.9v7M550.6 431.9l5.0 5.0M550.6 437.0l5.0 -5.0M549.8 436.4h7M553.3 432.9v7M550.7 433.9l5.0 5.0M550.7 438.9l5.0 -5.0M550.5 437.3h7M554.0 433.8v7M551.5 434.7l5.0 5.0M551.5 439.8l5.0 -5.0M549.8 438.4h7M553.3 434.9v7M550.8 435.9l5.0 5.0M550.8 440.9l5.0 -5.0M550.4 440.4h7M553.9 436.9v7M551.4 437.8l5.0 5.0M551.4 442.9l5.0 -5.0M549.7 442.1h7M553.2 438.6v7M550.7 439.6l5.0 5.0M550.7 444.6l5.0 -5.0M548.5 443.0h7M552.0 439.5v7M549.5 440.5l5.0 5.0M549.5 445.6l5.0 -5.0M547.2 443.6h7M550.7 440.1v7M548.2 441.0l5.0 5.0M548.2 446.1l5.0 -5.0M545.5 443.7h7M549.0 440.2v7M546.5 441.2l5.0 5.0M546.5 446.2l5.0 -5.0M544.3 445.1h7M547.8 441.6v7M545.3 442.6l5.0 5.0M545.3 447.6l5.0 -5.0M543.1 443.3h7M546.6 439.8v7M544.1 440.7l5.0 5.0M544.1 445.8l5.0 -5.0M542.0 442.7h7M545.5 439.2v7M543.0 440.2l5.0 5.0M543.0 445.2l5.0 -5.0M539.6 442.2h7M543.1 438.7v7M540.6 439.7l5.0 5.0M540.6 444.8l5.0 -5.0M538.1 441.4h7M541.6 437.9v7M539.1 438.9l5.0 5.0M539.1 444.0l5.0 -5.0M538.1 439.3h7M541.6 435.8v7M539.1 436.8l5.0 5.0M539.1 441.8l5.0 -5.0M537.0 438.5h7M540.5 435.0v7M537.9 436.0l5.0 5.0M537.9 441.1l5.0 -5.0" stroke="#ffff00" stroke-width="1.25" fill="none"/>
<path d="M528.6 443.8h7M532.1 440.3v7M529.6 441.2l5.0 5.0M529.6 446.3l5.0 -5.0M529.8 445.1h7M533.3 441.6v7M530.8 442.6l5.0 5.0M530.8 447.6l5.0 -5.0M531.1 446.9h7M534.6 443.4v7M532.1 444.4l5.0 5.0M532.1 449.4l5.0 -5.0M532.3 448.5h7M535.8 445.0v7M533.3 446.0l5.0 5.0M533.3 451.1l5.0 -5.0M533.1 450.5h7M536.6 447.0v7M534.1 447.9l5.0 5.0M534.1 453.0l5.0 -5.0M532.2 453.3h7M535.7 449.8v7M533.1 450.8l5.0 5.0M533.1 455.9l5.0 -5.0M531.9 455.0h7M535.4 451.5v7M532.9 452.5l5.0 5.0M532.9 457.5l5.0 -5.0M529.2 456.6h7M532.7 453.1v7M530.2 454.1l5.0 5.0M530.2 459.1l5.0 -5.0M527.8 457.8h7M531.3 454.3v7M528.7 455.3l5.0 5.0M528.7 460.3l5.0 -5.0M526.1 459.3h7M529.6 455.8v7M527.1 456.7l5.0 5.0M527.1 461.8l5.0 -5.0M523.8 460.1h7M527.3 456.6v7M524.7 457.6l5.0 5.0M524.7 462.6l5.0 -5.0M521.9 460.1h7M525.4 456.6v7M522.8 457.6l5.0 5.0M522.8 462.6l5.0 -5.0M519.8 460.4h7M523.3 456.9v7M520.7 457.9l5.0 5.0M520.7 462.9l5.0 -5.0" stroke="#ffff00" stroke-width="1.25" fill="none"/></g>

<path d="M414.56 507.9v-3.1M414.56 313.0v3.1M393.5 491.66h3.1M646.2 491.66h-3.1" stroke="#262626" stroke-width="1.3" fill="none"/>
<text x="414.56" y="529.20" text-anchor="middle" font-size="15.5">-1</text>
<text x="387.90" y="497.26" text-anchor="end" font-size="15.5">-1</text>
<path d="M467.20 507.9v-3.1M467.20 313.0v3.1M393.5 451.05h3.1M646.2 451.05h-3.1" stroke="#262626" stroke-width="1.3" fill="none"/>
<text x="467.20" y="529.20" text-anchor="middle" font-size="15.5">-0.5</text>
<text x="387.90" y="456.65" text-anchor="end" font-size="15.5">-0.5</text>
<path d="M519.85 507.9v-3.1M519.85 313.0v3.1M393.5 410.45h3.1M646.2 410.45h-3.1" stroke="#262626" stroke-width="1.3" fill="none"/>
<text x="519.85" y="529.20" text-anchor="middle" font-size="15.5">0</text>
<text x="387.90" y="416.05" text-anchor="end" font-size="15.5">0</text>
<path d="M572.50 507.9v-3.1M572.50 313.0v3.1M393.5 369.85h3.1M646.2 369.85h-3.1" stroke="#262626" stroke-width="1.3" fill="none"/>
<text x="572.50" y="529.20" text-anchor="middle" font-size="15.5">0.5</text>
<text x="387.90" y="375.45" text-anchor="end" font-size="15.5">0.5</text>
<path d="M625.14 507.9v-3.1M625.14 313.0v3.1M393.5 329.24h3.1M646.2 329.24h-3.1" stroke="#262626" stroke-width="1.3" fill="none"/>
<text x="625.14" y="529.20" text-anchor="middle" font-size="15.5">1</text>
<text x="387.90" y="334.84" text-anchor="end" font-size="15.5">1</text>
<rect x="393.5" y="313.0" width="252.70" height="194.90" fill="none" stroke="#262626" stroke-width="1.35"/>
<text x="519.55" y="307.50" text-anchor="middle" font-size="17.1"><tspan font-style="italic">r</tspan> = -0.28</text>
<text x="521.3" y="550.0" text-anchor="middle" font-size="17.3"><tspan font-weight="bold">&lt;</tspan><tspan font-family="'Liberation Serif', 'DejaVu Serif', serif" font-style="italic">δ</tspan><tspan font-weight="bold">Jp.</tspan><tspan font-family="'Liberation Serif', 'DejaVu Serif', serif" font-style="italic">δ</tspan><tspan font-weight="bold">E&gt;</tspan>/|&lt;<tspan font-family="'Liberation Serif', 'DejaVu Serif', serif" font-style="italic">δ</tspan><tspan font-weight="bold">Jp.</tspan><tspan font-family="'Liberation Serif', 'DejaVu Serif', serif" font-style="italic">δ</tspan><tspan font-weight="bold">E&gt;</tspan>|<tspan dy="8.4" font-size="13.8">max</tspan></text>
<text transform="translate(346.6,410.0) rotate(-90)" text-anchor="middle" font-size="17.3">&lt;R<tspan dy="8.4" font-size="13.8">M</tspan><tspan dy="-8.4">&gt;/|&lt;R<tspan dy="8.4" font-size="13.8">M</tspan><tspan dy="-8.4">&gt;|</tspan><tspan dy="8.4" font-size="13.8">max</tspan></tspan></text>
<text x="343.6" y="321.3" font-size="17.6">(d)</text>
</g>
<g id="legend"><path d="M654.4 15.0h7.2M658.0 11.4v7.2" stroke="#ff0000" stroke-width="1.3" fill="none"/>
<text x="669.4" y="20.10" font-size="14">1</text>
<path d="M654.4 33.2h7.2M658.0 29.6v7.2" stroke="#00ff00" stroke-width="1.3" fill="none"/>
<text x="669.4" y="38.27" font-size="14">2</text>
<path d="M654.4 51.3h7.2M658.0 47.7v7.2" stroke="#0000ff" stroke-width="1.3" fill="none"/>
<text x="669.4" y="56.44" font-size="14">3</text>
<path d="M654.4 69.5h7.2M658.0 65.9v7.2" stroke="#00ffff" stroke-width="1.3" fill="none"/>
<text x="669.4" y="74.61" font-size="14">4</text>
<path d="M654.4 87.7h7.2M658.0 84.1v7.2" stroke="#ff00ff" stroke-width="1.3" fill="none"/>
<text x="669.4" y="92.78" font-size="14">5</text>
<path d="M654.4 105.9h7.2M658.0 102.3v7.2" stroke="#ffff00" stroke-width="1.3" fill="none"/>
<text x="669.4" y="110.95" font-size="14">6</text>
<path d="M654.4 124.0h7.2M658.0 120.4v7.2" stroke="#000000" stroke-width="1.3" fill="none"/>
<text x="669.4" y="129.12" font-size="14">7</text>
<path d="M654.4 142.2h7.2M658.0 138.6v7.2M655.5 139.6l5.1 5.1M655.5 144.7l5.1 -5.1" stroke="#ff0000" stroke-width="1.3" fill="none"/>
<text x="669.4" y="147.29" font-size="14">8</text>
<path d="M654.4 160.4h7.2M658.0 156.8v7.2M655.5 157.8l5.1 5.1M655.5 162.9l5.1 -5.1" stroke="#00ff00" stroke-width="1.3" fill="none"/>
<text x="669.4" y="165.46" font-size="14">9</text>
<path d="M654.4 178.5h7.2M658.0 174.9v7.2M655.5 176.0l5.1 5.1M655.5 181.1l5.1 -5.1" stroke="#0000ff" stroke-width="1.3" fill="none"/>
<text x="669.4" y="183.63" font-size="14">10</text>
<path d="M654.4 196.7h7.2M658.0 193.1v7.2M655.5 194.2l5.1 5.1M655.5 199.2l5.1 -5.1" stroke="#00ffff" stroke-width="1.3" fill="none"/>
<text x="669.4" y="201.80" font-size="14">11</text>
<path d="M654.4 214.9h7.2M658.0 211.3v7.2M655.5 212.3l5.1 5.1M655.5 217.4l5.1 -5.1" stroke="#ff00ff" stroke-width="1.3" fill="none"/>
<text x="669.4" y="219.97" font-size="14">12</text>
<path d="M654.4 233.0h7.2M658.0 229.4v7.2M655.5 230.5l5.1 5.1M655.5 235.6l5.1 -5.1" stroke="#ffff00" stroke-width="1.3" fill="none"/>
<text x="669.4" y="238.14" font-size="14">13</text></g>
</svg>
</body></html>
